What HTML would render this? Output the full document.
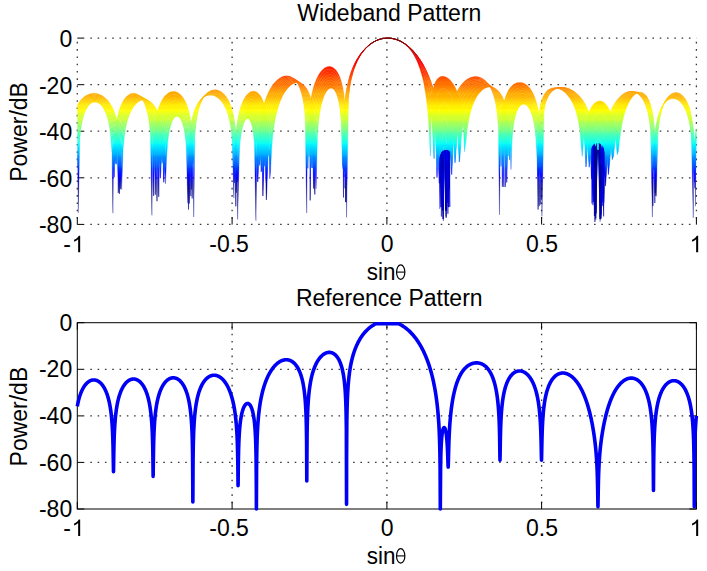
<!DOCTYPE html><html><head><meta charset="utf-8"><style>
html,body{margin:0;padding:0;background:#fff;width:707px;height:571px;overflow:hidden}
svg{display:block}
text{font-family:"Liberation Sans",sans-serif;font-size:23px;fill:#000}
</style></head><body>
<svg width="707" height="571" viewBox="0 0 707 571">

<line x1="232.1" y1="41.8" x2="232.1" y2="224.4" stroke="#3a3a3a" stroke-width="1.3" stroke-dasharray="1.6 5.7"/>
<line x1="386.9" y1="41.8" x2="386.9" y2="224.4" stroke="#3a3a3a" stroke-width="1.3" stroke-dasharray="1.6 5.7"/>
<line x1="541.6" y1="41.8" x2="541.6" y2="224.4" stroke="#3a3a3a" stroke-width="1.3" stroke-dasharray="1.6 5.7"/>
<line x1="90.3" y1="84.7" x2="696.4" y2="84.7" stroke="#3a3a3a" stroke-width="1.3" stroke-dasharray="1.6 5.7"/>
<line x1="90.3" y1="131.2" x2="696.4" y2="131.2" stroke="#3a3a3a" stroke-width="1.3" stroke-dasharray="1.6 5.7"/>
<line x1="90.3" y1="177.8" x2="696.4" y2="177.8" stroke="#3a3a3a" stroke-width="1.3" stroke-dasharray="1.6 5.7"/>
<line x1="90.3" y1="38.1" x2="696.4" y2="38.1" stroke="#3a3a3a" stroke-width="1.3" stroke-dasharray="1.6 5.7"/>
<line x1="90.3" y1="224.4" x2="696.4" y2="224.4" stroke="#3a3a3a" stroke-width="1.3" stroke-dasharray="1.6 5.7"/>
<line x1="77.3" y1="41.8" x2="77.3" y2="224.4" stroke="#3a3a3a" stroke-width="1.3" stroke-dasharray="1.6 5.7"/>
<line x1="696.4" y1="41.8" x2="696.4" y2="224.4" stroke="#3a3a3a" stroke-width="1.3" stroke-dasharray="1.6 5.7"/>
<path d="M77.3 224.4v-7M232.1 224.4v-7M386.9 224.4v-7M541.6 224.4v-7M696.4 224.4v-7M77.3 38.1h7M77.3 84.7h7M77.3 131.2h7M77.3 177.8h7M77.3 224.4h7" stroke="#000" stroke-width="1" fill="none"/>
<defs><linearGradient id="jetg" gradientUnits="userSpaceOnUse" x1="0" y1="38.10" x2="0" y2="224.40"><stop offset="0.0000" stop-color="#800000"/><stop offset="0.0125" stop-color="#800000"/><stop offset="0.0250" stop-color="#8f0000"/><stop offset="0.0375" stop-color="#9f0000"/><stop offset="0.0500" stop-color="#af0000"/><stop offset="0.0625" stop-color="#af0000"/><stop offset="0.0750" stop-color="#bf0000"/><stop offset="0.0875" stop-color="#cf0000"/><stop offset="0.1000" stop-color="#df0000"/><stop offset="0.1125" stop-color="#ef0000"/><stop offset="0.1250" stop-color="#ef0000"/><stop offset="0.1375" stop-color="#ff0000"/><stop offset="0.1500" stop-color="#ff1000"/><stop offset="0.1625" stop-color="#ff2000"/><stop offset="0.1750" stop-color="#ff3000"/><stop offset="0.1875" stop-color="#ff3000"/><stop offset="0.2000" stop-color="#ff4000"/><stop offset="0.2125" stop-color="#ff5000"/><stop offset="0.2250" stop-color="#ff6000"/><stop offset="0.2375" stop-color="#ff7000"/><stop offset="0.2500" stop-color="#ff7000"/><stop offset="0.2625" stop-color="#ff8000"/><stop offset="0.2750" stop-color="#ff8f00"/><stop offset="0.2875" stop-color="#ff9f00"/><stop offset="0.3000" stop-color="#ffaf00"/><stop offset="0.3125" stop-color="#ffaf00"/><stop offset="0.3250" stop-color="#ffbf00"/><stop offset="0.3375" stop-color="#ffcf00"/><stop offset="0.3500" stop-color="#ffdf00"/><stop offset="0.3625" stop-color="#ffef00"/><stop offset="0.3750" stop-color="#ffef00"/><stop offset="0.3875" stop-color="#ffff00"/><stop offset="0.4000" stop-color="#efff10"/><stop offset="0.4125" stop-color="#dfff20"/><stop offset="0.4250" stop-color="#cfff30"/><stop offset="0.4375" stop-color="#cfff30"/><stop offset="0.4500" stop-color="#afff50"/><stop offset="0.4625" stop-color="#9fff60"/><stop offset="0.4750" stop-color="#8fff70"/><stop offset="0.4875" stop-color="#80ff80"/><stop offset="0.5000" stop-color="#70ff8f"/><stop offset="0.5125" stop-color="#50ffaf"/><stop offset="0.5250" stop-color="#40ffbf"/><stop offset="0.5375" stop-color="#30ffcf"/><stop offset="0.5500" stop-color="#20ffdf"/><stop offset="0.5625" stop-color="#10ffef"/><stop offset="0.5750" stop-color="#00efff"/><stop offset="0.5875" stop-color="#00dfff"/><stop offset="0.6000" stop-color="#00cfff"/><stop offset="0.6125" stop-color="#00bfff"/><stop offset="0.6250" stop-color="#00afff"/><stop offset="0.6375" stop-color="#008fff"/><stop offset="0.6500" stop-color="#0080ff"/><stop offset="0.6625" stop-color="#0070ff"/><stop offset="0.6750" stop-color="#0060ff"/><stop offset="0.6875" stop-color="#0050ff"/><stop offset="0.7000" stop-color="#0030ff"/><stop offset="0.7125" stop-color="#0020ff"/><stop offset="0.7250" stop-color="#0010ff"/><stop offset="0.7375" stop-color="#0000ff"/><stop offset="0.7500" stop-color="#0000ef"/><stop offset="0.7625" stop-color="#0000cf"/><stop offset="0.7750" stop-color="#0000bf"/><stop offset="0.7875" stop-color="#0000af"/><stop offset="0.8000" stop-color="#00009f"/><stop offset="0.8125" stop-color="#00008f"/><stop offset="0.8250" stop-color="#00008f"/><stop offset="0.8375" stop-color="#00008f"/><stop offset="0.8500" stop-color="#00008f"/><stop offset="0.8625" stop-color="#00008f"/><stop offset="0.8750" stop-color="#00008f"/><stop offset="0.8875" stop-color="#00008f"/><stop offset="0.9000" stop-color="#00008f"/><stop offset="0.9125" stop-color="#00008f"/><stop offset="0.9250" stop-color="#00008f"/><stop offset="0.9375" stop-color="#00008f"/><stop offset="0.9500" stop-color="#00008f"/><stop offset="0.9625" stop-color="#00008f"/><stop offset="0.9750" stop-color="#00008f"/><stop offset="0.9875" stop-color="#00008f"/><stop offset="1.0000" stop-color="#00008f"/></linearGradient><clipPath id="c1"><rect x="77.3" y="37.1" width="619.1" height="187.3"/></clipPath><clipPath id="c3"><path d="M439.0 226.4V162.0A7.0 12.0 0 0 1 453.0 162.0V226.4ZM590.5 226.4V153.0A7.0 10.0 0 0 1 604.5 153.0V226.4Z"/></clipPath></defs><g clip-path="url(#c1)"><path d="M77.3 108 77.5 107.5 78.2 106.1 79.8 103.5 81 101.7 82.3 100.2 83.5 99 84.7 97.9 86 97 87.2 96.2 88.4 95.6 89.7 95.1 90.9 94.8 92.2 94.5 93.4 94.4 94.6 94.4 95.9 94.5 97.1 94.7 98.3 95.1 99.6 95.5 100.8 96.1 102.1 96.8 103.3 97.7 104.5 98.7 105.8 99.9 107 101.2 108.3 102.8 109.5 104.6 110.7 106.8 112 109.2 112.9 111.4 113.5 112.9 114 114.4 114.1 114.6 114.6 116.4 115.1 117.9 115.2 118.4 115.8 120.7 116.1 122.3 116.4 123.3 116.9 126.3 117.2 128 117.5 129.9 118.1 134.2 118.3 136.1 119.4 150 120.5 189.1 121.6 155.3 123.1 136.5 124.4 128.3 125.6 122.5 126.8 118 128.1 114.4 129.3 111.4 130.5 108.9 131.8 106.8 133 105.1 134.3 103.6 135.5 102.4 136.7 101.3 138 100.5 139.2 99.9 140.4 99.4 141.7 99.1 142.9 99 144.2 99.1 145.4 99.3 146.6 99.7 147.9 100.3 149.1 101.1 150.4 102.1 151.9 103.7 152.8 104.9 153.6 106 153.7 106.2 154.6 107.7 155.3 109 155.5 109.5 156.4 111.5 157 112.9 157.3 113.9 158.3 116.7 158.7 118.3 159.2 120.1 160.1 124.3 160.4 126.2 162.1 139.9 162.7 148.8 163.8 182.3 165.5 146.6 166.5 137.7 167.7 130 168.9 124.7 170.2 120.8 171.4 118 172.6 115.9 173.9 114.5 175.1 113.6 176.4 113.2 177.6 113.4 178.8 114.1 180.1 115.4 181.3 117.3 182.5 120.1 183.8 123.9 185 129.4 186.3 137.7 187.8 160.2 188.5 209.5 189.3 151.7 190 138.3 190.2 136.4 190.6 132.2 190.8 130.4 190.9 128.8 191.3 125.9 191.5 124.9 191.7 123.4 192.1 121.2 192.2 120.7 192.5 119.2 192.9 117.4 193 117.2 193.3 115.8 193.7 114.4 194.9 110.4 196.2 107.3 197.4 104.7 198.6 102.6 199.9 100.8 201.1 99.3 202.4 98.1 203.6 97.1 204.8 96.2 206.1 95.6 207.3 95.1 208.5 94.7 209.8 94.5 211 94.5 212.3 94.6 213.5 94.8 214.7 95.2 216 95.7 217.2 96.4 218.5 97.3 219.7 98.3 220.9 99.5 222.2 101 223.4 102.7 224.6 104.8 225.9 107.2 227.1 110.1 228.4 113.6 229.6 118.1 230.8 124 232.1 132.5 233.9 163.5 234.4 182.8 234.9 166.5 235.3 152.4 235.4 150.3 235.7 145.5 235.8 143.4 235.9 141.5 236.2 138.1 236.3 136.9 236.4 135.1 236.7 132.5 236.7 131.9 236.9 130.2 237.2 128.1 237.2 127.8 237.4 126.1 237.6 124.3 239.5 114.3 240.7 109.6 242 105.9 243.2 102.9 244.5 100.5 245.7 98.5 246.9 96.9 248.2 95.7 249.4 94.8 250.6 94.1 251.9 93.8 253.1 93.8 254.4 94 255.9 94.8 256.8 95.5 257.7 96.3 257.8 96.4 258.7 97.6 259.4 98.6 259.6 99 260.6 100.8 261.1 102 261.5 102.9 262.4 105.5 262.9 107 263.3 108.7 264.3 112.7 264.6 114.5 266.4 127.7 268.1 156.1 269.8 146 270.5 139.7 271.7 129.3 272.9 121.4 274.2 115.2 275.4 110.2 276.7 106 277.9 102.4 279.1 99.3 280.4 96.6 281.6 94.2 282.8 92 284.1 90.1 285.3 88.5 286.6 87 287.8 85.8 289 84.7 290.3 83.8 291.5 83 292.7 82.5 294 82 295.2 81.8 296.5 81.7 297.7 81.9 298.9 82.2 300.2 82.7 301.4 83.4 302.7 84.4 303.9 85.7 305.1 87.4 306.7 90 307.3 91.3 307.8 92.6 307.9 92.8 308.5 94.4 309 95.8 309.2 96.2 309.8 98.4 310.2 99.8 310.4 100.8 311 103.7 311.3 105.3 311.6 107.1 312.2 111.3 312.5 113.2 313.6 127 314.8 194.5 316 141.1 317.5 120.3 318.7 111.2 320 104.7 321.2 99.8 322.5 95.9 323.7 92.8 324.9 90.4 326.2 88.5 327.4 87.1 328.7 86.1 329.9 85.6 331.1 85.5 332.4 85.8 333.6 86.7 334.8 88.1 336.1 90.1 337.3 93.1 338.6 97.1 339.8 103 341 112.3 342.5 139.2 343 168.6 343.5 131.9 344 117.9 344.1 115.9 344.4 111.4 344.5 109.4 344.7 107.7 344.9 104.5 345 103.4 345.2 101.7 345.5 99.2 345.5 98.6 345.7 97 346 94.9 346 94.7 346.3 93.1 346.5 91.4 348.5 81.7 349.7 77 350.9 73.1 352.2 69.7 353.4 66.6 354.7 63.9 355.9 61.5 357.1 59.3 358.4 57.3 359.6 55.4 360.8 53.7 362.1 52.1 363.3 50.6 364.6 49.2 365.8 48 367 46.8 368.3 45.7 369.5 44.7 370.8 43.8 372 43 373.2 42.2 374.5 41.5 375.7 40.9 376.9 40.3 378.2 39.8 379.4 39.4 380.7 39 381.9 38.7 383.1 38.5 384.4 38.3 385.6 38.2 386.9 38.1 388.1 38.1 389.3 38.2 390.6 38.3 391.8 38.4 393 38.7 394.3 38.9 395.5 39.3 396.8 39.7 398 40.2 399.2 40.7 400.5 41.3 401.7 42 402.9 42.7 404.2 43.6 405.4 44.5 406.7 45.5 407.9 46.6 409.1 47.8 410.4 49.1 411.6 50.5 412.9 52.1 414.1 53.8 415.3 55.7 416.6 57.7 417.8 59.9 419 62.4 420.3 65.1 421.5 68.1 422.8 71.5 424 75.3 425.2 79.5 426.5 84.4 427.7 90.1 428.9 96.9 430.4 106.7 431.4 116.3 432.7 132.6 434.1 158.7 435.1 109 436.4 99.5 437 96.6 439.3 91 439.7 90.5 440.7 89.5 441.1 89.2 441.4 89 442 88.8 442.2 88.7 442.5 88.6 442.9 88.6 443 88.6 443.1 88.6 443.3 88.6 443.3 88.6 443.3 88.6 443.4 88.6 445 89.1 446 89.6 446 89.6 446.1 89.7 446.1 89.7 446.3 89.9 446.6 90.1 446.7 90.2 447.2 90.7 447.6 91.1 447.9 91.4 448.7 92.5 449.3 93.3 449.8 94.2 451.2 96.8 451.7 98.1 452.5 100 453.7 103.9 455 109.1 456.2 115.5 457.4 125.7 459.3 162 459.9 156.7 461.1 139 462.4 127.8 463.6 120.2 464.5 115.7 466.1 109.9 467.3 106.1 468.6 102.9 469.8 100.2 471 97.9 472.3 95.8 473.5 94 474.8 92.5 476 91.1 477.2 89.9 478.5 88.9 479.7 88 481 87.3 482.2 86.7 483.4 86.2 484.7 85.9 485.9 85.7 487.1 85.7 488.4 85.8 489.6 86 490.9 86.4 492.1 86.9 493.3 87.6 494.6 88.4 495.8 89.5 497 90.8 498.3 92.3 499.5 94.2 500.3 95.5 501 96.8 501.1 97 501.8 98.6 502.4 100 502.6 100.5 503.3 102.6 503.8 104.1 504.1 105.1 504.9 108 505.3 109.6 505.6 111.4 506.4 115.6 506.7 117.5 508.1 130.9 509.5 159.8 511 134.1 511.9 125.3 513.1 117.9 514.4 113 515.6 109.4 516.9 106.7 518.1 104.7 519.3 103.3 520.6 102.3 521.8 101.7 523.1 101.5 524.3 101.7 525.5 102.2 526.8 103.1 528 104.4 529.2 106.1 530.5 108.4 531.7 111.3 533 115.2 534.2 120.3 535.4 127.7 536.7 139.9 537.6 160 538.1 209.5 538.7 128.7 539.2 118.9 539.3 117.6 539.6 114.6 539.8 113.3 539.9 112.1 540.2 110 540.3 109.3 540.5 108.2 540.8 106.7 540.9 106.3 541.1 105.3 541.4 104 541.4 103.9 541.6 102.9 541.9 101.8 544.1 96.2 545.3 94.1 546.6 92.5 547.8 91.2 549.1 90.1 550.3 89.3 551.5 88.8 552.8 88.3 554 88 555.2 87.9 556.5 87.9 557.7 88 559 88.2 560.2 88.5 561.4 88.9 562.7 89.4 563.9 90.1 565.2 90.8 566.4 91.7 567.6 92.6 568.9 93.8 570.1 95 571.3 96.4 572.6 98 573.8 99.7 575.1 101.8 576.3 104.1 577.5 106.7 578.8 109.8 580 113.5 581.2 118.1 582.2 122.5 583.7 132.7 585 147.1 586 167 587.4 147.2 589.2 132.6 589.9 128.6 591.6 122.2 592 121 593 118.6 593.4 117.7 593.8 117 594.4 115.9 594.6 115.6 594.9 115.2 595.3 114.7 595.4 114.6 595.6 114.4 595.7 114.3 595.7 114.3 595.8 114.2 595.8 114.2 597.3 113 598.6 112.5 600.1 112.6 600.1 112.6 600.2 112.6 600.2 112.6 600.4 112.7 600.7 112.8 600.8 112.8 601.2 113.1 601.6 113.3 601.9 113.5 602.7 114.3 603.1 114.8 603.7 115.5 604.9 117.5 605.4 118.6 606 120 607.2 123.7 608.4 128.3 609.7 135.6 611 146.3 612.3 159.6 613.4 156 614.7 144.4 615.9 134.6 617.2 127.2 618.4 121.4 619.6 116.6 620.9 112.7 622.1 109.3 623.3 106.4 624.6 103.9 625.8 101.7 627.1 99.7 628.3 98.1 629.5 96.7 630.8 95.4 632 94.4 633.3 93.6 634.5 93 635.7 92.5 637 92.3 638.2 92.2 639.4 92.4 640.7 92.8 641.9 93.4 643.2 94.2 644.4 95.4 645.6 96.9 646.9 98.7 648.1 101.1 649.3 104.1 650.6 108 652.4 116.5 652.7 118.1 652.9 119.5 652.9 119.8 653.2 121.6 653.4 123.1 653.4 123.7 653.7 125.9 653.8 127.5 653.9 128.6 654.2 131.6 654.3 133.3 654.4 135.1 654.7 139.5 654.8 141.4 655.2 155.2 655.7 195.8 656.2 160.7 658 128.3 659.3 119.7 660.5 113.8 661.7 109.4 663 105.9 664.2 103.1 665.4 100.8 666.7 98.9 667.9 97.4 669.2 96.1 670.4 95.1 671.6 94.4 672.9 93.8 674.1 93.5 675.4 93.4 676.6 93.4 677.8 93.7 679.1 94.1 680.3 94.8 681.5 95.7 682.8 96.9 684 98.3 685.3 100.1 686.5 102.3 687.7 104.9 689 108.2 690.2 112.3 691.4 117.8 693.3 131.1 693.4 132.6 693.6 134.1 693.6 134.3 693.7 136 693.8 137.5 693.9 138 694 140.1 694.1 141.6 694.2 142.5 694.3 145.1 694.4 146.5 694.5 148 694.6 151.2 694.7 152.5 694.9 159.3 695.2 163 695.5 158.8 696.4 139.9 696.4 145.1 695.5 206.2 695.2 169.6 694.9 155.8 694.7 147.7 694.6 146.4 694.5 143.3 694.4 141.9 694.3 140.6 694.2 138.2 694.1 137.4 694 136.1 693.9 134.2 693.8 133.7 693.7 132.4 693.6 130.8 693.6 130.6 693.4 129.3 693.3 127.9 691.4 115.7 690.2 110.5 689 106.6 687.7 103.4 686.5 100.9 685.3 98.8 684 97.2 682.8 95.8 681.5 94.7 680.3 93.8 679.1 93.2 677.8 92.8 676.6 92.6 675.4 92.6 674.1 92.8 672.9 93.2 671.6 93.8 670.4 94.7 669.2 95.8 667.9 97.1 666.7 98.8 665.4 100.8 664.2 103.2 663 106.3 661.7 110 660.5 114.9 659.3 121.6 658 131.9 656.2 196.4 655.7 153.2 655.2 139.4 654.8 131.3 654.7 130 654.4 126.9 654.3 125.5 654.2 124.3 653.9 121.9 653.8 121.1 653.7 119.9 653.4 118 653.4 117.6 653.2 116.3 652.9 114.8 652.9 114.6 652.7 113.4 652.4 112.1 650.6 104.7 649.3 101.3 648.1 98.6 646.9 96.6 645.6 95.1 644.4 93.9 643.2 93.1 641.9 92.6 640.7 92.4 639.4 92.4 638.2 92.7 637 93.2 635.7 93.9 634.5 94.9 633.3 96.1 632 97.5 630.8 99.3 629.5 101.3 628.3 103.7 627.1 106.5 625.8 109.8 624.6 113.6 623.3 118.2 622.1 123.9 620.9 131.1 619.6 140.4 618.4 151.2 617.2 154.8 615.9 142.1 614.7 130.6 613.4 123.1 612.3 118.2 611 113.7 609.7 110.6 608.4 107.9 607.2 106 606 104.4 605.4 103.7 604.9 103.2 603.7 102.3 603.1 101.9 602.7 101.7 601.9 101.3 601.6 101.2 601.2 101.1 600.8 101 600.7 101 600.4 101 600.2 101 600.2 101 600.1 100.9 600.1 100.9 598.6 101 597.3 101.4 595.8 102.2 595.8 102.2 595.7 102.2 595.7 102.2 595.6 102.3 595.4 102.5 595.3 102.5 594.9 102.8 594.6 103.1 594.4 103.3 593.8 103.9 593.4 104.3 593 104.8 592 106.1 591.6 106.8 589.9 109.9 589.2 111.6 587.4 116.7 586 122.4 585 128.5 583.7 138.9 582.2 156.3 581.2 145.9 580 132 578.8 123.4 577.5 117.3 576.3 112.6 575.1 108.8 573.8 105.7 572.6 103 571.3 100.7 570.1 98.7 568.9 96.9 567.6 95.4 566.4 94 565.2 92.8 563.9 91.7 562.7 90.8 561.4 90 560.2 89.4 559 88.8 557.7 88.4 556.5 88.1 555.2 88 554 87.9 552.8 88 551.5 88.3 550.3 88.7 549.1 89.3 547.8 90.1 546.6 91.2 545.3 92.7 544.1 94.5 541.9 99.3 541.6 100.2 541.4 101 541.4 101.1 541.1 102.1 540.9 103 540.8 103.3 540.5 104.5 540.3 105.4 540.2 105.9 539.9 107.5 539.8 108.4 539.6 109.3 539.3 111.4 539.2 112.3 538.7 118 538.1 127.7 537.6 176.8 536.7 149.7 535.4 133.3 534.2 124.5 533 118.6 531.7 114.4 530.5 111.2 529.2 108.7 528 106.9 526.8 105.6 525.5 104.7 524.3 104.3 523.1 104.3 521.8 104.7 520.6 105.5 519.3 106.9 518.1 108.8 516.9 111.5 515.6 115.2 514.4 120.4 513.1 128.4 511.9 143.5 511 169.5 509.5 131 508.1 117.3 506.7 109.4 506.4 108.2 505.6 105.3 505.3 104 504.9 102.8 504.1 100.6 503.8 99.9 503.3 98.8 502.6 97.1 502.4 96.7 501.8 95.7 501.1 94.4 501 94.2 500.3 93.2 499.5 92.2 498.3 90.8 497 89.7 495.8 88.8 494.6 88.1 493.3 87.5 492.1 87.2 490.9 87 489.6 87 488.4 87.2 487.1 87.5 485.9 87.9 484.7 88.5 483.4 89.3 482.2 90.3 481 91.4 479.7 92.7 478.5 94.3 477.2 96 476 98.1 474.8 100.5 473.5 103.2 472.3 106.5 471 110.4 469.8 115.1 468.6 121.2 467.3 129.2 466.1 140.3 464.5 151.8 463.6 132.3 462.4 116.3 461.1 107.3 459.9 101.1 459.3 98.6 457.4 92.7 456.2 89.6 455 87.1 453.7 84.8 452.5 82.9 451.7 81.9 451.2 81.2 449.8 79.8 449.3 79.3 448.7 78.8 447.9 78.2 447.6 78 447.2 77.7 446.7 77.4 446.6 77.3 446.3 77.2 446.1 77.1 446.1 77.1 446 77.1 446 77.1 445 76.7 443.4 76.3 443.3 76.3 443.3 76.3 443.3 76.3 443.1 76.3 443 76.3 442.9 76.3 442.5 76.3 442.2 76.3 442 76.3 441.4 76.4 441.1 76.5 440.7 76.6 439.7 77 439.3 77.2 437 79.3 436.4 80.2 435.1 82.5 434.1 85.3 432.7 91 431.4 101 430.4 156.1 428.9 127.7 427.7 111 426.5 99.8 425.2 91.3 424 84.5 422.8 78.8 421.5 74 420.3 69.9 419 66.3 417.8 63.1 416.6 60.2 415.3 57.7 414.1 55.4 412.9 53.4 411.6 51.6 410.4 49.9 409.1 48.4 407.9 47.1 406.7 45.9 405.4 44.8 404.2 43.8 402.9 42.9 401.7 42.1 400.5 41.4 399.2 40.7 398 40.2 396.8 39.7 395.5 39.3 394.3 38.9 393 38.7 391.8 38.4 390.6 38.3 389.3 38.2 388.1 38.1 386.9 38.1 385.6 38.2 384.4 38.3 383.1 38.5 381.9 38.7 380.7 39 379.4 39.4 378.2 39.8 376.9 40.3 375.7 40.9 374.5 41.5 373.2 42.2 372 43 370.8 43.8 369.5 44.7 368.3 45.7 367 46.8 365.8 47.9 364.6 49.2 363.3 50.5 362.1 52 360.8 53.6 359.6 55.2 358.4 57.1 357.1 59.1 355.9 61.2 354.7 63.6 353.4 66.2 352.2 69.1 350.9 72.4 349.7 76.1 348.5 80.4 346.5 89.2 346.3 90.7 346 92.1 346 92.4 345.7 94.1 345.5 95.5 345.5 96 345.2 98.1 345 99.4 344.9 100.3 344.7 102.8 344.5 104.2 344.4 105.7 344.1 108.9 344 110.3 343.5 118.7 343 132.7 342.5 166.2 341 119.5 339.8 107.8 338.6 100.9 337.3 96.3 336.1 93.1 334.8 90.8 333.6 89.3 332.4 88.5 331.1 88.2 329.9 88.4 328.7 89.1 327.4 90.2 326.2 91.9 324.9 94.2 323.7 97.1 322.5 100.8 321.2 105.6 320 111.9 318.7 120.8 317.5 135.2 316 188.8 314.8 127.6 313.6 113.8 312.5 105.9 312.2 104.7 311.6 101.7 311.3 100.5 311 99.3 310.4 97.1 310.2 96.4 309.8 95.2 309.2 93.6 309 93.2 308.5 92.1 307.9 90.8 307.8 90.7 307.3 89.7 306.7 88.6 305.1 86.5 303.9 85.2 302.7 84.2 301.4 83.5 300.2 83 298.9 82.7 297.7 82.6 296.5 82.7 295.2 82.9 294 83.4 292.7 84 291.5 84.8 290.3 85.7 289 86.9 287.8 88.2 286.6 89.7 285.3 91.4 284.1 93.4 282.8 95.6 281.6 98.2 280.4 101 279.1 104.3 277.9 108.2 276.7 112.7 275.4 118.2 274.2 125.1 272.9 134.4 271.7 148.2 270.5 172.1 269.8 179 268.1 126.8 266.4 113.2 264.6 105.6 264.3 104.4 263.3 101.7 262.9 100.6 262.4 99.5 261.5 97.6 261.1 97 260.6 96.1 259.6 94.8 259.4 94.5 258.7 93.7 257.8 92.9 257.7 92.8 256.8 92.2 255.9 91.7 254.4 91.3 253.1 91.2 251.9 91.4 250.6 91.8 249.4 92.5 248.2 93.5 246.9 94.8 245.7 96.3 244.5 98.3 243.2 100.6 242 103.4 240.7 106.9 239.5 111.2 237.6 120.2 237.4 121.8 237.2 123.2 237.2 123.4 236.9 125.3 236.7 126.7 236.7 127.2 236.4 129.4 236.3 130.9 236.2 131.8 235.9 134.5 235.8 135.9 235.7 137.5 235.4 141 235.3 142.5 234.9 151.7 234.4 167.2 233.9 198 232.1 137.8 230.8 127.5 229.6 120.9 228.4 115.9 227.1 112.1 225.9 109 224.6 106.4 223.4 104.2 222.2 102.4 220.9 100.8 219.7 99.5 218.5 98.4 217.2 97.4 216 96.7 214.7 96.1 213.5 95.6 212.3 95.3 211 95.2 209.8 95.2 208.5 95.3 207.3 95.6 206.1 96 204.8 96.5 203.6 97.3 202.4 98.2 201.1 99.3 199.9 100.7 198.6 102.3 197.4 104.2 196.2 106.5 194.9 109.3 193.7 112.7 193.3 114 193 115.1 192.9 115.3 192.5 116.8 192.2 118 192.1 118.4 191.7 120.2 191.5 121.4 191.3 122.2 190.9 124.5 190.8 125.7 190.6 127 190.2 130 190 131.2 189.3 139 188.5 152.4 187.8 203.3 186.3 146.4 185 134.9 183.8 128.2 182.5 123.6 181.3 120.5 180.1 118.4 178.8 117 177.6 116.4 176.4 116.4 175.1 117.1 173.9 118.4 172.6 120.5 171.4 123.5 170.2 127.6 168.9 133.6 167.7 142.6 166.5 159.6 165.5 183.8 163.8 141 162.7 131.2 162.1 127.3 160.4 119.4 160.1 118.2 159.2 115.3 158.7 114 158.3 112.9 157.3 110.8 157 110.1 156.4 109 155.5 107.4 155.3 107 154.6 106 153.7 104.9 153.6 104.7 152.8 103.8 151.9 102.9 150.4 101.7 149.1 101 147.9 100.4 146.6 100 145.4 99.8 144.2 99.8 142.9 100 141.7 100.3 140.4 100.7 139.2 101.4 138 102.2 136.7 103.2 135.5 104.5 134.3 105.9 133 107.7 131.8 109.7 130.5 112.2 129.3 115.1 128.1 118.6 126.8 122.9 125.6 128.6 124.4 136.4 123.1 148.9 121.6 189.6 120.5 149.8 119.4 135.9 118.3 127.8 118.1 126.5 117.5 123.5 117.2 122.1 116.9 120.8 116.4 118.5 116.1 117.7 115.8 116.4 115.2 114.6 115.1 114.1 114.6 112.9 114.1 111.3 114 111.2 113.5 109.9 112.9 108.6 112 106.8 110.7 104.6 109.5 102.7 108.3 101 107 99.6 105.8 98.4 104.5 97.3 103.3 96.4 102.1 95.6 100.8 94.9 99.6 94.4 98.3 94 97.1 93.6 95.9 93.4 94.6 93.3 93.4 93.3 92.2 93.4 90.9 93.6 89.7 93.9 88.4 94.3 87.2 94.9 86 95.5 84.7 96.4 83.5 97.3 82.3 98.4 81 99.7 79.8 101.3 78.2 103.5 77.5 104.7 77.3 105.1z" fill="url(#jetg)" stroke="url(#jetg)" stroke-width="0.3"/>
<path d="M77.3 111.3 77.5 110.7 78.2 109.1 79.8 105.9 81 103.9 82.3 102.2 83.5 100.7 84.7 99.5 86 98.4 87.2 97.6 88.4 96.9 89.7 96.3 90.9 95.9 92.2 95.7 93.4 95.5 94.6 95.5 95.9 95.6 97.1 95.9 98.3 96.2 99.6 96.7 100.8 97.3 102.1 98.1 103.3 99 104.5 100.1 105.8 101.4 107 102.9 108.3 104.7 109.5 106.7 110.7 109.1 112 112 112.9 114.6 113.5 116.4 114 118.1 114.1 118.4 114.6 120.6 115.1 122.5 115.2 123.1 115.8 126.1 116.1 128.2 116.4 129.6 116.9 133.8 117.2 136.3 117.5 139.2 118.1 146.6 118.3 150.2 119.4 193.9 120.5 154.4 121.6 139.6 123.1 128.1 124.4 122 125.6 117.4 126.8 113.7 128.1 110.7 129.3 108.1 130.5 106 131.8 104.2 133 102.7 134.3 101.5 135.5 100.5 136.7 99.6 138 99 139.2 98.5 140.4 98.3 141.7 98.2 142.9 98.3 144.2 98.5 145.4 99 146.6 99.6 147.9 100.4 149.1 101.5 150.4 102.9 151.9 105 152.8 106.4 153.6 107.9 153.7 108.2 154.6 110.1 155.3 111.8 155.5 112.5 156.4 115.2 157 117.2 157.3 118.5 158.3 122.5 158.7 124.9 159.2 127.7 160.1 134.7 160.4 138.1 162.1 163.1 162.7 158.4 163.8 144.4 165.5 131.1 166.5 126.4 167.7 121.6 168.9 118.1 170.2 115.4 171.4 113.3 172.6 111.8 173.9 110.8 175.1 110.2 176.4 110.1 177.6 110.4 178.8 111.2 180.1 112.4 181.3 114.2 182.5 116.6 183.8 120 185 124.5 186.3 131 187.8 145.1 188.5 159 189.3 203.5 190 150.9 190.2 147.4 190.6 140.2 190.8 137.5 190.9 135.1 191.3 131 191.5 129.6 191.7 127.6 192.1 124.8 192.2 124.1 192.5 122.3 192.9 120.1 193 119.9 193.3 118.2 193.7 116.5 194.9 111.9 196.2 108.3 197.4 105.4 198.6 103.1 199.9 101.1 201.1 99.4 202.4 98.1 203.6 96.9 204.8 96 206.1 95.2 207.3 94.6 208.5 94.2 209.8 93.9 211 93.8 212.3 93.8 213.5 94 214.7 94.3 216 94.8 217.2 95.4 218.5 96.2 219.7 97.1 220.9 98.3 222.2 99.7 223.4 101.3 224.6 103.2 225.9 105.4 227.1 108.1 228.4 111.4 229.6 115.5 230.8 120.7 232.1 127.9 233.9 148.9 234.4 159.6 234.9 169.4 235.3 162.9 235.4 160.7 235.7 154.9 235.8 152.3 235.9 149.8 236.2 145.5 236.3 144.1 236.4 141.8 236.7 138.6 236.7 137.9 236.9 135.8 237.2 133.3 237.2 133 237.4 131 237.6 128.9 239.5 117.6 240.7 112.5 242 108.6 243.2 105.4 244.5 102.9 245.7 100.9 246.9 99.3 248.2 98 249.4 97.2 250.6 96.7 251.9 96.5 253.1 96.7 254.4 97.2 255.9 98.3 256.8 99.4 257.7 100.5 257.8 100.7 258.7 102.3 259.4 103.7 259.6 104.3 260.6 106.7 261.1 108.6 261.5 109.8 262.4 113.7 262.9 116 263.3 118.8 264.3 126 264.6 129.6 266.4 199.9 268.1 149.4 269.8 130.2 270.5 125.7 271.7 118.4 272.9 112.7 274.2 108 275.4 104 276.7 100.6 277.9 97.6 279.1 95 280.4 92.7 281.6 90.7 282.8 88.9 284.1 87.3 285.3 85.9 286.6 84.7 287.8 83.7 289 82.8 290.3 82.1 291.5 81.5 292.7 81.2 294 80.9 295.2 80.9 296.5 81 297.7 81.4 298.9 81.9 300.2 82.7 301.4 83.7 302.7 85 303.9 86.6 305.1 88.7 306.7 91.9 307.3 93.6 307.8 95.1 307.9 95.4 308.5 97.5 309 99.2 309.2 99.9 309.8 102.7 310.2 104.7 310.4 106 311 110.2 311.3 112.6 311.6 115.4 312.2 122.8 312.5 126.4 313.6 188.5 314.8 139.7 316 122.7 317.5 110.3 318.7 103.7 320 98.6 321.2 94.6 322.5 91.4 323.7 88.9 324.9 86.8 326.2 85.2 327.4 84 328.7 83.2 329.9 82.8 331.1 82.8 332.4 83.2 333.6 84 334.8 85.3 336.1 87.3 337.3 89.9 338.6 93.6 339.8 98.7 341 106.3 342.5 124.3 343 138.2 343.5 197.5 344 131.4 344.1 127.6 344.4 120.1 344.5 117.1 344.7 114.5 344.9 110.1 345 108.7 345.2 106.4 345.5 103.3 345.5 102.6 345.7 100.6 346 98.1 346 97.8 346.3 95.9 346.5 93.9 348.5 83.1 349.7 78.1 350.9 73.9 352.2 70.3 353.4 67.1 354.7 64.3 355.9 61.8 357.1 59.5 358.4 57.5 359.6 55.6 360.8 53.8 362.1 52.2 363.3 50.7 364.6 49.3 365.8 48 367 46.8 368.3 45.8 369.5 44.7 370.8 43.8 372 43 373.2 42.2 374.5 41.5 375.7 40.9 376.9 40.3 378.2 39.8 379.4 39.4 380.7 39 381.9 38.7 383.1 38.5 384.4 38.3 385.6 38.2 386.9 38.1 388.1 38.1 389.3 38.2 390.6 38.3 391.8 38.4 393 38.7 394.3 38.9 395.5 39.3 396.8 39.7 398 40.1 399.2 40.7 400.5 41.3 401.7 41.9 402.9 42.7 404.2 43.5 405.4 44.3 406.7 45.3 407.9 46.3 409.1 47.4 410.4 48.7 411.6 50 412.9 51.4 414.1 53 415.3 54.6 416.6 56.4 417.8 58.4 419 60.5 420.3 62.8 421.5 65.3 422.8 68 424 71 425.2 74.3 426.5 78 427.7 82.1 428.9 86.8 430.4 93 431.4 98.4 432.7 106 434.1 117.1 435.1 129.3 436.4 154 437 177.6 439.3 109.3 439.7 107.7 440.7 105 441.1 104.2 441.4 103.6 442 102.9 442.2 102.7 442.5 102.5 442.9 102.4 443 102.3 443.1 102.3 443.3 102.3 443.3 102.3 443.3 102.3 443.4 102.3 445 102.9 446 103.8 446 103.8 446.1 103.9 446.1 103.9 446.3 104.2 446.6 104.6 446.7 104.7 447.2 105.6 447.6 106.3 447.9 106.9 448.7 109.1 449.3 110.5 449.8 112.4 451.2 118 451.7 121 452.5 126.1 453.7 138.9 455 162.9 456.2 148.4 457.4 133.6 459.3 120.6 459.9 117.5 461.1 112.3 462.4 108.1 463.6 104.6 464.5 102.3 466.1 99 467.3 96.8 468.6 94.8 469.8 93.1 471 91.5 472.3 90.2 473.5 89 474.8 88 476 87.1 477.2 86.3 478.5 85.7 479.7 85.2 481 84.8 482.2 84.6 483.4 84.4 484.7 84.4 485.9 84.5 487.1 84.7 488.4 85.1 489.6 85.5 490.9 86.2 492.1 87 493.3 88 494.6 89.1 495.8 90.5 497 92.1 498.3 94.1 499.5 96.4 500.3 98.1 501 99.7 501.1 99.9 501.8 102 502.4 103.8 502.6 104.5 503.3 107.3 503.8 109.3 504.1 110.7 504.9 114.8 505.3 117.2 505.6 120 506.4 127.1 506.7 130.5 508.1 156 509.5 132.3 511 120.3 511.9 115.4 513.1 110.6 514.4 107.1 515.6 104.5 516.9 102.5 518.1 101 519.3 99.9 520.6 99.2 521.8 98.8 523.1 98.8 524.3 99 525.5 99.6 526.8 100.5 528 101.8 529.2 103.5 530.5 105.6 531.7 108.3 533 111.8 534.2 116.4 535.4 122.6 536.7 132 537.6 144.1 538.1 156.8 538.7 175.5 539.2 129.3 539.3 126.7 539.6 121.6 539.8 119.6 539.9 117.8 540.2 114.9 540.3 113.9 540.5 112.5 540.8 110.4 540.9 110 541.1 108.7 541.4 107.1 541.4 106.9 541.6 105.7 541.9 104.5 544.1 98 545.3 95.5 546.6 93.6 547.8 92.1 549.1 90.9 550.3 90 551.5 89.3 552.8 88.7 554 88.3 555.2 88 556.5 87.9 557.7 87.8 559 87.9 560.2 88 561.4 88.3 562.7 88.7 563.9 89.1 565.2 89.7 566.4 90.3 567.6 91.1 568.9 91.9 570.1 92.9 571.3 93.9 572.6 95.2 573.8 96.5 575.1 98 576.3 99.7 577.5 101.6 578.8 103.8 580 106.2 581.2 109.1 582.2 111.6 583.7 116.6 585 121.8 586 127.7 587.4 139.3 589.2 167.2 589.9 160.5 591.6 143.5 592 140.7 593 135.7 593.4 133.9 593.8 132.5 594.4 130.5 594.6 130 594.9 129.2 595.3 128.4 595.4 128.3 595.6 127.9 595.7 127.6 595.7 127.6 595.8 127.5 595.8 127.5 597.3 125.6 598.6 125 600.1 125.5 600.1 125.5 600.2 125.6 600.2 125.6 600.4 125.7 600.7 126 600.8 126.1 601.2 126.6 601.6 127.2 601.9 127.6 602.7 129.3 603.1 130.5 603.7 132.1 604.9 137 605.4 139.8 606 144 607.2 156.7 608.4 174.6 609.7 161.2 611 145.8 612.3 134.9 613.4 128.3 614.7 122.6 615.9 117.9 617.2 114 618.4 110.6 619.6 107.7 620.9 105.2 622.1 103 623.3 101 624.6 99.3 625.8 97.8 627.1 96.5 628.3 95.4 629.5 94.4 630.8 93.6 632 93 633.3 92.6 634.5 92.3 635.7 92.1 637 92.2 638.2 92.4 639.4 92.8 640.7 93.4 641.9 94.3 643.2 95.4 644.4 96.8 645.6 98.5 646.9 100.7 648.1 103.3 649.3 106.7 650.6 111.1 652.4 120.9 652.7 122.7 652.9 124.5 652.9 124.8 653.2 127 653.4 128.9 653.4 129.6 653.7 132.6 653.8 134.7 653.9 136 654.2 140.3 654.3 142.8 654.4 145.6 654.7 152.9 654.8 156.5 655.2 193.2 655.7 161.5 656.2 147.7 658 125.4 659.3 118.1 660.5 112.8 661.7 108.8 663 105.6 664.2 103 665.4 100.9 666.7 99.1 667.9 97.7 669.2 96.5 670.4 95.6 671.6 94.9 672.9 94.5 674.1 94.2 675.4 94.1 676.6 94.2 677.8 94.5 679.1 95.1 680.3 95.8 681.5 96.8 682.8 98 684 99.5 685.3 101.4 686.5 103.6 687.7 106.4 689 109.9 690.2 114.3 691.4 120.2 693.3 135.4 693.4 137.2 693.6 139 693.6 139.3 693.7 141.6 693.8 143.5 693.9 144.2 694 147.1 694.1 149.2 694.2 150.6 694.3 154.7 694.4 157.1 694.5 159.9 694.6 166.7 694.7 169.8 694.9 188.3 695.2 168.8 695.5 156.6 696.4 137.7 696.4 139.9 695.5 158.8 695.2 163 694.9 159.3 694.7 152.5 694.6 151.2 694.5 148 694.4 146.5 694.3 145.1 694.2 142.5 694.1 141.6 694 140.1 693.9 138 693.8 137.5 693.7 136 693.6 134.3 693.6 134.1 693.4 132.6 693.3 131.1 691.4 117.8 690.2 112.3 689 108.2 687.7 104.9 686.5 102.3 685.3 100.1 684 98.3 682.8 96.9 681.5 95.7 680.3 94.8 679.1 94.1 677.8 93.7 676.6 93.4 675.4 93.4 674.1 93.5 672.9 93.8 671.6 94.4 670.4 95.1 669.2 96.1 667.9 97.4 666.7 98.9 665.4 100.8 664.2 103.1 663 105.9 661.7 109.4 660.5 113.8 659.3 119.7 658 128.3 656.2 160.7 655.7 195.8 655.2 155.2 654.8 141.4 654.7 139.5 654.4 135.1 654.3 133.3 654.2 131.6 653.9 128.6 653.8 127.5 653.7 125.9 653.4 123.7 653.4 123.1 653.2 121.6 652.9 119.8 652.9 119.5 652.7 118.1 652.4 116.5 650.6 108 649.3 104.1 648.1 101.1 646.9 98.7 645.6 96.9 644.4 95.4 643.2 94.2 641.9 93.4 640.7 92.8 639.4 92.4 638.2 92.2 637 92.3 635.7 92.5 634.5 93 633.3 93.6 632 94.4 630.8 95.4 629.5 96.7 628.3 98.1 627.1 99.7 625.8 101.7 624.6 103.9 623.3 106.4 622.1 109.3 620.9 112.7 619.6 116.6 618.4 121.4 617.2 127.2 615.9 134.6 614.7 144.4 613.4 156 612.3 159.6 611 146.3 609.7 135.6 608.4 128.3 607.2 123.7 606 120 605.4 118.6 604.9 117.5 603.7 115.5 603.1 114.8 602.7 114.3 601.9 113.5 601.6 113.3 601.2 113.1 600.8 112.8 600.7 112.8 600.4 112.7 600.2 112.6 600.2 112.6 600.1 112.6 600.1 112.6 598.6 112.5 597.3 113 595.8 114.2 595.8 114.2 595.7 114.3 595.7 114.3 595.6 114.4 595.4 114.6 595.3 114.7 594.9 115.2 594.6 115.6 594.4 115.9 593.8 117 593.4 117.7 593 118.6 592 121 591.6 122.2 589.9 128.6 589.2 132.6 587.4 147.2 586 167 585 147.1 583.7 132.7 582.2 122.5 581.2 118.1 580 113.5 578.8 109.8 577.5 106.7 576.3 104.1 575.1 101.8 573.8 99.7 572.6 98 571.3 96.4 570.1 95 568.9 93.8 567.6 92.6 566.4 91.7 565.2 90.8 563.9 90.1 562.7 89.4 561.4 88.9 560.2 88.5 559 88.2 557.7 88 556.5 87.9 555.2 87.9 554 88 552.8 88.3 551.5 88.8 550.3 89.3 549.1 90.1 547.8 91.2 546.6 92.5 545.3 94.1 544.1 96.2 541.9 101.8 541.6 102.9 541.4 103.9 541.4 104 541.1 105.3 540.9 106.3 540.8 106.7 540.5 108.2 540.3 109.3 540.2 110 539.9 112.1 539.8 113.3 539.6 114.6 539.3 117.6 539.2 118.9 538.7 128.7 538.1 209.5 537.6 160 536.7 139.9 535.4 127.7 534.2 120.3 533 115.2 531.7 111.3 530.5 108.4 529.2 106.1 528 104.4 526.8 103.1 525.5 102.2 524.3 101.7 523.1 101.5 521.8 101.7 520.6 102.3 519.3 103.3 518.1 104.7 516.9 106.7 515.6 109.4 514.4 113 513.1 117.9 511.9 125.3 511 134.1 509.5 159.8 508.1 130.9 506.7 117.5 506.4 115.6 505.6 111.4 505.3 109.6 504.9 108 504.1 105.1 503.8 104.1 503.3 102.6 502.6 100.5 502.4 100 501.8 98.6 501.1 97 501 96.8 500.3 95.5 499.5 94.2 498.3 92.3 497 90.8 495.8 89.5 494.6 88.4 493.3 87.6 492.1 86.9 490.9 86.4 489.6 86 488.4 85.8 487.1 85.7 485.9 85.7 484.7 85.9 483.4 86.2 482.2 86.7 481 87.3 479.7 88 478.5 88.9 477.2 89.9 476 91.1 474.8 92.5 473.5 94 472.3 95.8 471 97.9 469.8 100.2 468.6 102.9 467.3 106.1 466.1 109.9 464.5 115.7 463.6 120.2 462.4 127.8 461.1 139 459.9 156.7 459.3 162 457.4 125.7 456.2 115.5 455 109.1 453.7 103.9 452.5 100 451.7 98.1 451.2 96.8 449.8 94.2 449.3 93.3 448.7 92.5 447.9 91.4 447.6 91.1 447.2 90.7 446.7 90.2 446.6 90.1 446.3 89.9 446.1 89.7 446.1 89.7 446 89.6 446 89.6 445 89.1 443.4 88.6 443.3 88.6 443.3 88.6 443.3 88.6 443.1 88.6 443 88.6 442.9 88.6 442.5 88.6 442.2 88.7 442 88.8 441.4 89 441.1 89.2 440.7 89.5 439.7 90.5 439.3 91 437 96.6 436.4 99.5 435.1 109 434.1 158.7 432.7 132.6 431.4 116.3 430.4 106.7 428.9 96.9 427.7 90.1 426.5 84.4 425.2 79.5 424 75.3 422.8 71.5 421.5 68.1 420.3 65.1 419 62.4 417.8 59.9 416.6 57.7 415.3 55.7 414.1 53.8 412.9 52.1 411.6 50.5 410.4 49.1 409.1 47.8 407.9 46.6 406.7 45.5 405.4 44.5 404.2 43.6 402.9 42.7 401.7 42 400.5 41.3 399.2 40.7 398 40.2 396.8 39.7 395.5 39.3 394.3 38.9 393 38.7 391.8 38.4 390.6 38.3 389.3 38.2 388.1 38.1 386.9 38.1 385.6 38.2 384.4 38.3 383.1 38.5 381.9 38.7 380.7 39 379.4 39.4 378.2 39.8 376.9 40.3 375.7 40.9 374.5 41.5 373.2 42.2 372 43 370.8 43.8 369.5 44.7 368.3 45.7 367 46.8 365.8 48 364.6 49.2 363.3 50.6 362.1 52.1 360.8 53.7 359.6 55.4 358.4 57.3 357.1 59.3 355.9 61.5 354.7 63.9 353.4 66.6 352.2 69.7 350.9 73.1 349.7 77 348.5 81.7 346.5 91.4 346.3 93.1 346 94.7 346 94.9 345.7 97 345.5 98.6 345.5 99.2 345.2 101.7 345 103.4 344.9 104.5 344.7 107.7 344.5 109.4 344.4 111.4 344.1 115.9 344 117.9 343.5 131.9 343 168.6 342.5 139.2 341 112.3 339.8 103 338.6 97.1 337.3 93.1 336.1 90.1 334.8 88.1 333.6 86.7 332.4 85.8 331.1 85.5 329.9 85.6 328.7 86.1 327.4 87.1 326.2 88.5 324.9 90.4 323.7 92.8 322.5 95.9 321.2 99.8 320 104.7 318.7 111.2 317.5 120.3 316 141.1 314.8 194.5 313.6 127 312.5 113.2 312.2 111.3 311.6 107.1 311.3 105.3 311 103.7 310.4 100.8 310.2 99.8 309.8 98.4 309.2 96.2 309 95.8 308.5 94.4 307.9 92.8 307.8 92.6 307.3 91.3 306.7 90 305.1 87.4 303.9 85.7 302.7 84.4 301.4 83.4 300.2 82.7 298.9 82.2 297.7 81.9 296.5 81.7 295.2 81.8 294 82 292.7 82.5 291.5 83 290.3 83.8 289 84.7 287.8 85.8 286.6 87 285.3 88.5 284.1 90.1 282.8 92 281.6 94.2 280.4 96.6 279.1 99.3 277.9 102.4 276.7 106 275.4 110.2 274.2 115.2 272.9 121.4 271.7 129.3 270.5 139.7 269.8 146 268.1 156.1 266.4 127.7 264.6 114.5 264.3 112.7 263.3 108.7 262.9 107 262.4 105.5 261.5 102.9 261.1 102 260.6 100.8 259.6 99 259.4 98.6 258.7 97.6 257.8 96.4 257.7 96.3 256.8 95.5 255.9 94.8 254.4 94 253.1 93.8 251.9 93.8 250.6 94.1 249.4 94.8 248.2 95.7 246.9 96.9 245.7 98.5 244.5 100.5 243.2 102.9 242 105.9 240.7 109.6 239.5 114.3 237.6 124.3 237.4 126.1 237.2 127.8 237.2 128.1 236.9 130.2 236.7 131.9 236.7 132.5 236.4 135.1 236.3 136.9 236.2 138.1 235.9 141.5 235.8 143.4 235.7 145.5 235.4 150.3 235.3 152.4 234.9 166.5 234.4 182.8 233.9 163.5 232.1 132.5 230.8 124 229.6 118.1 228.4 113.6 227.1 110.1 225.9 107.2 224.6 104.8 223.4 102.7 222.2 101 220.9 99.5 219.7 98.3 218.5 97.3 217.2 96.4 216 95.7 214.7 95.2 213.5 94.8 212.3 94.6 211 94.5 209.8 94.5 208.5 94.7 207.3 95.1 206.1 95.6 204.8 96.2 203.6 97.1 202.4 98.1 201.1 99.3 199.9 100.8 198.6 102.6 197.4 104.7 196.2 107.3 194.9 110.4 193.7 114.4 193.3 115.8 193 117.2 192.9 117.4 192.5 119.2 192.2 120.7 192.1 121.2 191.7 123.4 191.5 124.9 191.3 125.9 190.9 128.8 190.8 130.4 190.6 132.2 190.2 136.4 190 138.3 189.3 151.7 188.5 209.5 187.8 160.2 186.3 137.7 185 129.4 183.8 123.9 182.5 120.1 181.3 117.3 180.1 115.4 178.8 114.1 177.6 113.4 176.4 113.2 175.1 113.6 173.9 114.5 172.6 115.9 171.4 118 170.2 120.8 168.9 124.7 167.7 130 166.5 137.7 165.5 146.6 163.8 182.3 162.7 148.8 162.1 139.9 160.4 126.2 160.1 124.3 159.2 120.1 158.7 118.3 158.3 116.7 157.3 113.9 157 112.9 156.4 111.5 155.5 109.5 155.3 109 154.6 107.7 153.7 106.2 153.6 106 152.8 104.9 151.9 103.7 150.4 102.1 149.1 101.1 147.9 100.3 146.6 99.7 145.4 99.3 144.2 99.1 142.9 99 141.7 99.1 140.4 99.4 139.2 99.9 138 100.5 136.7 101.3 135.5 102.4 134.3 103.6 133 105.1 131.8 106.8 130.5 108.9 129.3 111.4 128.1 114.4 126.8 118 125.6 122.5 124.4 128.3 123.1 136.5 121.6 155.3 120.5 189.1 119.4 150 118.3 136.1 118.1 134.2 117.5 129.9 117.2 128 116.9 126.3 116.4 123.3 116.1 122.3 115.8 120.7 115.2 118.4 115.1 117.9 114.6 116.4 114.1 114.6 114 114.4 113.5 112.9 112.9 111.4 112 109.2 110.7 106.8 109.5 104.6 108.3 102.8 107 101.2 105.8 99.9 104.5 98.7 103.3 97.7 102.1 96.8 100.8 96.1 99.6 95.5 98.3 95.1 97.1 94.7 95.9 94.5 94.6 94.4 93.4 94.4 92.2 94.5 90.9 94.8 89.7 95.1 88.4 95.6 87.2 96.2 86 97 84.7 97.9 83.5 99 82.3 100.2 81 101.7 79.8 103.5 78.2 106.1 77.5 107.5 77.3 108z" fill="url(#jetg)" stroke="url(#jetg)" stroke-width="0.3"/>
<path d="M77.3 115.4 77.5 114.5 78.2 112.5 79.8 108.7 81 106.3 82.3 104.3 83.5 102.6 84.7 101.2 86 100 87.2 99 88.4 98.2 89.7 97.6 90.9 97.1 92.2 96.8 93.4 96.6 94.6 96.6 95.9 96.7 97.1 97 98.3 97.3 99.6 97.9 100.8 98.6 102.1 99.4 103.3 100.4 104.5 101.6 105.8 103.1 107 104.7 108.3 106.7 109.5 109 110.7 111.8 112 115.2 112.9 118.2 113.5 120.4 114 122.6 114.1 122.9 114.6 125.8 115.1 128.3 115.2 129.2 115.8 133.3 116.1 136.4 116.4 138.5 116.9 145.6 117.2 150.3 117.5 156.4 118.1 179.8 118.3 192.9 119.4 153.2 120.5 138.4 121.6 129.8 123.1 121.5 124.4 116.8 125.6 113 126.8 109.9 128.1 107.3 129.3 105.2 130.5 103.4 131.8 101.9 133 100.6 134.3 99.6 135.5 98.8 136.7 98.1 138 97.7 139.2 97.4 140.4 97.4 141.7 97.5 142.9 97.8 144.2 98.2 145.4 98.9 146.6 99.8 147.9 101 149.1 102.4 150.4 104.2 151.9 106.9 152.8 108.8 153.6 110.8 153.7 111.1 154.6 113.8 155.3 116.1 155.5 117 156.4 121 157 124 157.3 126 158.3 133 158.7 137.6 159.2 143.7 160.1 166.5 160.4 178.2 162.1 144 162.7 137.7 163.8 129.9 165.5 121.8 166.5 118.7 167.7 115.3 168.9 112.7 170.2 110.7 171.4 109.2 172.6 108.1 173.9 107.4 175.1 107 176.4 107 177.6 107.4 178.8 108.2 180.1 109.3 181.3 111 182.5 113.2 183.8 116.1 185 119.9 186.3 125 187.8 134.6 188.5 141.4 189.3 150.2 190 156.1 190.2 155.4 190.6 149.2 190.8 145.8 190.9 142.6 191.3 137.1 191.5 135.4 191.7 132.7 192.1 129.1 192.2 128.2 192.5 126 192.9 123.3 193 123 193.3 121 193.7 118.9 194.9 113.5 196.2 109.5 197.4 106.2 198.6 103.6 199.9 101.4 201.1 99.6 202.4 98.1 203.6 96.8 204.8 95.7 206.1 94.9 207.3 94.2 208.5 93.7 209.8 93.4 211 93.2 212.3 93.1 213.5 93.2 214.7 93.5 216 93.9 217.2 94.4 218.5 95.1 219.7 96 220.9 97.1 222.2 98.4 223.4 99.9 224.6 101.7 225.9 103.8 227.1 106.3 228.4 109.3 229.6 113 230.8 117.7 232.1 124.1 233.9 140.5 234.4 147.8 234.9 158.1 235.3 167.1 235.4 167 235.7 164.2 235.8 162 235.9 159.4 236.2 154.4 236.3 152.6 236.4 149.8 236.7 145.8 236.7 144.9 236.9 142.3 237.2 139.3 237.2 138.9 237.4 136.5 237.6 134.1 239.5 121.2 240.7 115.6 242 111.4 243.2 108 244.5 105.4 245.7 103.3 246.9 101.7 248.2 100.6 249.4 99.8 250.6 99.5 251.9 99.5 253.1 99.9 254.4 100.7 255.9 102.5 256.8 103.9 257.7 105.5 257.8 105.8 258.7 108.1 259.4 110.2 259.6 111 260.6 114.7 261.1 117.5 261.5 119.5 262.4 126.2 262.9 130.8 263.3 136.7 264.3 157.7 264.6 166.2 266.4 147.3 268.1 129.4 269.8 118.4 270.5 115.4 271.7 110.1 272.9 105.7 274.2 102 275.4 98.8 276.7 96 277.9 93.5 279.1 91.3 280.4 89.4 281.6 87.6 282.8 86.1 284.1 84.8 285.3 83.6 286.6 82.6 287.8 81.8 289 81.1 290.3 80.6 291.5 80.3 292.7 80.1 294 80.1 295.2 80.2 296.5 80.6 297.7 81.1 298.9 81.9 300.2 82.9 301.4 84.2 302.7 85.8 303.9 87.9 305.1 90.4 306.7 94.5 307.3 96.6 307.8 98.6 307.9 98.9 308.5 101.7 309 104.1 309.2 104.9 309.8 109 310.2 112 310.4 114.1 311 121 311.3 125.7 311.6 131.8 312.2 155 312.5 168 313.6 137.9 314.8 121.3 316 111.4 317.5 102.6 318.7 97.4 320 93.3 321.2 90 322.5 87.3 323.7 85.2 324.9 83.4 326.2 82 327.4 81 328.7 80.4 329.9 80.1 331.1 80.1 332.4 80.5 333.6 81.3 334.8 82.6 336.1 84.4 337.3 86.9 338.6 90.2 339.8 94.7 341 101.1 342.5 114.5 343 122.6 343.5 136.4 344 177.1 344.1 161 344.4 136.7 344.5 130.5 344.7 125.7 344.9 118.5 345 116.3 345.2 113.1 345.5 108.8 345.5 107.9 345.7 105.2 346 102.2 346 101.8 346.3 99.5 346.5 97.1 348.5 84.7 349.7 79.2 350.9 74.7 352.2 70.9 353.4 67.7 354.7 64.8 355.9 62.2 357.1 59.8 358.4 57.7 359.6 55.7 360.8 53.9 362.1 52.3 363.3 50.8 364.6 49.4 365.8 48.1 367 46.9 368.3 45.8 369.5 44.8 370.8 43.8 372 43 373.2 42.2 374.5 41.5 375.7 40.9 376.9 40.3 378.2 39.8 379.4 39.4 380.7 39 381.9 38.7 383.1 38.5 384.4 38.3 385.6 38.2 386.9 38.1 388.1 38.1 389.3 38.2 390.6 38.3 391.8 38.4 393 38.7 394.3 38.9 395.5 39.3 396.8 39.7 398 40.1 399.2 40.7 400.5 41.2 401.7 41.9 402.9 42.6 404.2 43.4 405.4 44.2 406.7 45.2 407.9 46.2 409.1 47.3 410.4 48.4 411.6 49.7 412.9 51 414.1 52.5 415.3 54 416.6 55.7 417.8 57.5 419 59.4 420.3 61.5 421.5 63.8 422.8 66.2 424 68.8 425.2 71.7 426.5 74.8 427.7 78.2 428.9 82 430.4 86.8 431.4 91 432.7 96.4 434.1 103.7 435.1 110.5 436.4 120.4 437 127.1 439.3 183.4 439.7 141.9 440.7 126.6 441.1 123.7 441.4 121.8 442 119.6 442.2 119.1 442.5 118.5 442.9 117.9 443 117.9 443.1 117.7 443.3 117.6 443.3 117.6 443.3 117.5 443.4 117.5 445 118.3 446 119.9 446 120 446.1 120.1 446.1 120.2 446.3 120.7 446.6 121.4 446.7 121.7 447.2 123.4 447.6 125 447.9 126.2 448.7 131 449.3 134.6 449.8 139.8 451.2 161.6 451.7 174.6 452.5 158.4 453.7 137.7 455 126.1 456.2 119.1 457.4 113.4 459.3 107 459.9 105.2 461.1 102 462.4 99.3 463.6 96.9 464.5 95.3 466.1 93 467.3 91.4 468.6 89.9 469.8 88.7 471 87.5 472.3 86.6 473.5 85.7 474.8 85 476 84.4 477.2 83.9 478.5 83.5 479.7 83.3 481 83.1 482.2 83.1 483.4 83.1 484.7 83.3 485.9 83.6 487.1 84.1 488.4 84.6 489.6 85.4 490.9 86.2 492.1 87.3 493.3 88.5 494.6 90 495.8 91.7 497 93.7 498.3 96.1 499.5 99 500.3 101.2 501 103.2 501.1 103.6 501.8 106.4 502.4 108.8 502.6 109.7 503.3 113.7 503.8 116.8 504.1 118.9 504.9 125.9 505.3 130.6 505.6 136.8 506.4 161.8 506.7 182.5 508.1 131.7 509.5 118.9 511 111.7 511.9 108.4 513.1 104.9 514.4 102.3 515.6 100.3 516.9 98.7 518.1 97.6 519.3 96.7 520.6 96.2 521.8 96 523.1 96.1 524.3 96.5 525.5 97.1 526.8 98 528 99.2 529.2 100.9 530.5 102.9 531.7 105.4 533 108.6 534.2 112.7 535.4 118.1 536.7 125.9 537.6 135 538.1 143.2 538.7 157.1 539.2 206.1 539.3 152.7 539.6 134.3 539.8 129.9 539.9 126.5 540.2 121.6 540.3 120.1 540.5 117.9 540.8 115 540.9 114.4 541.1 112.7 541.4 110.7 541.4 110.4 541.6 108.9 541.9 107.4 544.1 99.7 545.3 96.9 546.6 94.7 547.8 93.1 549.1 91.7 550.3 90.6 551.5 89.8 552.8 89.1 554 88.6 555.2 88.2 556.5 87.9 557.7 87.8 559 87.8 560.2 87.8 561.4 88 562.7 88.2 563.9 88.6 565.2 89 566.4 89.5 567.6 90.1 568.9 90.8 570.1 91.6 571.3 92.4 572.6 93.4 573.8 94.5 575.1 95.8 576.3 97.2 577.5 98.7 578.8 100.4 580 102.3 581.2 104.5 582.2 106.4 583.7 109.9 585 113.3 586 116.9 587.4 122.8 589.2 133.6 589.9 141 591.6 179.1 592 175.3 593 160.7 593.4 156.2 593.8 152.9 594.4 148.5 594.6 147.3 594.9 145.8 595.3 144.2 595.4 143.9 595.6 143.3 595.7 142.7 595.7 142.7 595.8 142.5 595.8 142.5 597.3 139.2 598.6 138.5 600.1 139.9 600.1 140 600.2 140.1 600.2 140.1 600.4 140.5 600.7 141 600.8 141.3 601.2 142.6 601.6 144 601.9 145 602.7 149.3 603.1 152.6 603.7 157.4 604.9 176.9 605.4 186.1 606 178.6 607.2 155.5 608.4 142.8 609.7 133.5 611 126.9 612.3 121.2 613.4 117.3 614.7 113.6 615.9 110.5 617.2 107.7 618.4 105.3 619.6 103.2 620.9 101.3 622.1 99.6 623.3 98.1 624.6 96.8 625.8 95.7 627.1 94.7 628.3 93.9 629.5 93.2 630.8 92.7 632 92.3 633.3 92.1 634.5 92 635.7 92.1 637 92.3 638.2 92.7 639.4 93.3 640.7 94.1 641.9 95.2 643.2 96.5 644.4 98 645.6 100 646.9 102.4 648.1 105.3 649.3 109.1 650.6 114 652.4 125.5 652.7 127.7 652.9 129.9 652.9 130.2 653.2 133.1 653.4 135.6 653.4 136.5 653.7 140.7 653.8 143.8 653.9 145.9 654.2 152.9 654.3 157.7 654.4 163.8 654.7 187.8 654.8 203 655.2 162.6 655.7 148.6 656.2 140.3 658 123.2 659.3 116.8 660.5 112.1 661.7 108.4 663 105.4 664.2 103 665.4 101 666.7 99.4 667.9 98.1 669.2 97 670.4 96.1 671.6 95.5 672.9 95.1 674.1 94.9 675.4 94.9 676.6 95.1 677.8 95.4 679.1 96 680.3 96.8 681.5 97.8 682.8 99.1 684 100.7 685.3 102.7 686.5 105 687.7 108 689 111.6 690.2 116.3 691.4 122.7 693.3 139.8 693.4 142 693.6 144.2 693.6 144.6 693.7 147.4 693.8 149.9 693.9 150.7 694 154.7 694.1 157.6 694.2 159.5 694.3 165.6 694.4 169.2 694.5 173.3 694.6 181.2 694.7 182.1 694.9 168.2 695.2 156.9 695.5 149.5 696.4 135.2 696.4 137.7 695.5 156.6 695.2 168.8 694.9 188.3 694.7 169.8 694.6 166.7 694.5 159.9 694.4 157.1 694.3 154.7 694.2 150.6 694.1 149.2 694 147.1 693.9 144.2 693.8 143.5 693.7 141.6 693.6 139.3 693.6 139 693.4 137.2 693.3 135.4 691.4 120.2 690.2 114.3 689 109.9 687.7 106.4 686.5 103.6 685.3 101.4 684 99.5 682.8 98 681.5 96.8 680.3 95.8 679.1 95.1 677.8 94.5 676.6 94.2 675.4 94.1 674.1 94.2 672.9 94.5 671.6 94.9 670.4 95.6 669.2 96.5 667.9 97.7 666.7 99.1 665.4 100.9 664.2 103 663 105.6 661.7 108.8 660.5 112.8 659.3 118.1 658 125.4 656.2 147.7 655.7 161.5 655.2 193.2 654.8 156.5 654.7 152.9 654.4 145.6 654.3 142.8 654.2 140.3 653.9 136 653.8 134.7 653.7 132.6 653.4 129.6 653.4 128.9 653.2 127 652.9 124.8 652.9 124.5 652.7 122.7 652.4 120.9 650.6 111.1 649.3 106.7 648.1 103.3 646.9 100.7 645.6 98.5 644.4 96.8 643.2 95.4 641.9 94.3 640.7 93.4 639.4 92.8 638.2 92.4 637 92.2 635.7 92.1 634.5 92.3 633.3 92.6 632 93 630.8 93.6 629.5 94.4 628.3 95.4 627.1 96.5 625.8 97.8 624.6 99.3 623.3 101 622.1 103 620.9 105.2 619.6 107.7 618.4 110.6 617.2 114 615.9 117.9 614.7 122.6 613.4 128.3 612.3 134.9 611 145.8 609.7 161.2 608.4 174.6 607.2 156.7 606 144 605.4 139.8 604.9 137 603.7 132.1 603.1 130.5 602.7 129.3 601.9 127.6 601.6 127.2 601.2 126.6 600.8 126.1 600.7 126 600.4 125.7 600.2 125.6 600.2 125.6 600.1 125.5 600.1 125.5 598.6 125 597.3 125.6 595.8 127.5 595.8 127.5 595.7 127.6 595.7 127.6 595.6 127.9 595.4 128.3 595.3 128.4 594.9 129.2 594.6 130 594.4 130.5 593.8 132.5 593.4 133.9 593 135.7 592 140.7 591.6 143.5 589.9 160.5 589.2 167.2 587.4 139.3 586 127.7 585 121.8 583.7 116.6 582.2 111.6 581.2 109.1 580 106.2 578.8 103.8 577.5 101.6 576.3 99.7 575.1 98 573.8 96.5 572.6 95.2 571.3 93.9 570.1 92.9 568.9 91.9 567.6 91.1 566.4 90.3 565.2 89.7 563.9 89.1 562.7 88.7 561.4 88.3 560.2 88 559 87.9 557.7 87.8 556.5 87.9 555.2 88 554 88.3 552.8 88.7 551.5 89.3 550.3 90 549.1 90.9 547.8 92.1 546.6 93.6 545.3 95.5 544.1 98 541.9 104.5 541.6 105.7 541.4 106.9 541.4 107.1 541.1 108.7 540.9 110 540.8 110.4 540.5 112.5 540.3 113.9 540.2 114.9 539.9 117.8 539.8 119.6 539.6 121.6 539.3 126.7 539.2 129.3 538.7 175.5 538.1 156.8 537.6 144.1 536.7 132 535.4 122.6 534.2 116.4 533 111.8 531.7 108.3 530.5 105.6 529.2 103.5 528 101.8 526.8 100.5 525.5 99.6 524.3 99 523.1 98.8 521.8 98.8 520.6 99.2 519.3 99.9 518.1 101 516.9 102.5 515.6 104.5 514.4 107.1 513.1 110.6 511.9 115.4 511 120.3 509.5 132.3 508.1 156 506.7 130.5 506.4 127.1 505.6 120 505.3 117.2 504.9 114.8 504.1 110.7 503.8 109.3 503.3 107.3 502.6 104.5 502.4 103.8 501.8 102 501.1 99.9 501 99.7 500.3 98.1 499.5 96.4 498.3 94.1 497 92.1 495.8 90.5 494.6 89.1 493.3 88 492.1 87 490.9 86.2 489.6 85.5 488.4 85.1 487.1 84.7 485.9 84.5 484.7 84.4 483.4 84.4 482.2 84.6 481 84.8 479.7 85.2 478.5 85.7 477.2 86.3 476 87.1 474.8 88 473.5 89 472.3 90.2 471 91.5 469.8 93.1 468.6 94.8 467.3 96.8 466.1 99 464.5 102.3 463.6 104.6 462.4 108.1 461.1 112.3 459.9 117.5 459.3 120.6 457.4 133.6 456.2 148.4 455 162.9 453.7 138.9 452.5 126.1 451.7 121 451.2 118 449.8 112.4 449.3 110.5 448.7 109.1 447.9 106.9 447.6 106.3 447.2 105.6 446.7 104.7 446.6 104.6 446.3 104.2 446.1 103.9 446.1 103.9 446 103.8 446 103.8 445 102.9 443.4 102.3 443.3 102.3 443.3 102.3 443.3 102.3 443.1 102.3 443 102.3 442.9 102.4 442.5 102.5 442.2 102.7 442 102.9 441.4 103.6 441.1 104.2 440.7 105 439.7 107.7 439.3 109.3 437 177.6 436.4 154 435.1 129.3 434.1 117.1 432.7 106 431.4 98.4 430.4 93 428.9 86.8 427.7 82.1 426.5 78 425.2 74.3 424 71 422.8 68 421.5 65.3 420.3 62.8 419 60.5 417.8 58.4 416.6 56.4 415.3 54.6 414.1 53 412.9 51.4 411.6 50 410.4 48.7 409.1 47.4 407.9 46.3 406.7 45.3 405.4 44.3 404.2 43.5 402.9 42.7 401.7 41.9 400.5 41.3 399.2 40.7 398 40.1 396.8 39.7 395.5 39.3 394.3 38.9 393 38.7 391.8 38.4 390.6 38.3 389.3 38.2 388.1 38.1 386.9 38.1 385.6 38.2 384.4 38.3 383.1 38.5 381.9 38.7 380.7 39 379.4 39.4 378.2 39.8 376.9 40.3 375.7 40.9 374.5 41.5 373.2 42.2 372 43 370.8 43.8 369.5 44.7 368.3 45.8 367 46.8 365.8 48 364.6 49.3 363.3 50.7 362.1 52.2 360.8 53.8 359.6 55.6 358.4 57.5 357.1 59.5 355.9 61.8 354.7 64.3 353.4 67.1 352.2 70.3 350.9 73.9 349.7 78.1 348.5 83.1 346.5 93.9 346.3 95.9 346 97.8 346 98.1 345.7 100.6 345.5 102.6 345.5 103.3 345.2 106.4 345 108.7 344.9 110.1 344.7 114.5 344.5 117.1 344.4 120.1 344.1 127.6 344 131.4 343.5 197.5 343 138.2 342.5 124.3 341 106.3 339.8 98.7 338.6 93.6 337.3 89.9 336.1 87.3 334.8 85.3 333.6 84 332.4 83.2 331.1 82.8 329.9 82.8 328.7 83.2 327.4 84 326.2 85.2 324.9 86.8 323.7 88.9 322.5 91.4 321.2 94.6 320 98.6 318.7 103.7 317.5 110.3 316 122.7 314.8 139.7 313.6 188.5 312.5 126.4 312.2 122.8 311.6 115.4 311.3 112.6 311 110.2 310.4 106 310.2 104.7 309.8 102.7 309.2 99.9 309 99.2 308.5 97.5 307.9 95.4 307.8 95.1 307.3 93.6 306.7 91.9 305.1 88.7 303.9 86.6 302.7 85 301.4 83.7 300.2 82.7 298.9 81.9 297.7 81.4 296.5 81 295.2 80.9 294 80.9 292.7 81.2 291.5 81.5 290.3 82.1 289 82.8 287.8 83.7 286.6 84.7 285.3 85.9 284.1 87.3 282.8 88.9 281.6 90.7 280.4 92.7 279.1 95 277.9 97.6 276.7 100.6 275.4 104 274.2 108 272.9 112.7 271.7 118.4 270.5 125.7 269.8 130.2 268.1 149.4 266.4 199.9 264.6 129.6 264.3 126 263.3 118.8 262.9 116 262.4 113.7 261.5 109.8 261.1 108.6 260.6 106.7 259.6 104.3 259.4 103.7 258.7 102.3 257.8 100.7 257.7 100.5 256.8 99.4 255.9 98.3 254.4 97.2 253.1 96.7 251.9 96.5 250.6 96.7 249.4 97.2 248.2 98 246.9 99.3 245.7 100.9 244.5 102.9 243.2 105.4 242 108.6 240.7 112.5 239.5 117.6 237.6 128.9 237.4 131 237.2 133 237.2 133.3 236.9 135.8 236.7 137.9 236.7 138.6 236.4 141.8 236.3 144.1 236.2 145.5 235.9 149.8 235.8 152.3 235.7 154.9 235.4 160.7 235.3 162.9 234.9 169.4 234.4 159.6 233.9 148.9 232.1 127.9 230.8 120.7 229.6 115.5 228.4 111.4 227.1 108.1 225.9 105.4 224.6 103.2 223.4 101.3 222.2 99.7 220.9 98.3 219.7 97.1 218.5 96.2 217.2 95.4 216 94.8 214.7 94.3 213.5 94 212.3 93.8 211 93.8 209.8 93.9 208.5 94.2 207.3 94.6 206.1 95.2 204.8 96 203.6 96.9 202.4 98.1 201.1 99.4 199.9 101.1 198.6 103.1 197.4 105.4 196.2 108.3 194.9 111.9 193.7 116.5 193.3 118.2 193 119.9 192.9 120.1 192.5 122.3 192.2 124.1 192.1 124.8 191.7 127.6 191.5 129.6 191.3 131 190.9 135.1 190.8 137.5 190.6 140.2 190.2 147.4 190 150.9 189.3 203.5 188.5 159 187.8 145.1 186.3 131 185 124.5 183.8 120 182.5 116.6 181.3 114.2 180.1 112.4 178.8 111.2 177.6 110.4 176.4 110.1 175.1 110.2 173.9 110.8 172.6 111.8 171.4 113.3 170.2 115.4 168.9 118.1 167.7 121.6 166.5 126.4 165.5 131.1 163.8 144.4 162.7 158.4 162.1 163.1 160.4 138.1 160.1 134.7 159.2 127.7 158.7 124.9 158.3 122.5 157.3 118.5 157 117.2 156.4 115.2 155.5 112.5 155.3 111.8 154.6 110.1 153.7 108.2 153.6 107.9 152.8 106.4 151.9 105 150.4 102.9 149.1 101.5 147.9 100.4 146.6 99.6 145.4 99 144.2 98.5 142.9 98.3 141.7 98.2 140.4 98.3 139.2 98.5 138 99 136.7 99.6 135.5 100.5 134.3 101.5 133 102.7 131.8 104.2 130.5 106 129.3 108.1 128.1 110.7 126.8 113.7 125.6 117.4 124.4 122 123.1 128.1 121.6 139.6 120.5 154.4 119.4 193.9 118.3 150.2 118.1 146.6 117.5 139.2 117.2 136.3 116.9 133.8 116.4 129.6 116.1 128.2 115.8 126.1 115.2 123.1 115.1 122.5 114.6 120.6 114.1 118.4 114 118.1 113.5 116.4 112.9 114.6 112 112 110.7 109.1 109.5 106.7 108.3 104.7 107 102.9 105.8 101.4 104.5 100.1 103.3 99 102.1 98.1 100.8 97.3 99.6 96.7 98.3 96.2 97.1 95.9 95.9 95.6 94.6 95.5 93.4 95.5 92.2 95.7 90.9 95.9 89.7 96.3 88.4 96.9 87.2 97.6 86 98.4 84.7 99.5 83.5 100.7 82.3 102.2 81 103.9 79.8 105.9 78.2 109.1 77.5 110.7 77.3 111.3z" fill="url(#jetg)" stroke="url(#jetg)" stroke-width="0.3"/>
<path d="M77.3 120.4 77.5 119.3 78.2 116.7 79.8 112 81 109 82.3 106.6 83.5 104.6 84.7 103 86 101.6 87.2 100.5 88.4 99.6 89.7 98.9 90.9 98.3 92.2 98 93.4 97.8 94.6 97.7 95.9 97.8 97.1 98.1 98.3 98.5 99.6 99 100.8 99.8 102.1 100.7 103.3 101.8 104.5 103.2 105.8 104.7 107 106.6 108.3 108.9 109.5 111.5 110.7 114.7 112 118.7 112.9 122.4 113.5 125.1 114 127.9 114.1 128.3 114.6 132 115.1 135.3 115.2 136.5 115.8 141.9 116.1 145.8 116.4 148.3 116.9 154 117.2 154.8 117.5 154.3 118.1 149.3 118.3 146.9 119.4 136 120.5 128.1 121.6 122.3 123.1 116.1 124.4 112.2 125.6 109.1 126.8 106.5 128.1 104.4 129.3 102.5 130.5 101 131.8 99.7 133 98.7 134.3 97.9 135.5 97.3 136.7 96.8 138 96.6 139.2 96.6 140.4 96.7 141.7 97 142.9 97.5 144.2 98.3 145.4 99.3 146.6 100.5 147.9 102 149.1 103.9 150.4 106.1 151.9 109.7 152.8 112.3 153.6 115.1 153.7 115.5 154.6 119.3 155.3 122.9 155.5 124.3 156.4 130.9 157 136.7 157.3 141.1 158.3 163 158.7 196.8 159.2 170.1 160.1 147.5 160.4 142.9 162.1 128.5 162.7 125.1 163.8 120.3 165.5 114.8 166.5 112.5 167.7 110 168.9 108.1 170.2 106.5 171.4 105.4 172.6 104.6 173.9 104.1 175.1 103.9 176.4 104 177.6 104.5 178.8 105.2 180.1 106.4 181.3 107.9 182.5 109.9 183.8 112.5 185 115.9 186.3 120.3 187.8 128.5 188.5 134.1 189.3 142.2 190 156 190.2 160.4 190.6 180.5 190.8 196.1 190.9 173.9 191.3 153.6 191.5 149.3 191.7 143.7 192.1 137.2 192.2 135.9 192.5 132.4 192.9 128.5 193 128.1 193.3 125.3 193.7 122.6 194.9 115.9 196.2 111.1 197.4 107.4 198.6 104.4 199.9 101.9 201.1 99.9 202.4 98.2 203.6 96.8 204.8 95.6 206.1 94.7 207.3 93.9 208.5 93.3 209.8 92.9 211 92.6 212.3 92.5 213.5 92.5 214.7 92.7 216 93 217.2 93.5 218.5 94.1 219.7 94.9 220.9 95.9 222.2 97.1 223.4 98.5 224.6 100.2 225.9 102.2 227.1 104.5 228.4 107.3 229.6 110.8 230.8 115.1 232.1 120.8 233.9 134.6 234.4 140.4 234.9 148.6 235.3 162.5 235.4 167 235.7 187.6 235.8 206.3 235.9 197.5 236.2 177.2 236.3 172.3 236.4 165.9 236.7 158.2 236.7 156.7 236.9 152.5 237.2 148 237.2 147.5 237.4 144.2 237.6 140.9 239.5 125.3 240.7 119.1 242 114.5 243.2 110.9 244.5 108.1 245.7 106 246.9 104.5 248.2 103.4 249.4 102.8 250.6 102.6 251.9 102.9 253.1 103.7 254.4 105 255.9 107.6 256.8 109.7 257.7 112.1 257.8 112.4 258.7 115.9 259.4 119.3 259.6 120.6 260.6 127 261.1 132.7 261.5 137.1 262.4 158.9 262.9 196 263.3 182.1 264.3 154.4 264.6 148.3 266.4 129.2 268.1 118 269.8 110.1 270.5 107.8 271.7 103.7 272.9 100.2 274.2 97.1 275.4 94.4 276.7 92 277.9 89.9 279.1 88.1 280.4 86.4 281.6 85 282.8 83.7 284.1 82.6 285.3 81.6 286.6 80.8 287.8 80.2 289 79.7 290.3 79.4 291.5 79.2 292.7 79.2 294 79.4 295.2 79.8 296.5 80.3 297.7 81.1 298.9 82.1 300.2 83.4 301.4 85 302.7 87.1 303.9 89.6 305.1 92.7 306.7 98 307.3 100.7 307.8 103.5 307.9 103.9 308.5 107.8 309 111.4 309.2 112.7 309.8 119.4 310.2 125.1 310.4 129.5 311 150 311.3 167.8 311.6 161.7 312.2 141.7 312.5 136.5 313.6 119.8 314.8 110 316 103 317.5 96.2 318.7 92 320 88.6 321.2 85.8 322.5 83.5 323.7 81.6 324.9 80.1 326.2 79 327.4 78.1 328.7 77.6 329.9 77.3 331.1 77.4 332.4 77.9 333.6 78.7 334.8 79.9 336.1 81.6 337.3 83.8 338.6 86.8 339.8 90.9 341 96.5 342.5 107.2 343 112.9 343.5 120.9 344 134.7 344.1 139 344.4 158.4 344.5 171.4 344.7 154.6 344.9 134.1 345 129.6 345.2 123.8 345.5 116.9 345.5 115.5 345.7 111.7 346 107.5 346 107.1 346.3 104 346.5 101 348.5 86.6 349.7 80.6 350.9 75.7 352.2 71.7 353.4 68.2 354.7 65.2 355.9 62.5 357.1 60.1 358.4 57.9 359.6 55.9 360.8 54.1 362.1 52.4 363.3 50.9 364.6 49.4 365.8 48.1 367 46.9 368.3 45.8 369.5 44.8 370.8 43.9 372 43 373.2 42.2 374.5 41.5 375.7 40.9 376.9 40.3 378.2 39.8 379.4 39.4 380.7 39 381.9 38.7 383.1 38.5 384.4 38.3 385.6 38.2 386.9 38.1 388.1 38.1 389.3 38.2 390.6 38.3 391.8 38.4 393 38.7 394.3 38.9 395.5 39.3 396.8 39.7 398 40.1 399.2 40.6 400.5 41.2 401.7 41.9 402.9 42.6 404.2 43.3 405.4 44.2 406.7 45.1 407.9 46.1 409.1 47.1 410.4 48.3 411.6 49.5 412.9 50.8 414.1 52.2 415.3 53.7 416.6 55.3 417.8 57 419 58.8 420.3 60.8 421.5 62.9 422.8 65.1 424 67.6 425.2 70.2 426.5 73 427.7 76.1 428.9 79.4 430.4 83.6 431.4 87.1 432.7 91.7 434.1 97.5 435.1 102.8 436.4 109.9 437 114.3 439.3 137.1 439.7 143.3 440.7 168.8 441.1 188.1 441.4 153.8 442 141.8 442.2 139.9 442.5 137.8 442.9 136 443 135.8 443.1 135.2 443.3 134.8 443.3 134.8 443.3 134.7 443.4 134.6 445 135.3 446 138.6 446 138.7 446.1 139.1 446.1 139.2 446.3 140.3 446.6 141.8 446.7 142.5 447.2 146.4 447.6 150.5 447.9 154 448.7 172.3 449.3 189.6 449.8 165.5 451.2 138.3 451.7 132.3 452.5 125.9 453.7 118.3 455 112.3 456.2 108.1 457.4 104.3 459.3 99.8 459.9 98.4 461.1 96 462.4 93.9 463.6 92.1 464.5 90.8 466.1 89 467.3 87.7 468.6 86.6 469.8 85.6 471 84.7 472.3 83.9 473.5 83.3 474.8 82.8 476 82.4 477.2 82.1 478.5 81.9 479.7 81.8 481 81.8 482.2 81.9 483.4 82.2 484.7 82.5 485.9 83 487.1 83.6 488.4 84.4 489.6 85.3 490.9 86.4 492.1 87.7 493.3 89.2 494.6 91 495.8 93.1 497 95.6 498.3 98.6 499.5 102.3 500.3 105 501 107.9 501.1 108.3 501.8 112.2 502.4 115.9 502.6 117.2 503.3 124 503.8 129.7 504.1 134.2 504.9 156 505.3 186.9 505.6 154.4 506.4 134.2 506.7 130 508.1 117.3 509.5 110 511 105.1 511.9 102.7 513.1 100.1 514.4 98 515.6 96.4 516.9 95.2 518.1 94.3 519.3 93.7 520.6 93.4 521.8 93.3 523.1 93.5 524.3 93.9 525.5 94.5 526.8 95.4 528 96.7 529.2 98.2 530.5 100.1 531.7 102.5 533 105.4 534.2 109.1 535.4 113.9 536.7 120.5 537.6 127.6 538.1 133.3 538.7 141.2 539.2 154 539.3 157.7 539.6 169.9 539.8 173.3 539.9 148.1 540.2 133.1 540.3 130 540.5 126 540.8 121.3 540.9 120.3 541.1 117.8 541.4 115 541.4 114.6 541.6 112.6 541.9 110.7 544.1 101.4 545.3 98.2 546.6 95.8 547.8 93.9 549.1 92.4 550.3 91.2 551.5 90.3 552.8 89.5 554 88.9 555.2 88.4 556.5 88.1 557.7 87.8 559 87.7 560.2 87.7 561.4 87.8 562.7 87.9 563.9 88.2 565.2 88.5 566.4 88.9 567.6 89.4 568.9 90 570.1 90.7 571.3 91.5 572.6 92.3 573.8 93.3 575.1 94.4 576.3 95.6 577.5 96.9 578.8 98.4 580 100 581.2 101.8 582.2 103.4 583.7 106.3 585 109 586 111.7 587.4 115.9 589.2 122.8 589.9 126.8 591.6 140.1 592 145.3 593 168.8 593.4 194.4 593.8 184.9 594.4 169.3 594.6 166.1 594.9 162.2 595.3 158.4 595.4 157.7 595.6 156.3 595.7 155.1 595.7 155.1 595.8 154.7 595.8 154.6 597.3 148.3 598.6 147.5 600.1 151.3 600.1 151.4 600.2 151.7 600.2 151.8 600.4 152.8 600.7 154.1 600.8 154.7 601.2 158.3 601.6 162 601.9 165.3 602.7 181.5 603.1 192.7 603.7 184.3 604.9 158.2 605.4 151.6 606 145.2 607.2 135.7 608.4 129.1 609.7 123.3 611 118.8 612.3 114.7 613.4 111.8 614.7 109 615.9 106.5 617.2 104.3 618.4 102.3 619.6 100.5 620.9 99 622.1 97.6 623.3 96.4 624.6 95.3 625.8 94.4 627.1 93.7 628.3 93 629.5 92.5 630.8 92.2 632 92 633.3 91.9 634.5 92 635.7 92.2 637 92.5 638.2 93.1 639.4 93.8 640.7 94.8 641.9 95.9 643.2 97.4 644.4 99.1 645.6 101.3 646.9 103.9 648.1 107.1 649.3 111.3 650.6 116.7 652.4 130.1 652.7 132.9 652.9 135.6 652.9 136.1 653.2 139.8 653.4 143 653.4 144.2 653.7 149.7 653.8 153.7 653.9 156.3 654.2 162.4 654.3 163.5 654.4 162.8 654.7 158.6 654.8 156.6 655.2 147.3 655.7 140.2 656.2 134.8 658 121.2 659.3 115.6 660.5 111.4 661.7 108 663 105.3 664.2 103 665.4 101.2 666.7 99.7 667.9 98.4 669.2 97.4 670.4 96.7 671.6 96.1 672.9 95.8 674.1 95.6 675.4 95.7 676.6 95.9 677.8 96.3 679.1 96.9 680.3 97.8 681.5 98.9 682.8 100.3 684 101.9 685.3 104 686.5 106.4 687.7 109.5 689 113.3 690.2 118.3 691.4 125.1 693.3 144.4 693.4 147.1 693.6 149.6 693.6 150 693.7 153.4 693.8 156.2 693.9 157.2 694 161.6 694.1 164.4 694.2 166 694.3 169.3 694.4 169.8 694.5 169.2 694.6 165.6 694.7 163.9 694.9 155.7 695.2 149.3 695.5 144.3 696.4 133 696.4 135.2 695.5 149.5 695.2 156.9 694.9 168.2 694.7 182.1 694.6 181.2 694.5 173.3 694.4 169.2 694.3 165.6 694.2 159.5 694.1 157.6 694 154.7 693.9 150.7 693.8 149.9 693.7 147.4 693.6 144.6 693.6 144.2 693.4 142 693.3 139.8 691.4 122.7 690.2 116.3 689 111.6 687.7 108 686.5 105 685.3 102.7 684 100.7 682.8 99.1 681.5 97.8 680.3 96.8 679.1 96 677.8 95.4 676.6 95.1 675.4 94.9 674.1 94.9 672.9 95.1 671.6 95.5 670.4 96.1 669.2 97 667.9 98.1 666.7 99.4 665.4 101 664.2 103 663 105.4 661.7 108.4 660.5 112.1 659.3 116.8 658 123.2 656.2 140.3 655.7 148.6 655.2 162.6 654.8 203 654.7 187.8 654.4 163.8 654.3 157.7 654.2 152.9 653.9 145.9 653.8 143.8 653.7 140.7 653.4 136.5 653.4 135.6 653.2 133.1 652.9 130.2 652.9 129.9 652.7 127.7 652.4 125.5 650.6 114 649.3 109.1 648.1 105.3 646.9 102.4 645.6 100 644.4 98 643.2 96.5 641.9 95.2 640.7 94.1 639.4 93.3 638.2 92.7 637 92.3 635.7 92.1 634.5 92 633.3 92.1 632 92.3 630.8 92.7 629.5 93.2 628.3 93.9 627.1 94.7 625.8 95.7 624.6 96.8 623.3 98.1 622.1 99.6 620.9 101.3 619.6 103.2 618.4 105.3 617.2 107.7 615.9 110.5 614.7 113.6 613.4 117.3 612.3 121.2 611 126.9 609.7 133.5 608.4 142.8 607.2 155.5 606 178.6 605.4 186.1 604.9 176.9 603.7 157.4 603.1 152.6 602.7 149.3 601.9 145 601.6 144 601.2 142.6 600.8 141.3 600.7 141 600.4 140.5 600.2 140.1 600.2 140.1 600.1 140 600.1 139.9 598.6 138.5 597.3 139.2 595.8 142.5 595.8 142.5 595.7 142.7 595.7 142.7 595.6 143.3 595.4 143.9 595.3 144.2 594.9 145.8 594.6 147.3 594.4 148.5 593.8 152.9 593.4 156.2 593 160.7 592 175.3 591.6 179.1 589.9 141 589.2 133.6 587.4 122.8 586 116.9 585 113.3 583.7 109.9 582.2 106.4 581.2 104.5 580 102.3 578.8 100.4 577.5 98.7 576.3 97.2 575.1 95.8 573.8 94.5 572.6 93.4 571.3 92.4 570.1 91.6 568.9 90.8 567.6 90.1 566.4 89.5 565.2 89 563.9 88.6 562.7 88.2 561.4 88 560.2 87.8 559 87.8 557.7 87.8 556.5 87.9 555.2 88.2 554 88.6 552.8 89.1 551.5 89.8 550.3 90.6 549.1 91.7 547.8 93.1 546.6 94.7 545.3 96.9 544.1 99.7 541.9 107.4 541.6 108.9 541.4 110.4 541.4 110.7 541.1 112.7 540.9 114.4 540.8 115 540.5 117.9 540.3 120.1 540.2 121.6 539.9 126.5 539.8 129.9 539.6 134.3 539.3 152.7 539.2 206.1 538.7 157.1 538.1 143.2 537.6 135 536.7 125.9 535.4 118.1 534.2 112.7 533 108.6 531.7 105.4 530.5 102.9 529.2 100.9 528 99.2 526.8 98 525.5 97.1 524.3 96.5 523.1 96.1 521.8 96 520.6 96.2 519.3 96.7 518.1 97.6 516.9 98.7 515.6 100.3 514.4 102.3 513.1 104.9 511.9 108.4 511 111.7 509.5 118.9 508.1 131.7 506.7 182.5 506.4 161.8 505.6 136.8 505.3 130.6 504.9 125.9 504.1 118.9 503.8 116.8 503.3 113.7 502.6 109.7 502.4 108.8 501.8 106.4 501.1 103.6 501 103.2 500.3 101.2 499.5 99 498.3 96.1 497 93.7 495.8 91.7 494.6 90 493.3 88.5 492.1 87.3 490.9 86.2 489.6 85.4 488.4 84.6 487.1 84.1 485.9 83.6 484.7 83.3 483.4 83.1 482.2 83.1 481 83.1 479.7 83.3 478.5 83.5 477.2 83.9 476 84.4 474.8 85 473.5 85.7 472.3 86.6 471 87.5 469.8 88.7 468.6 89.9 467.3 91.4 466.1 93 464.5 95.3 463.6 96.9 462.4 99.3 461.1 102 459.9 105.2 459.3 107 457.4 113.4 456.2 119.1 455 126.1 453.7 137.7 452.5 158.4 451.7 174.6 451.2 161.6 449.8 139.8 449.3 134.6 448.7 131 447.9 126.2 447.6 125 447.2 123.4 446.7 121.7 446.6 121.4 446.3 120.7 446.1 120.2 446.1 120.1 446 120 446 119.9 445 118.3 443.4 117.5 443.3 117.5 443.3 117.6 443.3 117.6 443.1 117.7 443 117.9 442.9 117.9 442.5 118.5 442.2 119.1 442 119.6 441.4 121.8 441.1 123.7 440.7 126.6 439.7 141.9 439.3 183.4 437 127.1 436.4 120.4 435.1 110.5 434.1 103.7 432.7 96.4 431.4 91 430.4 86.8 428.9 82 427.7 78.2 426.5 74.8 425.2 71.7 424 68.8 422.8 66.2 421.5 63.8 420.3 61.5 419 59.4 417.8 57.5 416.6 55.7 415.3 54 414.1 52.5 412.9 51 411.6 49.7 410.4 48.4 409.1 47.3 407.9 46.2 406.7 45.2 405.4 44.2 404.2 43.4 402.9 42.6 401.7 41.9 400.5 41.2 399.2 40.7 398 40.1 396.8 39.7 395.5 39.3 394.3 38.9 393 38.7 391.8 38.4 390.6 38.3 389.3 38.2 388.1 38.1 386.9 38.1 385.6 38.2 384.4 38.3 383.1 38.5 381.9 38.7 380.7 39 379.4 39.4 378.2 39.8 376.9 40.3 375.7 40.9 374.5 41.5 373.2 42.2 372 43 370.8 43.8 369.5 44.8 368.3 45.8 367 46.9 365.8 48.1 364.6 49.4 363.3 50.8 362.1 52.3 360.8 53.9 359.6 55.7 358.4 57.7 357.1 59.8 355.9 62.2 354.7 64.8 353.4 67.7 352.2 70.9 350.9 74.7 349.7 79.2 348.5 84.7 346.5 97.1 346.3 99.5 346 101.8 346 102.2 345.7 105.2 345.5 107.9 345.5 108.8 345.2 113.1 345 116.3 344.9 118.5 344.7 125.7 344.5 130.5 344.4 136.7 344.1 161 344 177.1 343.5 136.4 343 122.6 342.5 114.5 341 101.1 339.8 94.7 338.6 90.2 337.3 86.9 336.1 84.4 334.8 82.6 333.6 81.3 332.4 80.5 331.1 80.1 329.9 80.1 328.7 80.4 327.4 81 326.2 82 324.9 83.4 323.7 85.2 322.5 87.3 321.2 90 320 93.3 318.7 97.4 317.5 102.6 316 111.4 314.8 121.3 313.6 137.9 312.5 168 312.2 155 311.6 131.8 311.3 125.7 311 121 310.4 114.1 310.2 112 309.8 109 309.2 104.9 309 104.1 308.5 101.7 307.9 98.9 307.8 98.6 307.3 96.6 306.7 94.5 305.1 90.4 303.9 87.9 302.7 85.8 301.4 84.2 300.2 82.9 298.9 81.9 297.7 81.1 296.5 80.6 295.2 80.2 294 80.1 292.7 80.1 291.5 80.3 290.3 80.6 289 81.1 287.8 81.8 286.6 82.6 285.3 83.6 284.1 84.8 282.8 86.1 281.6 87.6 280.4 89.4 279.1 91.3 277.9 93.5 276.7 96 275.4 98.8 274.2 102 272.9 105.7 271.7 110.1 270.5 115.4 269.8 118.4 268.1 129.4 266.4 147.3 264.6 166.2 264.3 157.7 263.3 136.7 262.9 130.8 262.4 126.2 261.5 119.5 261.1 117.5 260.6 114.7 259.6 111 259.4 110.2 258.7 108.1 257.8 105.8 257.7 105.5 256.8 103.9 255.9 102.5 254.4 100.7 253.1 99.9 251.9 99.5 250.6 99.5 249.4 99.8 248.2 100.6 246.9 101.7 245.7 103.3 244.5 105.4 243.2 108 242 111.4 240.7 115.6 239.5 121.2 237.6 134.1 237.4 136.5 237.2 138.9 237.2 139.3 236.9 142.3 236.7 144.9 236.7 145.8 236.4 149.8 236.3 152.6 236.2 154.4 235.9 159.4 235.8 162 235.7 164.2 235.4 167 235.3 167.1 234.9 158.1 234.4 147.8 233.9 140.5 232.1 124.1 230.8 117.7 229.6 113 228.4 109.3 227.1 106.3 225.9 103.8 224.6 101.7 223.4 99.9 222.2 98.4 220.9 97.1 219.7 96 218.5 95.1 217.2 94.4 216 93.9 214.7 93.5 213.5 93.2 212.3 93.1 211 93.2 209.8 93.4 208.5 93.7 207.3 94.2 206.1 94.9 204.8 95.7 203.6 96.8 202.4 98.1 201.1 99.6 199.9 101.4 198.6 103.6 197.4 106.2 196.2 109.5 194.9 113.5 193.7 118.9 193.3 121 193 123 192.9 123.3 192.5 126 192.2 128.2 192.1 129.1 191.7 132.7 191.5 135.4 191.3 137.1 190.9 142.6 190.8 145.8 190.6 149.2 190.2 155.4 190 156.1 189.3 150.2 188.5 141.4 187.8 134.6 186.3 125 185 119.9 183.8 116.1 182.5 113.2 181.3 111 180.1 109.3 178.8 108.2 177.6 107.4 176.4 107 175.1 107 173.9 107.4 172.6 108.1 171.4 109.2 170.2 110.7 168.9 112.7 167.7 115.3 166.5 118.7 165.5 121.8 163.8 129.9 162.7 137.7 162.1 144 160.4 178.2 160.1 166.5 159.2 143.7 158.7 137.6 158.3 133 157.3 126 157 124 156.4 121 155.5 117 155.3 116.1 154.6 113.8 153.7 111.1 153.6 110.8 152.8 108.8 151.9 106.9 150.4 104.2 149.1 102.4 147.9 101 146.6 99.8 145.4 98.9 144.2 98.2 142.9 97.8 141.7 97.5 140.4 97.4 139.2 97.4 138 97.7 136.7 98.1 135.5 98.8 134.3 99.6 133 100.6 131.8 101.9 130.5 103.4 129.3 105.2 128.1 107.3 126.8 109.9 125.6 113 124.4 116.8 123.1 121.5 121.6 129.8 120.5 138.4 119.4 153.2 118.3 192.9 118.1 179.8 117.5 156.4 117.2 150.3 116.9 145.6 116.4 138.5 116.1 136.4 115.8 133.3 115.2 129.2 115.1 128.3 114.6 125.8 114.1 122.9 114 122.6 113.5 120.4 112.9 118.2 112 115.2 110.7 111.8 109.5 109 108.3 106.7 107 104.7 105.8 103.1 104.5 101.6 103.3 100.4 102.1 99.4 100.8 98.6 99.6 97.9 98.3 97.3 97.1 97 95.9 96.7 94.6 96.6 93.4 96.6 92.2 96.8 90.9 97.1 89.7 97.6 88.4 98.2 87.2 99 86 100 84.7 101.2 83.5 102.6 82.3 104.3 81 106.3 79.8 108.7 78.2 112.5 77.5 114.5 77.3 115.4z" fill="url(#jetg)" stroke="url(#jetg)" stroke-width="0.3"/>
<path d="M77.3 127.3 77.5 125.8 78.2 122.1 79.8 115.9 81 112.2 82.3 109.3 83.5 106.9 84.7 105 86 103.4 87.2 102.1 88.4 101 89.7 100.2 90.9 99.6 92.2 99.2 93.4 98.9 94.6 98.8 95.9 98.9 97.1 99.2 98.3 99.6 99.6 100.2 100.8 101 102.1 102.1 103.3 103.3 104.5 104.8 105.8 106.6 107 108.7 108.3 111.3 109.5 114.4 110.7 118.3 112 123.3 112.9 128.2 113.5 132 114 136 114.1 136.7 114.6 142.6 115.1 148.4 115.2 150.7 115.8 160.9 116.1 164.3 116.4 163.3 116.9 153.8 117.2 148.9 117.5 144.7 118.1 137.8 118.3 135.7 119.4 127.3 120.5 121.3 121.6 116.7 123.1 111.6 124.4 108.4 125.6 105.8 126.8 103.5 128.1 101.7 129.3 100.1 130.5 98.9 131.8 97.8 133 97 134.3 96.4 135.5 96 136.7 95.8 138 95.7 139.2 95.9 140.4 96.3 141.7 96.9 142.9 97.6 144.2 98.7 145.4 100 146.6 101.6 147.9 103.6 149.1 106 150.4 109 151.9 114 152.8 117.7 153.6 121.8 153.7 122.5 154.6 128.8 155.3 135.6 155.5 138.4 156.4 157.6 157 201.2 157.3 174.6 158.3 147.8 158.7 141.3 159.2 136.4 160.1 129.1 160.4 126.9 162.1 118.6 162.7 116.4 163.8 113.1 165.5 109 166.5 107.3 167.7 105.4 168.9 103.8 170.2 102.7 171.4 101.8 172.6 101.2 173.9 100.8 175.1 100.8 176.4 101 177.6 101.5 178.8 102.2 180.1 103.3 181.3 104.8 182.5 106.6 183.8 109 185 111.9 186.3 115.8 187.8 122.4 188.5 126.8 189.3 132.5 190 140.5 190.2 142.6 190.6 149.6 190.8 154.3 190.9 160.3 191.3 181.2 191.5 189.5 191.7 168.6 192.1 151.1 192.2 148.4 192.5 142 192.9 135.7 193 135.1 193.3 131 193.7 127.3 194.9 118.8 196.2 113 197.4 108.7 198.6 105.3 199.9 102.5 201.1 100.3 202.4 98.4 203.6 96.8 204.8 95.5 206.1 94.5 207.3 93.6 208.5 92.9 209.8 92.4 211 92.1 212.3 91.9 213.5 91.8 214.7 91.9 216 92.2 217.2 92.6 218.5 93.1 219.7 93.9 220.9 94.8 222.2 95.9 223.4 97.2 224.6 98.8 225.9 100.6 227.1 102.8 228.4 105.4 229.6 108.6 230.8 112.6 232.1 117.6 233.9 129.3 234.4 133.8 234.9 139.6 235.3 147.7 235.4 149.8 235.7 156.8 235.8 161.4 235.9 167.3 236.2 186.5 236.3 192.7 236.4 188.4 236.7 175.3 236.7 172.6 236.9 165.7 237.2 158.6 237.2 157.9 237.4 153.2 237.6 148.8 239.5 129.8 240.7 122.8 242 117.7 243.2 113.9 244.5 111.1 245.7 108.9 246.9 107.4 248.2 106.5 249.4 106.1 250.6 106.2 251.9 106.9 253.1 108.2 254.4 110.2 255.9 114.1 256.8 117.4 257.7 121.1 257.8 121.7 258.7 127.8 259.4 134.2 259.6 137 260.6 154.5 261.1 171.8 261.5 170.8 262.4 154.6 262.9 147.1 263.3 140.9 264.3 131.4 264.6 128.6 266.4 117.4 268.1 109.6 269.8 103.5 270.5 101.6 271.7 98.3 272.9 95.4 274.2 92.9 275.4 90.6 276.7 88.6 277.9 86.8 279.1 85.2 280.4 83.8 281.6 82.6 282.8 81.5 284.1 80.6 285.3 79.9 286.6 79.3 287.8 78.8 289 78.5 290.3 78.4 291.5 78.4 292.7 78.6 294 79 295.2 79.5 296.5 80.3 297.7 81.3 298.9 82.6 300.2 84.3 301.4 86.3 302.7 88.8 303.9 91.9 305.1 95.9 306.7 102.9 307.3 106.7 307.8 110.8 307.9 111.5 308.5 117.9 309 124.6 309.2 127.5 309.8 146.7 310.2 200.4 310.4 174.4 311 143.1 311.3 135.5 311.6 129.7 312.2 121 312.5 118.4 313.6 108.5 314.8 101.5 316 96.2 317.5 90.7 318.7 87.2 320 84.3 321.2 81.9 322.5 79.9 323.7 78.3 324.9 76.9 326.2 75.9 327.4 75.2 328.7 74.8 329.9 74.6 331.1 74.8 332.4 75.2 333.6 76 334.8 77.2 336.1 78.7 337.3 80.8 338.6 83.6 339.8 87.2 341 92.1 342.5 101 343 105.4 343.5 111.2 344 119.3 344.1 121.4 344.4 128.4 344.5 133.2 344.7 139.4 344.9 164.7 345 188.3 345.2 151.1 345.5 131.9 345.5 129 345.7 122.1 346 115.4 346 114.7 346.3 110.4 346.5 106.3 348.5 88.9 349.7 82.1 350.9 76.9 352.2 72.5 353.4 68.9 354.7 65.7 355.9 62.9 357.1 60.4 358.4 58.2 359.6 56.1 360.8 54.2 362.1 52.5 363.3 51 364.6 49.5 365.8 48.2 367 47 368.3 45.9 369.5 44.8 370.8 43.9 372 43 373.2 42.2 374.5 41.5 375.7 40.9 376.9 40.3 378.2 39.8 379.4 39.4 380.7 39 381.9 38.7 383.1 38.5 384.4 38.3 385.6 38.2 386.9 38.1 388.1 38.1 389.3 38.2 390.6 38.3 391.8 38.4 393 38.7 394.3 38.9 395.5 39.3 396.8 39.7 398 40.1 399.2 40.6 400.5 41.2 401.7 41.9 402.9 42.6 404.2 43.3 405.4 44.2 406.7 45.1 407.9 46 409.1 47.1 410.4 48.2 411.6 49.4 412.9 50.7 414.1 52 415.3 53.5 416.6 55.1 417.8 56.7 419 58.5 420.3 60.4 421.5 62.4 422.8 64.5 424 66.9 425.2 69.3 426.5 72 427.7 74.9 428.9 78 430.4 81.9 431.4 85.1 432.7 89.2 434.1 94.4 435.1 98.9 436.4 104.9 437 108.5 439.3 125.2 439.7 129.1 440.7 140.7 441.1 147.6 441.4 155.9 442 180.4 442.2 187.9 442.5 162.1 442.9 152.7 443 151.6 443.1 149.5 443.3 148.1 443.3 148 443.3 147.6 443.4 147.5 445 147.3 446 154.4 446 154.7 446.1 155.6 446.1 155.8 446.3 158.7 446.6 162.7 446.7 164.7 447.2 178.6 447.6 192.2 447.9 179 448.7 148.5 449.3 139.9 449.8 133 451.2 122.2 451.7 118.9 452.5 114.9 453.7 109.7 455 105.2 456.2 101.9 457.4 98.9 459.3 95.2 459.9 94 461.1 92 462.4 90.3 463.6 88.7 464.5 87.6 466.1 86 467.3 84.9 468.6 84 469.8 83.2 471 82.4 472.3 81.8 473.5 81.3 474.8 81 476 80.7 477.2 80.5 478.5 80.5 479.7 80.5 481 80.7 482.2 80.9 483.4 81.3 484.7 81.8 485.9 82.5 487.1 83.3 488.4 84.2 489.6 85.3 490.9 86.7 492.1 88.2 493.3 90.1 494.6 92.2 495.8 94.8 497 97.9 498.3 101.7 499.5 106.6 500.3 110.5 501 114.6 501.1 115.3 501.8 121.8 502.4 128.5 502.6 131.4 503.3 150.4 503.8 186.9 504.1 158 504.9 134.1 505.3 128.3 505.6 124 506.4 117.5 506.7 115.5 508.1 108.3 509.5 103.3 511 99.7 511.9 97.8 513.1 95.8 514.4 94.1 515.6 92.9 516.9 91.9 518.1 91.2 519.3 90.8 520.6 90.6 521.8 90.6 523.1 90.8 524.3 91.3 525.5 92 526.8 92.9 528 94.1 529.2 95.6 530.5 97.4 531.7 99.6 533 102.3 534.2 105.7 535.4 110 536.7 115.7 537.6 121.6 538.1 126 538.7 131.8 539.2 140 539.3 142.1 539.6 149.2 539.8 154 539.9 160.2 540.2 185 540.3 204.5 540.5 145.9 540.8 132.3 540.9 130.3 541.1 125.5 541.4 120.9 541.4 120.5 541.6 117.5 541.9 114.8 544.1 103.3 545.3 99.6 546.6 96.9 547.8 94.8 549.1 93.1 550.3 91.8 551.5 90.7 552.8 89.9 554 89.2 555.2 88.6 556.5 88.2 557.7 87.9 559 87.7 560.2 87.6 561.4 87.7 562.7 87.8 563.9 88 565.2 88.2 566.4 88.6 567.6 89 568.9 89.5 570.1 90.1 571.3 90.8 572.6 91.6 573.8 92.5 575.1 93.4 576.3 94.5 577.5 95.7 578.8 97.1 580 98.5 581.2 100.2 582.2 101.5 583.7 104.1 585 106.5 586 108.8 587.4 112.3 589.2 117.9 589.9 120.9 591.6 129.8 592 132.7 593 142 593.4 147.9 593.8 155.2 594.4 179.4 594.6 188.9 594.9 181.7 595.3 170.4 595.4 168.6 595.6 164.9 595.7 162.2 595.7 162 595.8 161.1 595.8 160.8 597.3 148.6 598.6 147.9 600.1 157.2 600.1 157.4 600.2 158.3 600.2 158.5 600.4 161.3 600.7 165.2 600.8 167.1 601.2 181.3 601.6 197.7 601.9 194.9 602.7 171.2 603.1 161.9 603.7 154.2 604.9 142.1 605.4 138.3 606 134.3 607.2 127.8 608.4 122.8 609.7 118.3 611 114.6 612.3 111.2 613.4 108.7 614.7 106.3 615.9 104.1 617.2 102.2 618.4 100.5 619.6 99 620.9 97.6 622.1 96.4 623.3 95.3 624.6 94.4 625.8 93.7 627.1 93 628.3 92.5 629.5 92.1 630.8 91.9 632 91.8 633.3 91.8 634.5 92 635.7 92.3 637 92.8 638.2 93.4 639.4 94.3 640.7 95.3 641.9 96.6 643.2 98.2 644.4 100.1 645.6 102.4 646.9 105.3 648.1 108.8 649.3 113.4 650.6 119.6 652.4 136.2 652.7 140 652.9 143.9 652.9 144.6 653.2 150.4 653.4 155.9 653.4 158 653.7 167 653.8 169.9 653.9 169.3 654.2 163.4 654.3 159.8 654.4 156.5 654.7 150.8 654.8 149 655.2 141.4 655.7 135.9 656.2 131.5 658 119.8 659.3 114.8 660.5 110.9 661.7 107.8 663 105.2 664.2 103.1 665.4 101.4 666.7 100 667.9 98.8 669.2 97.9 670.4 97.2 671.6 96.8 672.9 96.5 674.1 96.4 675.4 96.5 676.6 96.7 677.8 97.2 679.1 97.9 680.3 98.8 681.5 100 682.8 101.4 684 103.2 685.3 105.3 686.5 107.9 687.7 111.1 689 115.2 690.2 120.5 691.4 127.9 693.3 150.9 693.4 154.3 693.6 157.8 693.6 158.4 693.7 163.1 693.8 167 693.9 168.3 694 172.8 694.1 173.9 694.2 173.4 694.3 169 694.4 166.3 694.5 163.6 694.6 158.7 694.7 157.1 694.9 150.4 695.2 145.3 695.5 141.2 696.4 131.5 696.4 133 695.5 144.3 695.2 149.3 694.9 155.7 694.7 163.9 694.6 165.6 694.5 169.2 694.4 169.8 694.3 169.3 694.2 166 694.1 164.4 694 161.6 693.9 157.2 693.8 156.2 693.7 153.4 693.6 150 693.6 149.6 693.4 147.1 693.3 144.4 691.4 125.1 690.2 118.3 689 113.3 687.7 109.5 686.5 106.4 685.3 104 684 101.9 682.8 100.3 681.5 98.9 680.3 97.8 679.1 96.9 677.8 96.3 676.6 95.9 675.4 95.7 674.1 95.6 672.9 95.8 671.6 96.1 670.4 96.7 669.2 97.4 667.9 98.4 666.7 99.7 665.4 101.2 664.2 103 663 105.3 661.7 108 660.5 111.4 659.3 115.6 658 121.2 656.2 134.8 655.7 140.2 655.2 147.3 654.8 156.6 654.7 158.6 654.4 162.8 654.3 163.5 654.2 162.4 653.9 156.3 653.8 153.7 653.7 149.7 653.4 144.2 653.4 143 653.2 139.8 652.9 136.1 652.9 135.6 652.7 132.9 652.4 130.1 650.6 116.7 649.3 111.3 648.1 107.1 646.9 103.9 645.6 101.3 644.4 99.1 643.2 97.4 641.9 95.9 640.7 94.8 639.4 93.8 638.2 93.1 637 92.5 635.7 92.2 634.5 92 633.3 91.9 632 92 630.8 92.2 629.5 92.5 628.3 93 627.1 93.7 625.8 94.4 624.6 95.3 623.3 96.4 622.1 97.6 620.9 99 619.6 100.5 618.4 102.3 617.2 104.3 615.9 106.5 614.7 109 613.4 111.8 612.3 114.7 611 118.8 609.7 123.3 608.4 129.1 607.2 135.7 606 145.2 605.4 151.6 604.9 158.2 603.7 184.3 603.1 192.7 602.7 181.5 601.9 165.3 601.6 162 601.2 158.3 600.8 154.7 600.7 154.1 600.4 152.8 600.2 151.8 600.2 151.7 600.1 151.4 600.1 151.3 598.6 147.5 597.3 148.3 595.8 154.6 595.8 154.7 595.7 155.1 595.7 155.1 595.6 156.3 595.4 157.7 595.3 158.4 594.9 162.2 594.6 166.1 594.4 169.3 593.8 184.9 593.4 194.4 593 168.8 592 145.3 591.6 140.1 589.9 126.8 589.2 122.8 587.4 115.9 586 111.7 585 109 583.7 106.3 582.2 103.4 581.2 101.8 580 100 578.8 98.4 577.5 96.9 576.3 95.6 575.1 94.4 573.8 93.3 572.6 92.3 571.3 91.5 570.1 90.7 568.9 90 567.6 89.4 566.4 88.9 565.2 88.5 563.9 88.2 562.7 87.9 561.4 87.8 560.2 87.7 559 87.7 557.7 87.8 556.5 88.1 555.2 88.4 554 88.9 552.8 89.5 551.5 90.3 550.3 91.2 549.1 92.4 547.8 93.9 546.6 95.8 545.3 98.2 544.1 101.4 541.9 110.7 541.6 112.6 541.4 114.6 541.4 115 541.1 117.8 540.9 120.3 540.8 121.3 540.5 126 540.3 130 540.2 133.1 539.9 148.1 539.8 173.3 539.6 169.9 539.3 157.7 539.2 154 538.7 141.2 538.1 133.3 537.6 127.6 536.7 120.5 535.4 113.9 534.2 109.1 533 105.4 531.7 102.5 530.5 100.1 529.2 98.2 528 96.7 526.8 95.4 525.5 94.5 524.3 93.9 523.1 93.5 521.8 93.3 520.6 93.4 519.3 93.7 518.1 94.3 516.9 95.2 515.6 96.4 514.4 98 513.1 100.1 511.9 102.7 511 105.1 509.5 110 508.1 117.3 506.7 130 506.4 134.2 505.6 154.4 505.3 186.9 504.9 156 504.1 134.2 503.8 129.7 503.3 124 502.6 117.2 502.4 115.9 501.8 112.2 501.1 108.3 501 107.9 500.3 105 499.5 102.3 498.3 98.6 497 95.6 495.8 93.1 494.6 91 493.3 89.2 492.1 87.7 490.9 86.4 489.6 85.3 488.4 84.4 487.1 83.6 485.9 83 484.7 82.5 483.4 82.2 482.2 81.9 481 81.8 479.7 81.8 478.5 81.9 477.2 82.1 476 82.4 474.8 82.8 473.5 83.3 472.3 83.9 471 84.7 469.8 85.6 468.6 86.6 467.3 87.7 466.1 89 464.5 90.8 463.6 92.1 462.4 93.9 461.1 96 459.9 98.4 459.3 99.8 457.4 104.3 456.2 108.1 455 112.3 453.7 118.3 452.5 125.9 451.7 132.3 451.2 138.3 449.8 165.5 449.3 189.6 448.7 172.3 447.9 154 447.6 150.5 447.2 146.4 446.7 142.5 446.6 141.8 446.3 140.3 446.1 139.2 446.1 139.1 446 138.7 446 138.6 445 135.3 443.4 134.6 443.3 134.7 443.3 134.8 443.3 134.8 443.1 135.2 443 135.8 442.9 136 442.5 137.8 442.2 139.9 442 141.8 441.4 153.8 441.1 188.1 440.7 168.8 439.7 143.3 439.3 137.1 437 114.3 436.4 109.9 435.1 102.8 434.1 97.5 432.7 91.7 431.4 87.1 430.4 83.6 428.9 79.4 427.7 76.1 426.5 73 425.2 70.2 424 67.6 422.8 65.1 421.5 62.9 420.3 60.8 419 58.8 417.8 57 416.6 55.3 415.3 53.7 414.1 52.2 412.9 50.8 411.6 49.5 410.4 48.3 409.1 47.1 407.9 46.1 406.7 45.1 405.4 44.2 404.2 43.3 402.9 42.6 401.7 41.9 400.5 41.2 399.2 40.6 398 40.1 396.8 39.7 395.5 39.3 394.3 38.9 393 38.7 391.8 38.4 390.6 38.3 389.3 38.2 388.1 38.1 386.9 38.1 385.6 38.2 384.4 38.3 383.1 38.5 381.9 38.7 380.7 39 379.4 39.4 378.2 39.8 376.9 40.3 375.7 40.9 374.5 41.5 373.2 42.2 372 43 370.8 43.9 369.5 44.8 368.3 45.8 367 46.9 365.8 48.1 364.6 49.4 363.3 50.9 362.1 52.4 360.8 54.1 359.6 55.9 358.4 57.9 357.1 60.1 355.9 62.5 354.7 65.2 353.4 68.2 352.2 71.7 350.9 75.7 349.7 80.6 348.5 86.6 346.5 101 346.3 104 346 107.1 346 107.5 345.7 111.7 345.5 115.5 345.5 116.9 345.2 123.8 345 129.6 344.9 134.1 344.7 154.6 344.5 171.4 344.4 158.4 344.1 139 344 134.7 343.5 120.9 343 112.9 342.5 107.2 341 96.5 339.8 90.9 338.6 86.8 337.3 83.8 336.1 81.6 334.8 79.9 333.6 78.7 332.4 77.9 331.1 77.4 329.9 77.3 328.7 77.6 327.4 78.1 326.2 79 324.9 80.1 323.7 81.6 322.5 83.5 321.2 85.8 320 88.6 318.7 92 317.5 96.2 316 103 314.8 110 313.6 119.8 312.5 136.5 312.2 141.7 311.6 161.7 311.3 167.8 311 150 310.4 129.5 310.2 125.1 309.8 119.4 309.2 112.7 309 111.4 308.5 107.8 307.9 103.9 307.8 103.5 307.3 100.7 306.7 98 305.1 92.7 303.9 89.6 302.7 87.1 301.4 85 300.2 83.4 298.9 82.1 297.7 81.1 296.5 80.3 295.2 79.8 294 79.4 292.7 79.2 291.5 79.2 290.3 79.4 289 79.7 287.8 80.2 286.6 80.8 285.3 81.6 284.1 82.6 282.8 83.7 281.6 85 280.4 86.4 279.1 88.1 277.9 89.9 276.7 92 275.4 94.4 274.2 97.1 272.9 100.2 271.7 103.7 270.5 107.8 269.8 110.1 268.1 118 266.4 129.2 264.6 148.3 264.3 154.4 263.3 182.1 262.9 196 262.4 158.9 261.5 137.1 261.1 132.7 260.6 127 259.6 120.6 259.4 119.3 258.7 115.9 257.8 112.4 257.7 112.1 256.8 109.7 255.9 107.6 254.4 105 253.1 103.7 251.9 102.9 250.6 102.6 249.4 102.8 248.2 103.4 246.9 104.5 245.7 106 244.5 108.1 243.2 110.9 242 114.5 240.7 119.1 239.5 125.3 237.6 140.9 237.4 144.2 237.2 147.5 237.2 148 236.9 152.5 236.7 156.7 236.7 158.2 236.4 165.9 236.3 172.3 236.2 177.2 235.9 197.5 235.8 206.3 235.7 187.6 235.4 167 235.3 162.5 234.9 148.6 234.4 140.4 233.9 134.6 232.1 120.8 230.8 115.1 229.6 110.8 228.4 107.3 227.1 104.5 225.9 102.2 224.6 100.2 223.4 98.5 222.2 97.1 220.9 95.9 219.7 94.9 218.5 94.1 217.2 93.5 216 93 214.7 92.7 213.5 92.5 212.3 92.5 211 92.6 209.8 92.9 208.5 93.3 207.3 93.9 206.1 94.7 204.8 95.6 203.6 96.8 202.4 98.2 201.1 99.9 199.9 101.9 198.6 104.4 197.4 107.4 196.2 111.1 194.9 115.9 193.7 122.6 193.3 125.3 193 128.1 192.9 128.5 192.5 132.4 192.2 135.9 192.1 137.2 191.7 143.7 191.5 149.3 191.3 153.6 190.9 173.9 190.8 196.1 190.6 180.5 190.2 160.4 190 156 189.3 142.2 188.5 134.1 187.8 128.5 186.3 120.3 185 115.9 183.8 112.5 182.5 109.9 181.3 107.9 180.1 106.4 178.8 105.2 177.6 104.5 176.4 104 175.1 103.9 173.9 104.1 172.6 104.6 171.4 105.4 170.2 106.5 168.9 108.1 167.7 110 166.5 112.5 165.5 114.8 163.8 120.3 162.7 125.1 162.1 128.5 160.4 142.9 160.1 147.5 159.2 170.1 158.7 196.8 158.3 163 157.3 141.1 157 136.7 156.4 130.9 155.5 124.3 155.3 122.9 154.6 119.3 153.7 115.5 153.6 115.1 152.8 112.3 151.9 109.7 150.4 106.1 149.1 103.9 147.9 102 146.6 100.5 145.4 99.3 144.2 98.3 142.9 97.5 141.7 97 140.4 96.7 139.2 96.6 138 96.6 136.7 96.8 135.5 97.3 134.3 97.9 133 98.7 131.8 99.7 130.5 101 129.3 102.5 128.1 104.4 126.8 106.5 125.6 109.1 124.4 112.2 123.1 116.1 121.6 122.3 120.5 128.1 119.4 136 118.3 146.9 118.1 149.3 117.5 154.3 117.2 154.8 116.9 154 116.4 148.3 116.1 145.8 115.8 141.9 115.2 136.5 115.1 135.3 114.6 132 114.1 128.3 114 127.9 113.5 125.1 112.9 122.4 112 118.7 110.7 114.7 109.5 111.5 108.3 108.9 107 106.6 105.8 104.7 104.5 103.2 103.3 101.8 102.1 100.7 100.8 99.8 99.6 99 98.3 98.5 97.1 98.1 95.9 97.8 94.6 97.7 93.4 97.8 92.2 98 90.9 98.3 89.7 98.9 88.4 99.6 87.2 100.5 86 101.6 84.7 103 83.5 104.6 82.3 106.6 81 109 79.8 112 78.2 116.7 77.5 119.3 77.3 120.4z" fill="url(#jetg)" stroke="url(#jetg)" stroke-width="0.3"/>
<path d="M77.3 137.9 77.5 135.3 78.2 129.6 79.8 120.8 81 116 82.3 112.4 83.5 109.5 84.7 107.2 86 105.3 87.2 103.8 88.4 102.5 89.7 101.6 90.9 100.8 92.2 100.3 93.4 100 94.6 99.9 95.9 100 97.1 100.3 98.3 100.7 99.6 101.4 100.8 102.3 102.1 103.4 103.3 104.8 104.5 106.5 105.8 108.5 107 111 108.3 114 109.5 117.7 110.7 122.5 112 129 112.9 135.8 113.5 141.5 114 148.1 114.1 149.1 114.6 159 115.1 163.7 115.2 163.3 115.8 154.2 116.1 147.9 116.4 144.6 116.9 137.5 117.2 134.6 117.5 132 118.1 127.6 118.3 126.2 119.4 120.2 120.5 115.6 121.6 111.9 123.1 107.7 124.4 105 125.6 102.7 126.8 100.8 128.1 99.3 129.3 98 130.5 97 131.8 96.1 133 95.5 134.3 95.1 135.5 94.9 136.7 94.9 138 95.1 139.2 95.5 140.4 96.2 141.7 97 142.9 98.1 144.2 99.5 145.4 101.3 146.6 103.4 147.9 106 149.1 109.3 150.4 113.4 151.9 120.7 152.8 126.8 153.6 134.4 153.7 135.8 154.6 152.8 155.3 194.7 155.5 179.7 156.4 148.1 157 139.6 157.3 135.8 158.3 128.1 158.7 125.2 159.2 122.6 160.1 118.3 160.4 116.9 162.1 111.3 162.7 109.6 163.8 107.1 165.5 104 166.5 102.6 167.7 101.1 168.9 99.9 170.2 99 171.4 98.3 172.6 97.9 173.9 97.7 175.1 97.7 176.4 98 177.6 98.5 178.8 99.2 180.1 100.3 181.3 101.6 182.5 103.3 183.8 105.5 185 108.1 186.3 111.5 187.8 117.1 188.5 120.6 189.3 125 190 130.7 190.2 132.1 190.6 136.3 190.8 138.8 190.9 141.7 191.3 149.1 191.5 152.7 191.7 160.8 192.1 188.7 192.2 198.4 192.5 165.2 192.9 149.1 193 147.7 193.3 140.3 193.7 134.3 194.9 122.6 196.2 115.4 197.4 110.3 198.6 106.4 199.9 103.3 201.1 100.8 202.4 98.7 203.6 97 204.8 95.5 206.1 94.3 207.3 93.4 208.5 92.6 209.8 92 211 91.5 212.3 91.3 213.5 91.1 214.7 91.2 216 91.4 217.2 91.7 218.5 92.2 219.7 92.8 220.9 93.7 222.2 94.7 223.4 95.9 224.6 97.4 225.9 99.1 227.1 101.2 228.4 103.6 229.6 106.6 230.8 110.2 232.1 114.8 233.9 124.9 234.4 128.5 234.9 132.9 235.3 138.6 235.4 139.9 235.7 144 235.8 146.4 235.9 149.1 236.2 155.7 236.3 158.8 236.4 164.7 236.7 174.1 236.7 174.7 236.9 173.5 237.2 168.8 237.2 168.1 237.4 163 237.6 157.7 239.5 134.8 240.7 126.8 242 121.3 243.2 117.2 244.5 114.2 245.7 112.1 246.9 110.7 248.2 109.9 249.4 109.8 250.6 110.3 251.9 111.6 253.1 113.7 254.4 116.9 255.9 123.1 256.8 128.7 257.7 135.9 257.8 137.1 258.7 151.7 259.4 165.4 259.6 165.2 260.6 154.4 261.1 145.8 261.5 141.3 262.4 131.7 262.9 127.9 263.3 124.5 264.3 118.7 264.6 116.9 266.4 109 268.1 102.9 269.8 98.1 270.5 96.6 271.7 93.8 272.9 91.4 274.2 89.2 275.4 87.3 276.7 85.5 277.9 84 279.1 82.7 280.4 81.5 281.6 80.5 282.8 79.6 284.1 78.9 285.3 78.3 286.6 77.9 287.8 77.6 289 77.5 290.3 77.6 291.5 77.8 292.7 78.2 294 78.7 295.2 79.5 296.5 80.6 297.7 81.9 298.9 83.5 300.2 85.5 301.4 87.9 302.7 91 303.9 95 305.1 100.2 306.7 110.1 307.3 116.2 307.8 123.6 307.9 125 308.5 140.2 309 156.6 309.2 156.1 309.8 141.6 310.2 133.1 310.4 128.9 311 120.2 311.3 116.7 311.6 113.7 312.2 108.6 312.5 106.9 313.6 99.9 314.8 94.6 316 90.3 317.5 85.7 318.7 82.7 320 80.2 321.2 78.2 322.5 76.4 323.7 75 324.9 73.9 326.2 73 327.4 72.4 328.7 72 329.9 71.9 331.1 72.1 332.4 72.6 333.6 73.3 334.8 74.4 336.1 75.9 337.3 77.9 338.6 80.4 339.8 83.7 341 88.1 342.5 95.7 343 99.3 343.5 103.7 344 109.4 344.1 110.8 344.4 115 344.5 117.5 344.7 120.4 344.9 127.8 345 131.5 345.2 139.6 345.5 171.7 345.5 202 345.7 146.9 346 129.7 346 128.2 346.3 120.4 346.5 114 348.5 91.5 349.7 83.9 350.9 78.1 352.2 73.5 353.4 69.6 354.7 66.3 355.9 63.4 357.1 60.8 358.4 58.4 359.6 56.3 360.8 54.4 362.1 52.7 363.3 51.1 364.6 49.6 365.8 48.3 367 47 368.3 45.9 369.5 44.9 370.8 43.9 372 43 373.2 42.2 374.5 41.5 375.7 40.9 376.9 40.3 378.2 39.8 379.4 39.4 380.7 39 381.9 38.7 383.1 38.5 384.4 38.3 385.6 38.2 386.9 38.1 388.1 38.1 389.3 38.2 390.6 38.3 391.8 38.4 393 38.7 394.3 38.9 395.5 39.3 396.8 39.7 398 40.1 399.2 40.6 400.5 41.2 401.7 41.9 402.9 42.6 404.2 43.3 405.4 44.1 406.7 45 407.9 46 409.1 47 410.4 48.2 411.6 49.3 412.9 50.6 414.1 52 415.3 53.4 416.6 54.9 417.8 56.6 419 58.3 420.3 60.2 421.5 62.1 422.8 64.2 424 66.5 425.2 68.9 426.5 71.5 427.7 74.2 428.9 77.2 430.4 80.9 431.4 84 432.7 87.9 434.1 92.7 435.1 97 436.4 102.5 437 105.7 439.3 120.3 439.7 123.4 440.7 132.4 441.1 137.3 441.4 142.5 442 154.6 442.2 160 442.5 170.7 442.9 195.9 443 199.3 443.1 163.9 443.3 156.3 443.3 155.9 443.3 154.1 443.4 153.6 445 149.1 446 166.5 446 167.2 446.1 170.3 446.1 171 446.3 182.8 446.6 207 446.7 198.7 447.2 162.2 447.6 150.3 447.9 144.6 448.7 132.4 449.3 127.4 449.8 122.8 451.2 114.9 451.7 112.2 452.5 109 453.7 104.7 455 100.8 456.2 97.9 457.4 95.3 459.3 91.9 459.9 90.9 461.1 89.1 462.4 87.5 463.6 86.1 464.5 85.1 466.1 83.7 467.3 82.7 468.6 81.9 469.8 81.2 471 80.5 472.3 80 473.5 79.7 474.8 79.4 476 79.2 477.2 79.1 478.5 79.2 479.7 79.3 481 79.6 482.2 80 483.4 80.5 484.7 81.2 485.9 82 487.1 83 488.4 84.1 489.6 85.5 490.9 87.1 492.1 88.9 493.3 91.2 494.6 93.8 495.8 97 497 101 498.3 106.1 499.5 113.2 500.3 119.4 501 127.1 501.1 128.4 501.8 145.4 502.4 186.8 502.6 163.4 503.3 134.1 503.8 126.6 504.1 123.2 504.9 116.4 505.3 113.8 505.6 111.5 506.4 107.7 506.7 106.5 508.1 101.4 509.5 97.8 511 94.9 511.9 93.5 513.1 91.8 514.4 90.5 515.6 89.5 516.9 88.8 518.1 88.2 519.3 87.9 520.6 87.8 521.8 87.9 523.1 88.2 524.3 88.7 525.5 89.4 526.8 90.3 528 91.5 529.2 92.9 530.5 94.6 531.7 96.7 533 99.3 534.2 102.4 535.4 106.3 536.7 111.3 537.6 116.2 538.1 119.9 538.7 124.3 539.2 130.1 539.3 131.4 539.6 135.7 539.8 138.1 539.9 141 540.2 148.1 540.3 151.6 540.5 158.8 540.8 175.5 540.9 177.5 541.1 143 541.4 131.2 541.4 130.2 541.6 124.8 541.9 120.4 544.1 105.3 545.3 101 546.6 98 547.8 95.6 549.1 93.8 550.3 92.3 551.5 91.1 552.8 90.2 554 89.4 555.2 88.8 556.5 88.3 557.7 88 559 87.7 560.2 87.6 561.4 87.6 562.7 87.6 563.9 87.8 565.2 88 566.4 88.3 567.6 88.7 568.9 89.2 570.1 89.7 571.3 90.4 572.6 91.1 573.8 91.9 575.1 92.8 576.3 93.9 577.5 95 578.8 96.2 580 97.6 581.2 99.2 582.2 100.5 583.7 102.8 585 105 586 107.2 587.4 110.4 589.2 115.3 589.9 117.9 591.6 125.3 592 127.6 593 134.5 593.4 138.4 593.8 142.7 594.4 153.2 594.6 158 594.9 168 595.3 193.4 595.4 197.3 595.6 187.8 595.7 178.6 595.7 178 595.8 175.2 595.8 174.6 597.3 149.1 598.6 148.7 600.1 170.9 600.1 171.6 600.2 174.6 600.2 175.3 600.4 186.7 600.7 207.6 600.8 207 601.2 187.6 601.6 175.2 601.9 168.9 602.7 155.3 603.1 149.7 603.7 144.6 604.9 135.6 605.4 132.6 606 129.4 607.2 123.9 608.4 119.6 609.7 115.6 611 112.3 612.3 109.2 613.4 107 614.7 104.7 615.9 102.7 617.2 101 618.4 99.4 619.6 98 620.9 96.7 622.1 95.6 623.3 94.7 624.6 93.9 625.8 93.2 627.1 92.6 628.3 92.2 629.5 91.9 630.8 91.7 632 91.7 633.3 91.8 634.5 92 635.7 92.4 637 93 638.2 93.7 639.4 94.6 640.7 95.8 641.9 97.2 643.2 98.9 644.4 101 645.6 103.5 646.9 106.5 648.1 110.4 649.3 115.5 650.6 122.6 652.4 142.7 652.7 147.4 652.9 152.1 652.9 152.8 653.2 157.7 653.4 159.1 653.4 159 653.7 156.9 653.8 154.8 653.9 153.3 654.2 149.3 654.3 147.4 654.4 145.6 654.7 142.2 654.8 141.1 655.2 136 655.7 131.9 656.2 128.4 658 118.5 659.3 114 660.5 110.4 661.7 107.6 663 105.2 664.2 103.3 665.4 101.7 666.7 100.3 667.9 99.3 669.2 98.4 670.4 97.8 671.6 97.4 672.9 97.2 674.1 97.1 675.4 97.3 676.6 97.6 677.8 98.1 679.1 98.9 680.3 99.9 681.5 101.1 682.8 102.6 684 104.4 685.3 106.6 686.5 109.4 687.7 112.7 689 117 690.2 122.6 691.4 130.7 693.3 155.5 693.4 158.6 693.6 161.2 693.6 161.5 693.7 163.7 693.8 164.2 693.9 164.1 694 162.5 694.1 160.8 694.2 159.6 694.3 156.4 694.4 154.8 694.5 153.3 694.6 150.5 694.7 149.5 694.9 145 695.2 141.2 695.5 138 696.4 129.8 696.4 131.5 695.5 141.2 695.2 145.3 694.9 150.4 694.7 157.1 694.6 158.7 694.5 163.6 694.4 166.3 694.3 169 694.2 173.4 694.1 173.9 694 172.8 693.9 168.3 693.8 167 693.7 163.1 693.6 158.4 693.6 157.8 693.4 154.3 693.3 150.9 691.4 127.9 690.2 120.5 689 115.2 687.7 111.1 686.5 107.9 685.3 105.3 684 103.2 682.8 101.4 681.5 100 680.3 98.8 679.1 97.9 677.8 97.2 676.6 96.7 675.4 96.5 674.1 96.4 672.9 96.5 671.6 96.8 670.4 97.2 669.2 97.9 667.9 98.8 666.7 100 665.4 101.4 664.2 103.1 663 105.2 661.7 107.8 660.5 110.9 659.3 114.8 658 119.8 656.2 131.5 655.7 135.9 655.2 141.4 654.8 149 654.7 150.8 654.4 156.5 654.3 159.8 654.2 163.4 653.9 169.3 653.8 169.9 653.7 167 653.4 158 653.4 155.9 653.2 150.4 652.9 144.6 652.9 143.9 652.7 140 652.4 136.2 650.6 119.6 649.3 113.4 648.1 108.8 646.9 105.3 645.6 102.4 644.4 100.1 643.2 98.2 641.9 96.6 640.7 95.3 639.4 94.3 638.2 93.4 637 92.8 635.7 92.3 634.5 92 633.3 91.8 632 91.8 630.8 91.9 629.5 92.1 628.3 92.5 627.1 93 625.8 93.7 624.6 94.4 623.3 95.3 622.1 96.4 620.9 97.6 619.6 99 618.4 100.5 617.2 102.2 615.9 104.1 614.7 106.3 613.4 108.7 612.3 111.2 611 114.6 609.7 118.3 608.4 122.8 607.2 127.8 606 134.3 605.4 138.3 604.9 142.1 603.7 154.2 603.1 161.9 602.7 171.2 601.9 194.9 601.6 197.7 601.2 181.3 600.8 167.1 600.7 165.2 600.4 161.3 600.2 158.5 600.2 158.3 600.1 157.4 600.1 157.2 598.6 147.9 597.3 148.6 595.8 160.8 595.8 161.1 595.7 162 595.7 162.2 595.6 164.9 595.4 168.6 595.3 170.4 594.9 181.7 594.6 188.9 594.4 179.4 593.8 155.2 593.4 147.9 593 142 592 132.7 591.6 129.8 589.9 120.9 589.2 117.9 587.4 112.3 586 108.8 585 106.5 583.7 104.1 582.2 101.5 581.2 100.2 580 98.5 578.8 97.1 577.5 95.7 576.3 94.5 575.1 93.4 573.8 92.5 572.6 91.6 571.3 90.8 570.1 90.1 568.9 89.5 567.6 89 566.4 88.6 565.2 88.2 563.9 88 562.7 87.8 561.4 87.7 560.2 87.6 559 87.7 557.7 87.9 556.5 88.2 555.2 88.6 554 89.2 552.8 89.9 551.5 90.7 550.3 91.8 549.1 93.1 547.8 94.8 546.6 96.9 545.3 99.6 544.1 103.3 541.9 114.8 541.6 117.5 541.4 120.5 541.4 120.9 541.1 125.5 540.9 130.3 540.8 132.3 540.5 145.9 540.3 204.5 540.2 185 539.9 160.2 539.8 154 539.6 149.2 539.3 142.1 539.2 140 538.7 131.8 538.1 126 537.6 121.6 536.7 115.7 535.4 110 534.2 105.7 533 102.3 531.7 99.6 530.5 97.4 529.2 95.6 528 94.1 526.8 92.9 525.5 92 524.3 91.3 523.1 90.8 521.8 90.6 520.6 90.6 519.3 90.8 518.1 91.2 516.9 91.9 515.6 92.9 514.4 94.1 513.1 95.8 511.9 97.8 511 99.7 509.5 103.3 508.1 108.3 506.7 115.5 506.4 117.5 505.6 124 505.3 128.3 504.9 134.1 504.1 158 503.8 186.9 503.3 150.4 502.6 131.4 502.4 128.5 501.8 121.8 501.1 115.3 501 114.6 500.3 110.5 499.5 106.6 498.3 101.7 497 97.9 495.8 94.8 494.6 92.2 493.3 90.1 492.1 88.2 490.9 86.7 489.6 85.3 488.4 84.2 487.1 83.3 485.9 82.5 484.7 81.8 483.4 81.3 482.2 80.9 481 80.7 479.7 80.5 478.5 80.5 477.2 80.5 476 80.7 474.8 81 473.5 81.3 472.3 81.8 471 82.4 469.8 83.2 468.6 84 467.3 84.9 466.1 86 464.5 87.6 463.6 88.7 462.4 90.3 461.1 92 459.9 94 459.3 95.2 457.4 98.9 456.2 101.9 455 105.2 453.7 109.7 452.5 114.9 451.7 118.9 451.2 122.2 449.8 133 449.3 139.9 448.7 148.5 447.9 179 447.6 192.2 447.2 178.6 446.7 164.7 446.6 162.7 446.3 158.7 446.1 155.8 446.1 155.6 446 154.7 446 154.4 445 147.3 443.4 147.5 443.3 147.6 443.3 148 443.3 148.1 443.1 149.5 443 151.6 442.9 152.7 442.5 162.1 442.2 187.9 442 180.4 441.4 155.9 441.1 147.6 440.7 140.7 439.7 129.1 439.3 125.2 437 108.5 436.4 104.9 435.1 98.9 434.1 94.4 432.7 89.2 431.4 85.1 430.4 81.9 428.9 78 427.7 74.9 426.5 72 425.2 69.3 424 66.9 422.8 64.5 421.5 62.4 420.3 60.4 419 58.5 417.8 56.7 416.6 55.1 415.3 53.5 414.1 52 412.9 50.7 411.6 49.4 410.4 48.2 409.1 47.1 407.9 46 406.7 45.1 405.4 44.2 404.2 43.3 402.9 42.6 401.7 41.9 400.5 41.2 399.2 40.6 398 40.1 396.8 39.7 395.5 39.3 394.3 38.9 393 38.7 391.8 38.4 390.6 38.3 389.3 38.2 388.1 38.1 386.9 38.1 385.6 38.2 384.4 38.3 383.1 38.5 381.9 38.7 380.7 39 379.4 39.4 378.2 39.8 376.9 40.3 375.7 40.9 374.5 41.5 373.2 42.2 372 43 370.8 43.9 369.5 44.8 368.3 45.9 367 47 365.8 48.2 364.6 49.5 363.3 51 362.1 52.5 360.8 54.2 359.6 56.1 358.4 58.2 357.1 60.4 355.9 62.9 354.7 65.7 353.4 68.9 352.2 72.5 350.9 76.9 349.7 82.1 348.5 88.9 346.5 106.3 346.3 110.4 346 114.7 346 115.4 345.7 122.1 345.5 129 345.5 131.9 345.2 151.1 345 188.3 344.9 164.7 344.7 139.4 344.5 133.2 344.4 128.4 344.1 121.4 344 119.3 343.5 111.2 343 105.4 342.5 101 341 92.1 339.8 87.2 338.6 83.6 337.3 80.8 336.1 78.7 334.8 77.2 333.6 76 332.4 75.2 331.1 74.8 329.9 74.6 328.7 74.8 327.4 75.2 326.2 75.9 324.9 76.9 323.7 78.3 322.5 79.9 321.2 81.9 320 84.3 318.7 87.2 317.5 90.7 316 96.2 314.8 101.5 313.6 108.5 312.5 118.4 312.2 121 311.6 129.7 311.3 135.5 311 143.1 310.4 174.4 310.2 200.4 309.8 146.7 309.2 127.5 309 124.6 308.5 117.9 307.9 111.5 307.8 110.8 307.3 106.7 306.7 102.9 305.1 95.9 303.9 91.9 302.7 88.8 301.4 86.3 300.2 84.3 298.9 82.6 297.7 81.3 296.5 80.3 295.2 79.5 294 79 292.7 78.6 291.5 78.4 290.3 78.4 289 78.5 287.8 78.8 286.6 79.3 285.3 79.9 284.1 80.6 282.8 81.5 281.6 82.6 280.4 83.8 279.1 85.2 277.9 86.8 276.7 88.6 275.4 90.6 274.2 92.9 272.9 95.4 271.7 98.3 270.5 101.6 269.8 103.5 268.1 109.6 266.4 117.4 264.6 128.6 264.3 131.4 263.3 140.9 262.9 147.1 262.4 154.6 261.5 170.8 261.1 171.8 260.6 154.5 259.6 137 259.4 134.2 258.7 127.8 257.8 121.7 257.7 121.1 256.8 117.4 255.9 114.1 254.4 110.2 253.1 108.2 251.9 106.9 250.6 106.2 249.4 106.1 248.2 106.5 246.9 107.4 245.7 108.9 244.5 111.1 243.2 113.9 242 117.7 240.7 122.8 239.5 129.8 237.6 148.8 237.4 153.2 237.2 157.9 237.2 158.6 236.9 165.7 236.7 172.6 236.7 175.3 236.4 188.4 236.3 192.7 236.2 186.5 235.9 167.3 235.8 161.4 235.7 156.8 235.4 149.8 235.3 147.7 234.9 139.6 234.4 133.8 233.9 129.3 232.1 117.6 230.8 112.6 229.6 108.6 228.4 105.4 227.1 102.8 225.9 100.6 224.6 98.8 223.4 97.2 222.2 95.9 220.9 94.8 219.7 93.9 218.5 93.1 217.2 92.6 216 92.2 214.7 91.9 213.5 91.8 212.3 91.9 211 92.1 209.8 92.4 208.5 92.9 207.3 93.6 206.1 94.5 204.8 95.5 203.6 96.8 202.4 98.4 201.1 100.3 199.9 102.5 198.6 105.3 197.4 108.7 196.2 113 194.9 118.8 193.7 127.3 193.3 131 193 135.1 192.9 135.7 192.5 142 192.2 148.4 192.1 151.1 191.7 168.6 191.5 189.5 191.3 181.2 190.9 160.3 190.8 154.3 190.6 149.6 190.2 142.6 190 140.5 189.3 132.5 188.5 126.8 187.8 122.4 186.3 115.8 185 111.9 183.8 109 182.5 106.6 181.3 104.8 180.1 103.3 178.8 102.2 177.6 101.5 176.4 101 175.1 100.8 173.9 100.8 172.6 101.2 171.4 101.8 170.2 102.7 168.9 103.8 167.7 105.4 166.5 107.3 165.5 109 163.8 113.1 162.7 116.4 162.1 118.6 160.4 126.9 160.1 129.1 159.2 136.4 158.7 141.3 158.3 147.8 157.3 174.6 157 201.2 156.4 157.6 155.5 138.4 155.3 135.6 154.6 128.8 153.7 122.5 153.6 121.8 152.8 117.7 151.9 114 150.4 109 149.1 106 147.9 103.6 146.6 101.6 145.4 100 144.2 98.7 142.9 97.6 141.7 96.9 140.4 96.3 139.2 95.9 138 95.7 136.7 95.8 135.5 96 134.3 96.4 133 97 131.8 97.8 130.5 98.9 129.3 100.1 128.1 101.7 126.8 103.5 125.6 105.8 124.4 108.4 123.1 111.6 121.6 116.7 120.5 121.3 119.4 127.3 118.3 135.7 118.1 137.8 117.5 144.7 117.2 148.9 116.9 153.8 116.4 163.3 116.1 164.3 115.8 160.9 115.2 150.7 115.1 148.4 114.6 142.6 114.1 136.7 114 136 113.5 132 112.9 128.2 112 123.3 110.7 118.3 109.5 114.4 108.3 111.3 107 108.7 105.8 106.6 104.5 104.8 103.3 103.3 102.1 102.1 100.8 101 99.6 100.2 98.3 99.6 97.1 99.2 95.9 98.9 94.6 98.8 93.4 98.9 92.2 99.2 90.9 99.6 89.7 100.2 88.4 101 87.2 102.1 86 103.4 84.7 105 83.5 106.9 82.3 109.3 81 112.2 79.8 115.9 78.2 122.1 77.5 125.8 77.3 127.3z" fill="url(#jetg)" stroke="url(#jetg)" stroke-width="0.3"/>
<path d="M77.3 167.6 77.5 157.5 78.2 142.9 79.8 127.8 81 121 82.3 116.2 83.5 112.6 84.7 109.7 86 107.4 87.2 105.6 88.4 104.2 89.7 103 90.9 102.2 92.2 101.6 93.4 101.2 94.6 101 95.9 101.1 97.1 101.4 98.3 101.9 99.6 102.6 100.8 103.6 102.1 104.9 103.3 106.5 104.5 108.4 105.8 110.7 107 113.6 108.3 117.2 109.5 121.9 110.7 128.2 112 137.6 112.9 149.6 113.5 163 114 177.3 114.1 176.8 114.6 158.3 115.1 148.3 115.2 145.7 115.8 137.7 116.1 133.8 116.4 131.8 116.9 127.2 117.2 125.2 117.5 123.4 118.1 120.2 118.3 119.1 119.4 114.5 120.5 110.8 121.6 107.7 123.1 104.2 124.4 101.9 125.6 100 126.8 98.4 128.1 97.1 129.3 96.1 130.5 95.3 131.8 94.7 133 94.3 134.3 94.1 135.5 94.1 136.7 94.4 138 94.8 139.2 95.5 140.4 96.4 141.7 97.6 142.9 99.1 144.2 100.9 145.4 103.2 146.6 106.1 147.9 109.6 149.1 114.2 150.4 120.5 151.9 133.3 152.8 148.6 153.6 195.9 153.7 188.5 154.6 148.6 155.3 137.9 155.5 135.2 156.4 127.2 157 123.4 157.3 121.4 158.3 117 158.7 115.1 159.2 113.4 160.1 110.4 160.4 109.4 162.1 105.2 162.7 103.9 163.8 102 165.5 99.5 166.5 98.4 167.7 97.2 168.9 96.2 170.2 95.5 171.4 95 172.6 94.6 173.9 94.5 175.1 94.6 176.4 94.9 177.6 95.5 178.8 96.2 180.1 97.2 181.3 98.5 182.5 100.1 183.8 102 185 104.4 186.3 107.4 187.8 112.3 188.5 115.2 189.3 118.7 190 123 190.2 124 190.6 127 190.8 128.6 190.9 130.4 191.3 134.6 191.5 136.4 191.7 139.8 192.1 146.5 192.2 148.6 192.5 155.5 192.9 163.4 193 163.5 193.3 155.7 193.7 145.2 194.9 127.6 196.2 118.4 197.4 112.3 198.6 107.8 199.9 104.3 201.1 101.5 202.4 99.1 203.6 97.2 204.8 95.6 206.1 94.3 207.3 93.2 208.5 92.3 209.8 91.6 211 91.1 212.3 90.7 213.5 90.5 214.7 90.5 216 90.6 217.2 90.8 218.5 91.3 219.7 91.8 220.9 92.6 222.2 93.5 223.4 94.7 224.6 96 225.9 97.7 227.1 99.6 228.4 101.9 229.6 104.6 230.8 108 232.1 112.1 233.9 121 234.4 124.1 234.9 127.7 235.3 132.2 235.4 133.2 235.7 136.2 235.8 137.9 235.9 139.8 236.2 144.1 236.3 146 236.4 149.5 236.7 156.8 236.7 159.1 236.9 167.7 237.2 181.6 237.2 182 237.4 179.5 237.6 172.5 239.5 140.7 240.7 131.4 242 125.2 243.2 120.9 244.5 117.8 245.7 115.7 246.9 114.4 248.2 113.9 249.4 114.3 250.6 115.4 251.9 117.6 253.1 121.1 254.4 126.5 255.9 138.4 256.8 153 257.7 181.9 257.8 181.7 258.7 159.8 259.4 146.6 259.6 143.2 260.6 132.6 261.1 127.6 261.5 125 262.4 119 262.9 116.4 263.3 114.1 264.3 109.9 264.6 108.5 266.4 102.4 268.1 97.6 269.8 93.5 270.5 92.2 271.7 89.9 272.9 87.8 274.2 86 275.4 84.3 276.7 82.9 277.9 81.6 279.1 80.4 280.4 79.5 281.6 78.6 282.8 77.9 284.1 77.4 285.3 77 286.6 76.8 287.8 76.7 289 76.7 290.3 77 291.5 77.4 292.7 77.9 294 78.7 295.2 79.8 296.5 81.1 297.7 82.7 298.9 84.7 300.2 87.1 301.4 90.2 302.7 94.1 303.9 99.2 305.1 106.5 306.7 123.3 307.3 138.2 307.8 168.3 307.9 167.9 308.5 144 309 132.1 309.2 129.1 309.8 119.7 310.2 115.2 310.4 112.9 311 107.6 311.3 105.3 311.6 103.2 312.2 99.5 312.5 98.3 313.6 92.9 314.8 88.6 316 85.1 317.5 81.2 318.7 78.6 320 76.4 321.2 74.6 322.5 73.1 323.7 71.8 324.9 70.8 326.2 70.1 327.4 69.6 328.7 69.3 329.9 69.2 331.1 69.4 332.4 69.9 333.6 70.6 334.8 71.7 336.1 73.1 337.3 75 338.6 77.3 339.8 80.3 341 84.3 342.5 90.9 343 93.9 343.5 97.4 344 101.8 344.1 102.8 344.4 105.9 344.5 107.6 344.7 109.4 344.9 113.8 345 115.7 345.2 119.4 345.5 127.1 345.5 129.6 345.7 139.9 346 182.8 346 202.2 346.3 143 346.5 127.5 348.5 94.8 349.7 85.9 350.9 79.6 352.2 74.6 353.4 70.4 354.7 66.9 355.9 63.8 357.1 61.2 358.4 58.7 359.6 56.6 360.8 54.6 362.1 52.8 363.3 51.2 364.6 49.7 365.8 48.3 367 47.1 368.3 45.9 369.5 44.9 370.8 43.9 372 43.1 373.2 42.3 374.5 41.5 375.7 40.9 376.9 40.3 378.2 39.8 379.4 39.4 380.7 39 381.9 38.7 383.1 38.5 384.4 38.3 385.6 38.2 386.9 38.1 388.1 38.1 389.3 38.2 390.6 38.3 391.8 38.4 393 38.7 394.3 38.9 395.5 39.3 396.8 39.7 398 40.1 399.2 40.6 400.5 41.2 401.7 41.8 402.9 42.5 404.2 43.3 405.4 44.1 406.7 45 407.9 46 409.1 47 410.4 48.1 411.6 49.3 412.9 50.6 414.1 51.9 415.3 53.4 416.6 54.9 417.8 56.5 419 58.2 420.3 60.1 421.5 62 422.8 64.1 424 66.3 425.2 68.7 426.5 71.2 427.7 73.9 428.9 76.9 430.4 80.5 431.4 83.5 432.7 87.3 434.1 92 435.1 96.2 436.4 101.4 437 104.6 439.3 118.3 439.7 121.2 440.7 129.3 441.1 133.6 441.4 138.1 442 147.9 442.2 151.8 442.5 159 442.9 172.4 443 176.2 443.1 189.3 443.3 202.7 443.3 202.8 443.3 175 443.4 172 445 151 446 194.2 446 197.8 446.1 210.4 446.1 210 446.3 183 446.6 166.3 446.7 161.8 447.2 147 447.6 139.5 447.9 135.5 448.7 126 449.3 121.8 449.8 117.9 451.2 110.9 451.7 108.5 452.5 105.5 453.7 101.5 455 97.9 456.2 95.2 457.4 92.7 459.3 89.5 459.9 88.5 461.1 86.8 462.4 85.3 463.6 83.9 464.5 83 466.1 81.7 467.3 80.8 468.6 80 469.8 79.4 471 78.9 472.3 78.4 473.5 78.1 474.8 77.9 476 77.8 477.2 77.9 478.5 78 479.7 78.3 481 78.6 482.2 79.2 483.4 79.8 484.7 80.6 485.9 81.6 487.1 82.8 488.4 84.1 489.6 85.8 490.9 87.7 492.1 89.9 493.3 92.6 494.6 95.9 495.8 100 497 105.4 498.3 112.9 499.5 125.3 500.3 140.1 501 166.4 501.1 163.1 501.8 134 502.4 124.7 502.6 122.4 503.3 115.3 503.8 111.9 504.1 110.2 504.9 106.3 505.3 104.6 505.6 103.1 506.4 100.4 506.7 99.6 508.1 95.8 509.5 93 511 90.7 511.9 89.5 513.1 88.2 514.4 87.1 515.6 86.3 516.9 85.7 518.1 85.3 519.3 85.1 520.6 85.1 521.8 85.2 523.1 85.6 524.3 86.1 525.5 86.8 526.8 87.7 528 88.8 529.2 90.2 530.5 91.9 531.7 93.9 533 96.2 534.2 99.1 535.4 102.7 536.7 107.2 537.6 111.5 538.1 114.5 538.7 118.2 539.2 122.6 539.3 123.7 539.6 126.7 539.8 128.4 539.9 130.3 540.2 134.7 540.3 136.6 540.5 140.3 540.8 148 540.9 150.6 541.1 160.7 541.4 195.1 541.4 199.7 541.6 141 541.9 130.2 544.1 107.6 545.3 102.6 546.6 99.1 547.8 96.5 549.1 94.5 550.3 92.8 551.5 91.5 552.8 90.5 554 89.6 555.2 89 556.5 88.4 557.7 88 559 87.8 560.2 87.6 561.4 87.5 562.7 87.6 563.9 87.7 565.2 87.9 566.4 88.1 567.6 88.5 568.9 89 570.1 89.5 571.3 90.1 572.6 90.8 573.8 91.6 575.1 92.5 576.3 93.5 577.5 94.5 578.8 95.8 580 97.1 581.2 98.6 582.2 99.8 583.7 102.1 585 104.2 586 106.3 587.4 109.4 589.2 114.1 589.9 116.5 591.6 123.4 592 125.5 593 131.6 593.4 135 593.8 138.6 594.4 146.8 594.6 150.3 594.9 156.7 595.3 169.4 595.4 173.3 595.6 187.5 595.7 213.3 595.7 214.1 595.8 205.9 595.8 203.1 597.3 149.5 598.6 149.4 600.1 200.8 600.1 204.6 600.2 219 600.2 219 600.4 209.8 600.7 194.7 600.8 189.9 601.2 173.6 601.6 165.2 601.9 160.7 602.7 150 603.1 145.3 603.7 140.9 604.9 132.9 605.4 130.2 606 127.2 607.2 122.1 608.4 118.1 609.7 114.3 611 111.1 612.3 108.2 613.4 106 614.7 103.9 615.9 102 617.2 100.3 618.4 98.7 619.6 97.4 620.9 96.2 622.1 95.2 623.3 94.2 624.6 93.5 625.8 92.8 627.1 92.3 628.3 91.9 629.5 91.7 630.8 91.6 632 91.6 633.3 91.7 634.5 92 635.7 92.5 637 93.1 638.2 93.9 639.4 94.9 640.7 96.2 641.9 97.7 643.2 99.5 644.4 101.7 645.6 104.4 646.9 107.8 648.1 112.1 649.3 117.9 650.6 126.3 652.4 158.5 652.7 173.6 652.9 205.9 652.9 203.9 653.2 176.1 653.4 166 653.4 163.5 653.7 155.7 653.8 152 653.9 150.1 654.2 145.6 654.3 143.8 654.4 142 654.7 138.9 654.8 137.9 655.2 133.4 655.7 129.7 656.2 126.6 658 117.7 659.3 113.5 660.5 110.2 661.7 107.5 663 105.3 664.2 103.5 665.4 102 666.7 100.7 667.9 99.8 669.2 99 670.4 98.4 671.6 98.1 672.9 97.9 674.1 97.9 675.4 98.1 676.6 98.5 677.8 99.1 679.1 99.9 680.3 100.9 681.5 102.2 682.8 103.8 684 105.7 685.3 108.1 686.5 110.9 687.7 114.4 689 118.9 690.2 125 691.4 133.8 693.3 160.4 693.4 162.2 693.6 162.6 693.6 162.6 693.7 161.5 693.8 159.8 693.9 159.1 694 156.4 694.1 154.6 694.2 153.5 694.3 150.9 694.4 149.6 694.5 148.4 694.6 146.1 694.7 145.3 694.9 141.7 695.2 138.6 695.5 135.8 696.4 128.7 696.4 129.8 695.5 138 695.2 141.2 694.9 145 694.7 149.5 694.6 150.5 694.5 153.3 694.4 154.8 694.3 156.4 694.2 159.6 694.1 160.8 694 162.5 693.9 164.1 693.8 164.2 693.7 163.7 693.6 161.5 693.6 161.2 693.4 158.6 693.3 155.5 691.4 130.7 690.2 122.6 689 117 687.7 112.7 686.5 109.4 685.3 106.6 684 104.4 682.8 102.6 681.5 101.1 680.3 99.9 679.1 98.9 677.8 98.1 676.6 97.6 675.4 97.3 674.1 97.1 672.9 97.2 671.6 97.4 670.4 97.8 669.2 98.4 667.9 99.3 666.7 100.3 665.4 101.7 664.2 103.3 663 105.2 661.7 107.6 660.5 110.4 659.3 114 658 118.5 656.2 128.4 655.7 131.9 655.2 136 654.8 141.1 654.7 142.2 654.4 145.6 654.3 147.4 654.2 149.3 653.9 153.3 653.8 154.8 653.7 156.9 653.4 159 653.4 159.1 653.2 157.7 652.9 152.8 652.9 152.1 652.7 147.4 652.4 142.7 650.6 122.6 649.3 115.5 648.1 110.4 646.9 106.5 645.6 103.5 644.4 101 643.2 98.9 641.9 97.2 640.7 95.8 639.4 94.6 638.2 93.7 637 93 635.7 92.4 634.5 92 633.3 91.8 632 91.7 630.8 91.7 629.5 91.9 628.3 92.2 627.1 92.6 625.8 93.2 624.6 93.9 623.3 94.7 622.1 95.6 620.9 96.7 619.6 98 618.4 99.4 617.2 101 615.9 102.7 614.7 104.7 613.4 107 612.3 109.2 611 112.3 609.7 115.6 608.4 119.6 607.2 123.9 606 129.4 605.4 132.6 604.9 135.6 603.7 144.6 603.1 149.7 602.7 155.3 601.9 168.9 601.6 175.2 601.2 187.6 600.8 207 600.7 207.6 600.4 186.7 600.2 175.3 600.2 174.6 600.1 171.6 600.1 170.9 598.6 148.7 597.3 149.1 595.8 174.6 595.8 175.2 595.7 178 595.7 178.6 595.6 187.8 595.4 197.3 595.3 193.4 594.9 168 594.6 158 594.4 153.2 593.8 142.7 593.4 138.4 593 134.5 592 127.6 591.6 125.3 589.9 117.9 589.2 115.3 587.4 110.4 586 107.2 585 105 583.7 102.8 582.2 100.5 581.2 99.2 580 97.6 578.8 96.2 577.5 95 576.3 93.9 575.1 92.8 573.8 91.9 572.6 91.1 571.3 90.4 570.1 89.7 568.9 89.2 567.6 88.7 566.4 88.3 565.2 88 563.9 87.8 562.7 87.6 561.4 87.6 560.2 87.6 559 87.7 557.7 88 556.5 88.3 555.2 88.8 554 89.4 552.8 90.2 551.5 91.1 550.3 92.3 549.1 93.8 547.8 95.6 546.6 98 545.3 101 544.1 105.3 541.9 120.4 541.6 124.8 541.4 130.2 541.4 131.2 541.1 143 540.9 177.5 540.8 175.5 540.5 158.8 540.3 151.6 540.2 148.1 539.9 141 539.8 138.1 539.6 135.7 539.3 131.4 539.2 130.1 538.7 124.3 538.1 119.9 537.6 116.2 536.7 111.3 535.4 106.3 534.2 102.4 533 99.3 531.7 96.7 530.5 94.6 529.2 92.9 528 91.5 526.8 90.3 525.5 89.4 524.3 88.7 523.1 88.2 521.8 87.9 520.6 87.8 519.3 87.9 518.1 88.2 516.9 88.8 515.6 89.5 514.4 90.5 513.1 91.8 511.9 93.5 511 94.9 509.5 97.8 508.1 101.4 506.7 106.5 506.4 107.7 505.6 111.5 505.3 113.8 504.9 116.4 504.1 123.2 503.8 126.6 503.3 134.1 502.6 163.4 502.4 186.8 501.8 145.4 501.1 128.4 501 127.1 500.3 119.4 499.5 113.2 498.3 106.1 497 101 495.8 97 494.6 93.8 493.3 91.2 492.1 88.9 490.9 87.1 489.6 85.5 488.4 84.1 487.1 83 485.9 82 484.7 81.2 483.4 80.5 482.2 80 481 79.6 479.7 79.3 478.5 79.2 477.2 79.1 476 79.2 474.8 79.4 473.5 79.7 472.3 80 471 80.5 469.8 81.2 468.6 81.9 467.3 82.7 466.1 83.7 464.5 85.1 463.6 86.1 462.4 87.5 461.1 89.1 459.9 90.9 459.3 91.9 457.4 95.3 456.2 97.9 455 100.8 453.7 104.7 452.5 109 451.7 112.2 451.2 114.9 449.8 122.8 449.3 127.4 448.7 132.4 447.9 144.6 447.6 150.3 447.2 162.2 446.7 198.7 446.6 207 446.3 182.8 446.1 171 446.1 170.3 446 167.2 446 166.5 445 149.1 443.4 153.6 443.3 154.1 443.3 155.9 443.3 156.3 443.1 163.9 443 199.3 442.9 195.9 442.5 170.7 442.2 160 442 154.6 441.4 142.5 441.1 137.3 440.7 132.4 439.7 123.4 439.3 120.3 437 105.7 436.4 102.5 435.1 97 434.1 92.7 432.7 87.9 431.4 84 430.4 80.9 428.9 77.2 427.7 74.2 426.5 71.5 425.2 68.9 424 66.5 422.8 64.2 421.5 62.1 420.3 60.2 419 58.3 417.8 56.6 416.6 54.9 415.3 53.4 414.1 52 412.9 50.6 411.6 49.3 410.4 48.2 409.1 47 407.9 46 406.7 45 405.4 44.1 404.2 43.3 402.9 42.6 401.7 41.9 400.5 41.2 399.2 40.6 398 40.1 396.8 39.7 395.5 39.3 394.3 38.9 393 38.7 391.8 38.4 390.6 38.3 389.3 38.2 388.1 38.1 386.9 38.1 385.6 38.2 384.4 38.3 383.1 38.5 381.9 38.7 380.7 39 379.4 39.4 378.2 39.8 376.9 40.3 375.7 40.9 374.5 41.5 373.2 42.2 372 43 370.8 43.9 369.5 44.9 368.3 45.9 367 47 365.8 48.3 364.6 49.6 363.3 51.1 362.1 52.7 360.8 54.4 359.6 56.3 358.4 58.4 357.1 60.8 355.9 63.4 354.7 66.3 353.4 69.6 352.2 73.5 350.9 78.1 349.7 83.9 348.5 91.5 346.5 114 346.3 120.4 346 128.2 346 129.7 345.7 146.9 345.5 202 345.5 171.7 345.2 139.6 345 131.5 344.9 127.8 344.7 120.4 344.5 117.5 344.4 115 344.1 110.8 344 109.4 343.5 103.7 343 99.3 342.5 95.7 341 88.1 339.8 83.7 338.6 80.4 337.3 77.9 336.1 75.9 334.8 74.4 333.6 73.3 332.4 72.6 331.1 72.1 329.9 71.9 328.7 72 327.4 72.4 326.2 73 324.9 73.9 323.7 75 322.5 76.4 321.2 78.2 320 80.2 318.7 82.7 317.5 85.7 316 90.3 314.8 94.6 313.6 99.9 312.5 106.9 312.2 108.6 311.6 113.7 311.3 116.7 311 120.2 310.4 128.9 310.2 133.1 309.8 141.6 309.2 156.1 309 156.6 308.5 140.2 307.9 125 307.8 123.6 307.3 116.2 306.7 110.1 305.1 100.2 303.9 95 302.7 91 301.4 87.9 300.2 85.5 298.9 83.5 297.7 81.9 296.5 80.6 295.2 79.5 294 78.7 292.7 78.2 291.5 77.8 290.3 77.6 289 77.5 287.8 77.6 286.6 77.9 285.3 78.3 284.1 78.9 282.8 79.6 281.6 80.5 280.4 81.5 279.1 82.7 277.9 84 276.7 85.5 275.4 87.3 274.2 89.2 272.9 91.4 271.7 93.8 270.5 96.6 269.8 98.1 268.1 102.9 266.4 109 264.6 116.9 264.3 118.7 263.3 124.5 262.9 127.9 262.4 131.7 261.5 141.3 261.1 145.8 260.6 154.4 259.6 165.2 259.4 165.4 258.7 151.7 257.8 137.1 257.7 135.9 256.8 128.7 255.9 123.1 254.4 116.9 253.1 113.7 251.9 111.6 250.6 110.3 249.4 109.8 248.2 109.9 246.9 110.7 245.7 112.1 244.5 114.2 243.2 117.2 242 121.3 240.7 126.8 239.5 134.8 237.6 157.7 237.4 163 237.2 168.1 237.2 168.8 236.9 173.5 236.7 174.7 236.7 174.1 236.4 164.7 236.3 158.8 236.2 155.7 235.9 149.1 235.8 146.4 235.7 144 235.4 139.9 235.3 138.6 234.9 132.9 234.4 128.5 233.9 124.9 232.1 114.8 230.8 110.2 229.6 106.6 228.4 103.6 227.1 101.2 225.9 99.1 224.6 97.4 223.4 95.9 222.2 94.7 220.9 93.7 219.7 92.8 218.5 92.2 217.2 91.7 216 91.4 214.7 91.2 213.5 91.1 212.3 91.3 211 91.5 209.8 92 208.5 92.6 207.3 93.4 206.1 94.3 204.8 95.5 203.6 97 202.4 98.7 201.1 100.8 199.9 103.3 198.6 106.4 197.4 110.3 196.2 115.4 194.9 122.6 193.7 134.3 193.3 140.3 193 147.7 192.9 149.1 192.5 165.2 192.2 198.4 192.1 188.7 191.7 160.8 191.5 152.7 191.3 149.1 190.9 141.7 190.8 138.8 190.6 136.3 190.2 132.1 190 130.7 189.3 125 188.5 120.6 187.8 117.1 186.3 111.5 185 108.1 183.8 105.5 182.5 103.3 181.3 101.6 180.1 100.3 178.8 99.2 177.6 98.5 176.4 98 175.1 97.7 173.9 97.7 172.6 97.9 171.4 98.3 170.2 99 168.9 99.9 167.7 101.1 166.5 102.6 165.5 104 163.8 107.1 162.7 109.6 162.1 111.3 160.4 116.9 160.1 118.3 159.2 122.6 158.7 125.2 158.3 128.1 157.3 135.8 157 139.6 156.4 148.1 155.5 179.7 155.3 194.7 154.6 152.8 153.7 135.8 153.6 134.4 152.8 126.8 151.9 120.7 150.4 113.4 149.1 109.3 147.9 106 146.6 103.4 145.4 101.3 144.2 99.5 142.9 98.1 141.7 97 140.4 96.2 139.2 95.5 138 95.1 136.7 94.9 135.5 94.9 134.3 95.1 133 95.5 131.8 96.1 130.5 97 129.3 98 128.1 99.3 126.8 100.8 125.6 102.7 124.4 105 123.1 107.7 121.6 111.9 120.5 115.6 119.4 120.2 118.3 126.2 118.1 127.6 117.5 132 117.2 134.6 116.9 137.5 116.4 144.6 116.1 147.9 115.8 154.2 115.2 163.3 115.1 163.7 114.6 159 114.1 149.1 114 148.1 113.5 141.5 112.9 135.8 112 129 110.7 122.5 109.5 117.7 108.3 114 107 111 105.8 108.5 104.5 106.5 103.3 104.8 102.1 103.4 100.8 102.3 99.6 101.4 98.3 100.7 97.1 100.3 95.9 100 94.6 99.9 93.4 100 92.2 100.3 90.9 100.8 89.7 101.6 88.4 102.5 87.2 103.8 86 105.3 84.7 107.2 83.5 109.5 82.3 112.4 81 116 79.8 120.8 78.2 129.6 77.5 135.3 77.3 137.9z" fill="url(#jetg)" stroke="url(#jetg)" stroke-width="0.3"/>
<path d="M77.3 153.2 77.5 159.5 78.2 212.9 79.8 139.1 81 127.9 82.3 121.1 83.5 116.3 84.7 112.7 86 109.9 87.2 107.7 88.4 105.9 89.7 104.6 90.9 103.5 92.2 102.8 93.4 102.3 94.6 102.2 95.9 102.2 97.1 102.5 98.3 103.1 99.6 103.9 100.8 105 102.1 106.4 103.3 108.2 104.5 110.4 105.8 113.2 107 116.6 108.3 121.1 109.5 127.1 110.7 136.1 112 153.1 112.9 213.1 113.5 161.3 114 147.7 114.1 146.3 114.6 137.6 115.1 132.8 115.2 131.4 115.8 126.6 116.1 124.1 116.4 122.7 116.9 119.5 117.2 118 117.5 116.6 118.1 114.2 118.3 113.4 119.4 109.6 120.5 106.6 121.6 104 123.1 101.1 124.4 99.1 125.6 97.5 126.8 96.2 128.1 95.2 129.3 94.4 130.5 93.8 131.8 93.5 133 93.3 134.3 93.4 135.5 93.6 136.7 94.1 138 94.8 139.2 95.8 140.4 97.1 141.7 98.7 142.9 100.7 144.2 103.1 145.4 106.2 146.6 110.1 147.9 115.2 149.1 122.4 150.4 134.1 151.9 215.3 152.8 149.3 153.6 136.1 153.7 134.7 154.6 126.2 155.3 121.5 155.5 120.2 156.4 115.6 157 113.2 157.3 111.9 158.3 108.8 158.7 107.4 159.2 106.2 160.1 103.9 160.4 103.2 162.1 99.9 162.7 98.9 163.8 97.3 165.5 95.3 166.5 94.4 167.7 93.4 168.9 92.6 170.2 92.1 171.4 91.7 172.6 91.5 173.9 91.4 175.1 91.6 176.4 91.9 177.6 92.5 178.8 93.2 180.1 94.2 181.3 95.4 182.5 96.9 183.8 98.7 185 100.9 186.3 103.5 187.8 107.8 188.5 110.3 189.3 113.3 190 116.8 190.2 117.6 190.6 120 190.8 121.3 190.9 122.6 191.3 125.7 191.5 127 191.7 129.3 192.1 133.8 192.2 135.1 192.5 139.6 192.9 147.8 193 149.1 193.3 161.8 193.7 217 194.9 136.1 196.2 122.7 197.4 115 198.6 109.6 199.9 105.5 201.1 102.3 202.4 99.7 203.6 97.6 204.8 95.8 206.1 94.3 207.3 93.1 208.5 92.1 209.8 91.3 211 90.6 212.3 90.2 213.5 89.9 214.7 89.8 216 89.8 217.2 90 218.5 90.4 219.7 90.9 220.9 91.6 222.2 92.4 223.4 93.5 224.6 94.8 225.9 96.3 227.1 98.1 228.4 100.2 229.6 102.8 230.8 105.8 232.1 109.7 233.9 117.6 234.4 120.3 234.9 123.3 235.3 127 235.4 127.8 235.7 130.2 235.8 131.5 235.9 132.9 236.2 136 236.3 137.3 236.4 139.6 236.7 144.2 236.7 145.5 236.9 150 237.2 158.2 237.2 159.5 237.4 172.1 237.6 219.5 239.5 148 240.7 136.7 242 129.6 243.2 124.9 244.5 121.7 245.7 119.7 246.9 118.7 248.2 118.7 249.4 119.7 250.6 122 251.9 125.8 253.1 132.1 254.4 143.2 255.9 220.6 256.8 163.8 257.7 146.4 257.8 144.6 258.7 133.3 259.4 127.1 259.6 125.3 260.6 119.2 261.1 115.9 261.5 114.1 262.4 109.9 262.9 108 263.3 106.2 264.3 103 264.6 101.9 266.4 97 268.1 93 269.8 89.6 270.5 88.5 271.7 86.5 272.9 84.7 274.2 83.1 275.4 81.7 276.7 80.5 277.9 79.4 279.1 78.4 280.4 77.7 281.6 77 282.8 76.5 284.1 76.1 285.3 75.9 286.6 75.8 287.8 75.9 289 76.1 290.3 76.6 291.5 77.2 292.7 78 294 79 295.2 80.3 296.5 81.9 297.7 83.9 298.9 86.3 300.2 89.3 301.4 93.2 302.7 98.2 303.9 105.4 305.1 117 306.7 213 307.3 146.2 307.8 130.7 307.9 129.1 308.5 119.1 309 113.6 309.2 112 309.8 106.5 310.2 103.6 310.4 102.1 311 98.3 311.3 96.6 311.6 95.1 312.2 92.2 312.5 91.2 313.6 86.9 314.8 83.3 316 80.3 317.5 76.9 318.7 74.7 320 72.8 321.2 71.2 322.5 69.8 323.7 68.7 324.9 67.8 326.2 67.2 327.4 66.8 328.7 66.5 329.9 66.5 331.1 66.8 332.4 67.2 333.6 68 334.8 69 336.1 70.3 337.3 72.1 338.6 74.3 339.8 77 341 80.6 342.5 86.4 343 89 343.5 92 344 95.6 344.1 96.4 344.4 98.7 344.5 100 344.7 101.3 344.9 104.4 345 105.7 345.2 108.1 345.5 112.5 345.5 113.8 345.7 118.3 346 126.5 346 127.8 346.3 140.5 346.5 217.3 348.5 99 349.7 88.4 350.9 81.2 352.2 75.7 353.4 71.3 354.7 67.6 355.9 64.4 357.1 61.6 358.4 59.1 359.6 56.8 360.8 54.8 362.1 53 363.3 51.3 364.6 49.8 365.8 48.4 367 47.1 368.3 46 369.5 44.9 370.8 43.9 372 43.1 373.2 42.3 374.5 41.6 375.7 40.9 376.9 40.3 378.2 39.8 379.4 39.4 380.7 39 381.9 38.7 383.1 38.5 384.4 38.3 385.6 38.2 386.9 38.1 388.1 38.1 389.3 38.2 390.6 38.3 391.8 38.4 393 38.7 394.3 38.9 395.5 39.3 396.8 39.7 398 40.1 399.2 40.6 400.5 41.2 401.7 41.8 402.9 42.5 404.2 43.3 405.4 44.1 406.7 45 407.9 46 409.1 47 410.4 48.1 411.6 49.3 412.9 50.6 414.1 51.9 415.3 53.3 416.6 54.9 417.8 56.5 419 58.2 420.3 60 421.5 62 422.8 64.1 424 66.3 425.2 68.6 426.5 71.2 427.7 73.9 428.9 76.8 430.4 80.4 431.4 83.4 432.7 87.2 434.1 91.9 435.1 96 436.4 101.2 437 104.3 439.3 117.9 439.7 120.7 440.7 128.7 441.1 132.9 441.4 137.3 442 146.7 442.2 150.4 442.5 157.2 442.9 169.4 443 172.9 443.1 184.5 443.3 203.7 443.3 206.3 443.3 219.7 443.4 221 445 151.7 446 216.3 446 215.1 446.1 198.8 446.1 195.6 446.3 173 446.6 159.9 446.7 156.1 447.2 143 447.6 136.1 447.9 132.3 448.7 123.2 449.3 119.2 449.8 115.4 451.2 108.6 451.7 106.2 452.5 103.3 453.7 99.3 455 95.8 456.2 93.1 457.4 90.6 459.3 87.5 459.9 86.6 461.1 84.9 462.4 83.4 463.6 82.1 464.5 81.2 466.1 80 467.3 79.1 468.6 78.4 469.8 77.8 471 77.3 472.3 76.9 473.5 76.7 474.8 76.5 476 76.5 477.2 76.6 478.5 76.9 479.7 77.2 481 77.7 482.2 78.4 483.4 79.2 484.7 80.1 485.9 81.3 487.1 82.7 488.4 84.3 489.6 86.3 490.9 88.6 492.1 91.3 493.3 94.7 494.6 99 495.8 104.6 497 112.6 498.3 126.5 499.5 214.8 500.3 134.7 501 123 501.1 121.8 501.8 114.2 502.4 110.1 502.6 108.9 503.3 104.8 503.8 102.7 504.1 101.6 504.9 98.9 505.3 97.7 505.6 96.5 506.4 94.6 506.7 93.9 508.1 91 509.5 88.6 511 86.8 511.9 85.8 513.1 84.7 514.4 83.9 515.6 83.2 516.9 82.8 518.1 82.5 519.3 82.4 520.6 82.4 521.8 82.6 523.1 83 524.3 83.5 525.5 84.2 526.8 85.1 528 86.2 529.2 87.5 530.5 89.1 531.7 91 533 93.2 534.2 95.9 535.4 99.2 536.7 103.2 537.6 107 538.1 109.7 538.7 112.7 539.2 116.4 539.3 117.2 539.6 119.6 539.8 120.9 539.9 122.2 540.2 125.4 540.3 126.7 540.5 129 540.8 133.5 540.9 134.8 541.1 139.4 541.4 147.5 541.4 148.8 541.6 161.5 541.9 216.4 544.1 110.5 545.3 104.4 546.6 100.3 547.8 97.4 549.1 95.1 550.3 93.4 551.5 91.9 552.8 90.8 554 89.9 555.2 89.1 556.5 88.5 557.7 88.1 559 87.8 560.2 87.6 561.4 87.5 562.7 87.5 563.9 87.6 565.2 87.7 566.4 88 567.6 88.4 568.9 88.8 570.1 89.3 571.3 89.9 572.6 90.6 573.8 91.3 575.1 92.2 576.3 93.2 577.5 94.3 578.8 95.5 580 96.8 581.2 98.3 582.2 99.5 583.7 101.8 585 103.9 586 105.9 587.4 109 589.2 113.6 589.9 116 591.6 122.8 592 124.9 593 130.9 593.4 134.1 593.8 137.6 594.4 145.4 594.6 148.7 594.9 154.7 595.3 165.9 595.4 169.1 595.6 180.2 595.7 198.5 595.7 200.9 595.8 212.5 595.8 213.5 597.3 149.6 598.6 149.6 600.1 221.7 600.1 221.7 600.2 219.5 600.2 218.5 600.4 203.2 600.7 189.7 600.8 185.6 601.2 171 601.6 163.2 601.9 158.9 602.7 148.7 603.1 144.1 603.7 139.9 604.9 132.1 605.4 129.4 606 126.4 607.2 121.4 608.4 117.5 609.7 113.7 611 110.6 612.3 107.7 613.4 105.6 614.7 103.4 615.9 101.5 617.2 99.9 618.4 98.4 619.6 97 620.9 95.9 622.1 94.8 623.3 94 624.6 93.2 625.8 92.6 627.1 92.1 628.3 91.7 629.5 91.5 630.8 91.4 632 91.5 633.3 91.7 634.5 92 635.7 92.5 637 93.2 638.2 94.1 639.4 95.1 640.7 96.5 641.9 98.1 643.2 100.1 644.4 102.4 645.6 105.4 646.9 109 648.1 113.8 649.3 120.3 650.6 130.5 652.4 217.1 652.7 179.7 652.9 167 652.9 165.7 653.2 157.4 653.4 152.9 653.4 151.6 653.7 147 653.8 144.6 653.9 143.3 654.2 140.2 654.3 138.8 654.4 137.5 654.7 135.1 654.8 134.2 655.2 130.6 655.7 127.5 656.2 124.8 658 116.8 659.3 113 660.5 110 661.7 107.5 663 105.4 664.2 103.7 665.4 102.3 666.7 101.2 667.9 100.3 669.2 99.6 670.4 99.1 671.6 98.8 672.9 98.6 674.1 98.7 675.4 99 676.6 99.4 677.8 100.1 679.1 100.9 680.3 102 681.5 103.4 682.8 105 684 107 685.3 109.5 686.5 112.5 687.7 116.2 689 121 690.2 127.7 691.4 137.9 693.3 217.8 693.4 186.4 693.6 174.6 693.6 173.4 693.7 165.6 693.8 161.3 693.9 160.1 694 155.8 694.1 153.5 694.2 152.3 694.3 149.3 694.4 148 694.5 146.8 694.6 144.5 694.7 143.7 694.9 140.2 695.2 137.3 695.5 134.7 696.4 128 696.4 128.7 695.5 135.8 695.2 138.6 694.9 141.7 694.7 145.3 694.6 146.1 694.5 148.4 694.4 149.6 694.3 150.9 694.2 153.5 694.1 154.6 694 156.4 693.9 159.1 693.8 159.8 693.7 161.5 693.6 162.6 693.6 162.6 693.4 162.2 693.3 160.4 691.4 133.8 690.2 125 689 118.9 687.7 114.4 686.5 110.9 685.3 108.1 684 105.7 682.8 103.8 681.5 102.2 680.3 100.9 679.1 99.9 677.8 99.1 676.6 98.5 675.4 98.1 674.1 97.9 672.9 97.9 671.6 98.1 670.4 98.4 669.2 99 667.9 99.8 666.7 100.7 665.4 102 664.2 103.5 663 105.3 661.7 107.5 660.5 110.2 659.3 113.5 658 117.7 656.2 126.6 655.7 129.7 655.2 133.4 654.8 137.9 654.7 138.9 654.4 142 654.3 143.8 654.2 145.6 653.9 150.1 653.8 152 653.7 155.7 653.4 163.5 653.4 166 653.2 176.1 652.9 203.9 652.9 205.9 652.7 173.6 652.4 158.5 650.6 126.3 649.3 117.9 648.1 112.1 646.9 107.8 645.6 104.4 644.4 101.7 643.2 99.5 641.9 97.7 640.7 96.2 639.4 94.9 638.2 93.9 637 93.1 635.7 92.5 634.5 92 633.3 91.7 632 91.6 630.8 91.6 629.5 91.7 628.3 91.9 627.1 92.3 625.8 92.8 624.6 93.5 623.3 94.2 622.1 95.2 620.9 96.2 619.6 97.4 618.4 98.7 617.2 100.3 615.9 102 614.7 103.9 613.4 106 612.3 108.2 611 111.1 609.7 114.3 608.4 118.1 607.2 122.1 606 127.2 605.4 130.2 604.9 132.9 603.7 140.9 603.1 145.3 602.7 150 601.9 160.7 601.6 165.2 601.2 173.6 600.8 189.9 600.7 194.7 600.4 209.8 600.2 219 600.2 219 600.1 204.6 600.1 200.8 598.6 149.4 597.3 149.5 595.8 203.1 595.8 205.9 595.7 214.1 595.7 213.3 595.6 187.5 595.4 173.3 595.3 169.4 594.9 156.7 594.6 150.3 594.4 146.8 593.8 138.6 593.4 135 593 131.6 592 125.5 591.6 123.4 589.9 116.5 589.2 114.1 587.4 109.4 586 106.3 585 104.2 583.7 102.1 582.2 99.8 581.2 98.6 580 97.1 578.8 95.8 577.5 94.5 576.3 93.5 575.1 92.5 573.8 91.6 572.6 90.8 571.3 90.1 570.1 89.5 568.9 89 567.6 88.5 566.4 88.1 565.2 87.9 563.9 87.7 562.7 87.6 561.4 87.5 560.2 87.6 559 87.8 557.7 88 556.5 88.4 555.2 89 554 89.6 552.8 90.5 551.5 91.5 550.3 92.8 549.1 94.5 547.8 96.5 546.6 99.1 545.3 102.6 544.1 107.6 541.9 130.2 541.6 141 541.4 199.7 541.4 195.1 541.1 160.7 540.9 150.6 540.8 148 540.5 140.3 540.3 136.6 540.2 134.7 539.9 130.3 539.8 128.4 539.6 126.7 539.3 123.7 539.2 122.6 538.7 118.2 538.1 114.5 537.6 111.5 536.7 107.2 535.4 102.7 534.2 99.1 533 96.2 531.7 93.9 530.5 91.9 529.2 90.2 528 88.8 526.8 87.7 525.5 86.8 524.3 86.1 523.1 85.6 521.8 85.2 520.6 85.1 519.3 85.1 518.1 85.3 516.9 85.7 515.6 86.3 514.4 87.1 513.1 88.2 511.9 89.5 511 90.7 509.5 93 508.1 95.8 506.7 99.6 506.4 100.4 505.6 103.1 505.3 104.6 504.9 106.3 504.1 110.2 503.8 111.9 503.3 115.3 502.6 122.4 502.4 124.7 501.8 134 501.1 163.1 501 166.4 500.3 140.1 499.5 125.3 498.3 112.9 497 105.4 495.8 100 494.6 95.9 493.3 92.6 492.1 89.9 490.9 87.7 489.6 85.8 488.4 84.1 487.1 82.8 485.9 81.6 484.7 80.6 483.4 79.8 482.2 79.2 481 78.6 479.7 78.3 478.5 78 477.2 77.9 476 77.8 474.8 77.9 473.5 78.1 472.3 78.4 471 78.9 469.8 79.4 468.6 80 467.3 80.8 466.1 81.7 464.5 83 463.6 83.9 462.4 85.3 461.1 86.8 459.9 88.5 459.3 89.5 457.4 92.7 456.2 95.2 455 97.9 453.7 101.5 452.5 105.5 451.7 108.5 451.2 110.9 449.8 117.9 449.3 121.8 448.7 126 447.9 135.5 447.6 139.5 447.2 147 446.7 161.8 446.6 166.3 446.3 183 446.1 210 446.1 210.4 446 197.8 446 194.2 445 151 443.4 172 443.3 175 443.3 202.8 443.3 202.7 443.1 189.3 443 176.2 442.9 172.4 442.5 159 442.2 151.8 442 147.9 441.4 138.1 441.1 133.6 440.7 129.3 439.7 121.2 439.3 118.3 437 104.6 436.4 101.4 435.1 96.2 434.1 92 432.7 87.3 431.4 83.5 430.4 80.5 428.9 76.9 427.7 73.9 426.5 71.2 425.2 68.7 424 66.3 422.8 64.1 421.5 62 420.3 60.1 419 58.2 417.8 56.5 416.6 54.9 415.3 53.4 414.1 51.9 412.9 50.6 411.6 49.3 410.4 48.1 409.1 47 407.9 46 406.7 45 405.4 44.1 404.2 43.3 402.9 42.5 401.7 41.8 400.5 41.2 399.2 40.6 398 40.1 396.8 39.7 395.5 39.3 394.3 38.9 393 38.7 391.8 38.4 390.6 38.3 389.3 38.2 388.1 38.1 386.9 38.1 385.6 38.2 384.4 38.3 383.1 38.5 381.9 38.7 380.7 39 379.4 39.4 378.2 39.8 376.9 40.3 375.7 40.9 374.5 41.5 373.2 42.3 372 43.1 370.8 43.9 369.5 44.9 368.3 45.9 367 47.1 365.8 48.3 364.6 49.7 363.3 51.2 362.1 52.8 360.8 54.6 359.6 56.6 358.4 58.7 357.1 61.2 355.9 63.8 354.7 66.9 353.4 70.4 352.2 74.6 350.9 79.6 349.7 85.9 348.5 94.8 346.5 127.5 346.3 143 346 202.2 346 182.8 345.7 139.9 345.5 129.6 345.5 127.1 345.2 119.4 345 115.7 344.9 113.8 344.7 109.4 344.5 107.6 344.4 105.9 344.1 102.8 344 101.8 343.5 97.4 343 93.9 342.5 90.9 341 84.3 339.8 80.3 338.6 77.3 337.3 75 336.1 73.1 334.8 71.7 333.6 70.6 332.4 69.9 331.1 69.4 329.9 69.2 328.7 69.3 327.4 69.6 326.2 70.1 324.9 70.8 323.7 71.8 322.5 73.1 321.2 74.6 320 76.4 318.7 78.6 317.5 81.2 316 85.1 314.8 88.6 313.6 92.9 312.5 98.3 312.2 99.5 311.6 103.2 311.3 105.3 311 107.6 310.4 112.9 310.2 115.2 309.8 119.7 309.2 129.1 309 132.1 308.5 144 307.9 167.9 307.8 168.3 307.3 138.2 306.7 123.3 305.1 106.5 303.9 99.2 302.7 94.1 301.4 90.2 300.2 87.1 298.9 84.7 297.7 82.7 296.5 81.1 295.2 79.8 294 78.7 292.7 77.9 291.5 77.4 290.3 77 289 76.7 287.8 76.7 286.6 76.8 285.3 77 284.1 77.4 282.8 77.9 281.6 78.6 280.4 79.5 279.1 80.4 277.9 81.6 276.7 82.9 275.4 84.3 274.2 86 272.9 87.8 271.7 89.9 270.5 92.2 269.8 93.5 268.1 97.6 266.4 102.4 264.6 108.5 264.3 109.9 263.3 114.1 262.9 116.4 262.4 119 261.5 125 261.1 127.6 260.6 132.6 259.6 143.2 259.4 146.6 258.7 159.8 257.8 181.7 257.7 181.9 256.8 153 255.9 138.4 254.4 126.5 253.1 121.1 251.9 117.6 250.6 115.4 249.4 114.3 248.2 113.9 246.9 114.4 245.7 115.7 244.5 117.8 243.2 120.9 242 125.2 240.7 131.4 239.5 140.7 237.6 172.5 237.4 179.5 237.2 182 237.2 181.6 236.9 167.7 236.7 159.1 236.7 156.8 236.4 149.5 236.3 146 236.2 144.1 235.9 139.8 235.8 137.9 235.7 136.2 235.4 133.2 235.3 132.2 234.9 127.7 234.4 124.1 233.9 121 232.1 112.1 230.8 108 229.6 104.6 228.4 101.9 227.1 99.6 225.9 97.7 224.6 96 223.4 94.7 222.2 93.5 220.9 92.6 219.7 91.8 218.5 91.3 217.2 90.8 216 90.6 214.7 90.5 213.5 90.5 212.3 90.7 211 91.1 209.8 91.6 208.5 92.3 207.3 93.2 206.1 94.3 204.8 95.6 203.6 97.2 202.4 99.1 201.1 101.5 199.9 104.3 198.6 107.8 197.4 112.3 196.2 118.4 194.9 127.6 193.7 145.2 193.3 155.7 193 163.5 192.9 163.4 192.5 155.5 192.2 148.6 192.1 146.5 191.7 139.8 191.5 136.4 191.3 134.6 190.9 130.4 190.8 128.6 190.6 127 190.2 124 190 123 189.3 118.7 188.5 115.2 187.8 112.3 186.3 107.4 185 104.4 183.8 102 182.5 100.1 181.3 98.5 180.1 97.2 178.8 96.2 177.6 95.5 176.4 94.9 175.1 94.6 173.9 94.5 172.6 94.6 171.4 95 170.2 95.5 168.9 96.2 167.7 97.2 166.5 98.4 165.5 99.5 163.8 102 162.7 103.9 162.1 105.2 160.4 109.4 160.1 110.4 159.2 113.4 158.7 115.1 158.3 117 157.3 121.4 157 123.4 156.4 127.2 155.5 135.2 155.3 137.9 154.6 148.6 153.7 188.5 153.6 195.9 152.8 148.6 151.9 133.3 150.4 120.5 149.1 114.2 147.9 109.6 146.6 106.1 145.4 103.2 144.2 100.9 142.9 99.1 141.7 97.6 140.4 96.4 139.2 95.5 138 94.8 136.7 94.4 135.5 94.1 134.3 94.1 133 94.3 131.8 94.7 130.5 95.3 129.3 96.1 128.1 97.1 126.8 98.4 125.6 100 124.4 101.9 123.1 104.2 121.6 107.7 120.5 110.8 119.4 114.5 118.3 119.1 118.1 120.2 117.5 123.4 117.2 125.2 116.9 127.2 116.4 131.8 116.1 133.8 115.8 137.7 115.2 145.7 115.1 148.3 114.6 158.3 114.1 176.8 114 177.3 113.5 163 112.9 149.6 112 137.6 110.7 128.2 109.5 121.9 108.3 117.2 107 113.6 105.8 110.7 104.5 108.4 103.3 106.5 102.1 104.9 100.8 103.6 99.6 102.6 98.3 101.9 97.1 101.4 95.9 101.1 94.6 101 93.4 101.2 92.2 101.6 90.9 102.2 89.7 103 88.4 104.2 87.2 105.6 86 107.4 84.7 109.7 83.5 112.6 82.3 116.2 81 121 79.8 127.8 78.2 142.9 77.5 157.5 77.3 167.6z" fill="url(#jetg)" stroke="url(#jetg)" stroke-width="0.3"/><g clip-path="url(#c3)"><path d="M439.3 143.1 439.7 151.4 440.7 207.2 441.1 149.7 441.1 128.9 440.7 133.1 439.7 208.9 439.3 169.3zM442 134.9 442.2 133.6 442.2 122.8 442 123.4zM448.7 157 449.3 169.8 449.3 141.5 448.7 136.8z" fill="#0000df" stroke="#0000df" stroke-width="0.3"/>
<path d="M441.1 149.7 441.4 141.6 442 134.9 442 123.4 441.4 126.3 441.1 128.9zM445 130.7 446 133.4 446 133.5 446.1 133.8 446.1 123.7 446 123.5 446 123.5 445 121.6zM446.1 133.9 446.3 134.8 446.6 136 446.6 125.2 446.3 124.4 446.1 123.8zM593.8 176.4 594.4 165.3 594.6 162.8 594.6 151.8 594.4 153.2 593.8 158.9zM595.7 154.1 595.8 153.7 595.8 145.9 595.7 146.2zM598.6 147.6 600.1 150.5 600.1 143.1 598.6 141.4zM600.2 150.9 600.2 150.9 600.4 151.7 600.4 143.9 600.2 143.4 600.2 143.4zM603.1 184.9 603.7 216.4 604.9 167.9 604.9 203.1 603.7 166.1 603.1 159.2z" fill="#0000af" stroke="#0000af" stroke-width="0.3"/>
<path d="M442.2 133.6 442.5 132.2 442.5 122 442.2 122.8zM446.1 133.8 446.1 133.9 446.1 123.8 446.1 123.7z" fill="#0000cf" stroke="#0000cf" stroke-width="0.3"/>
<path d="M442.5 132.2 442.9 130.9 442.9 121.4 442.5 122zM595.4 156.2 595.6 155.1 595.7 154.1 595.7 146.2 595.6 146.8 595.4 147.6zM595.8 153.7 595.8 153.6 597.3 148.4 597.3 142.1 595.8 145.9 595.8 145.9zM600.1 150.5 600.1 150.6 600.2 150.9 600.2 143.4 600.1 143.2 600.1 143.1zM600.8 153.2 601.2 156 601.6 158.8 601.6 148.1 601.2 146.4 600.8 144.8z" fill="#00009f" stroke="#00009f" stroke-width="0.3"/>
<path d="M446.6 136 446.7 136.5 447.2 139.6 447.2 127.5 446.7 125.5 446.6 125.2zM449.3 169.8 449.8 206.9 449.8 148.8 449.3 141.5zM592 152.6 593 205.2 593.4 187.9 593.4 163.5 593 170.4 592 203.5zM600.4 151.7 600.7 152.8 600.7 144.5 600.4 143.9zM601.9 161.2 602.7 172.4 603.1 184.9 603.1 159.2 602.7 154.8 601.9 149.4z" fill="#0000ef" stroke="#0000ef" stroke-width="0.3"/>
<path d="M447.2 139.6 447.6 142.7 447.6 129.4 447.2 127.5zM591.6 145.5 592 152.6 592 203.5 591.6 169.6zM593.4 187.9 593.8 176.4 593.8 158.9 593.4 163.5zM601.6 158.8 601.9 161.2 601.9 149.4 601.6 148.1z" fill="#0000ff" stroke="#0000ff" stroke-width="0.3"/>
<path d="M447.6 142.7 447.9 145.2 448.7 157 448.7 136.8 447.9 130.8 447.6 129.4zM595.3 156.8 595.4 156.2 595.4 147.6 595.3 148zM595.7 154.1 595.7 154.1 595.7 146.2 595.7 146.2zM600.7 152.8 600.8 153.2 600.8 144.8 600.7 144.5z" fill="#0000bf" stroke="#0000bf" stroke-width="0.3"/>
<path d="M594.6 162.8 594.9 159.8 595.3 156.8 595.3 148 594.9 149.9 594.6 151.8z" fill="#00008f" stroke="#00008f" stroke-width="0.3"/>
<path d="M597.3 148.4 598.6 147.6 598.6 141.4 597.3 142.1z" fill="#20ffdf" stroke="#20ffdf" stroke-width="0.3"/>
<path d="M439.3 132.8 439.7 138 440.7 156.6 441.1 172.8 441.1 149.7 440.7 207.2 439.7 151.4 439.3 143.1zM442 150.6 442.2 147.4 442.2 133.6 442 134.9zM443.1 140.4 443.3 139.8 443.3 139.8 443.3 130 443.3 130.1 443.1 130.3zM448.7 207.1 449.3 168.3 449.3 169.8 448.7 157z" fill="#0000df" stroke="#0000df" stroke-width="0.3"/>
<path d="M441.1 172.8 441.4 216.5 442 150.6 442 134.9 441.4 141.6 441.1 149.7zM445 140.2 446 144.2 446 144.3 446.1 144.8 446.1 133.8 446 133.5 446 133.4 445 130.7zM446.1 144.9 446.3 146.4 446.6 148.3 446.6 136 446.3 134.8 446.1 133.9zM593.8 201.9 594.4 176.7 594.6 171.6 594.6 162.8 594.4 165.3 593.8 176.4zM595.7 156.6 595.8 156.1 595.8 153.7 595.7 154.1zM598.6 147.7 600.1 152.5 600.1 150.5 598.6 147.6zM600.2 153.1 600.2 153.2 600.4 154.5 600.4 151.7 600.2 150.9 600.2 150.9zM603.1 190.6 603.7 172.9 604.9 152.2 604.9 167.9 603.7 216.4 603.1 184.9z" fill="#0000af" stroke="#0000af" stroke-width="0.3"/>
<path d="M442.2 147.4 442.5 144.1 442.5 132.2 442.2 133.6zM446.1 144.8 446.1 144.9 446.1 133.9 446.1 133.8z" fill="#0000cf" stroke="#0000cf" stroke-width="0.3"/>
<path d="M442.5 144.1 442.9 141.6 443 141.2 443 130.7 442.9 130.9 442.5 132.2zM443.3 139.8 443.3 139.6 443.4 139.6 443.4 129.9 443.3 130 443.3 130zM595.4 160 595.6 158.1 595.7 156.7 595.7 154.1 595.6 155.1 595.4 156.2zM595.8 156.1 595.8 156 597.3 148.5 597.3 148.4 595.8 153.6 595.8 153.7zM600.1 152.5 600.1 152.6 600.2 153.1 600.2 150.9 600.1 150.6 600.1 150.5zM600.8 157 601.2 162 601.6 167.5 601.6 158.8 601.2 156 600.8 153.2z" fill="#00009f" stroke="#00009f" stroke-width="0.3"/>
<path d="M443 141.2 443.1 140.4 443.1 130.3 443 130.7zM446.6 148.3 446.7 149.1 447.2 154.4 447.2 139.6 446.7 136.5 446.6 136zM449.3 168.3 449.8 151 449.8 206.9 449.3 169.8zM592 140.5 593 156.5 593.4 171.2 593.4 187.9 593 205.2 592 152.6zM600.4 154.5 600.7 156.2 600.7 152.8 600.4 151.7zM601.9 172.7 602.7 206.1 603.1 190.6 603.1 184.9 602.7 172.4 601.9 161.2z" fill="#0000ef" stroke="#0000ef" stroke-width="0.3"/>
<path d="M443.4 139.6 445 140.2 445 130.7 443.4 129.9zM447.2 154.4 447.6 160.3 447.6 142.7 447.2 139.6zM591.6 136.4 592 140.5 592 152.6 591.6 145.5zM593.4 171.2 593.8 201.9 593.8 176.4 593.4 187.9zM601.6 167.5 601.9 172.7 601.9 161.2 601.6 158.8z" fill="#0000ff" stroke="#0000ff" stroke-width="0.3"/>
<path d="M447.6 160.3 447.9 165.8 448.7 207.1 448.7 157 447.9 145.2 447.6 142.7zM595.3 160.9 595.4 160 595.4 156.2 595.3 156.8zM595.7 156.7 595.7 156.6 595.7 154.1 595.7 154.1zM600.7 156.2 600.8 157 600.8 153.2 600.7 152.8z" fill="#0000bf" stroke="#0000bf" stroke-width="0.3"/>
<path d="M594.6 171.6 594.9 166 595.3 160.9 595.3 156.8 594.9 159.8 594.6 162.8z" fill="#00008f" stroke="#00008f" stroke-width="0.3"/>
<path d="M597.3 148.5 598.6 147.7 598.6 147.6 597.3 148.4z" fill="#20ffdf" stroke="#20ffdf" stroke-width="0.3"/>
<path d="M439.3 126.9 439.7 131 440.7 143.7 441.1 151.7 441.1 172.8 440.7 156.6 439.7 138 439.3 132.8zM442 207 442.2 168.7 442.2 147.4 442 150.6zM443.1 148.6 443.3 147.6 443.3 147.5 443.3 139.8 443.3 139.8 443.1 140.4zM448.7 155.4 449.3 144.5 449.3 168.3 448.7 207.1z" fill="#0000df" stroke="#0000df" stroke-width="0.3"/>
<path d="M441.1 151.7 441.4 162.1 442 207 442 150.6 441.4 216.5 441.1 172.8zM445 147.2 446 153.3 446 153.5 446.1 154.3 446.1 144.8 446 144.3 446 144.2 445 140.2zM446.1 154.5 446.3 156.9 446.6 160.2 446.6 148.3 446.3 146.4 446.1 144.9zM593.8 161 594.4 216 594.6 195.5 594.6 171.6 594.4 176.7 593.8 201.9zM595.7 160.6 595.8 159.8 595.8 156.1 595.7 156.6zM598.6 147.9 600.1 155.7 600.1 152.5 598.6 147.7zM600.2 156.6 600.2 156.8 600.4 159 600.4 154.5 600.2 153.2 600.2 153.1zM603.1 166.6 603.7 157.7 604.9 144.2 604.9 152.2 603.7 172.9 603.1 190.6z" fill="#0000af" stroke="#0000af" stroke-width="0.3"/>
<path d="M442.2 168.7 442.5 157.3 442.5 144.1 442.2 147.4zM446.1 154.3 446.1 154.5 446.1 144.9 446.1 144.8z" fill="#0000cf" stroke="#0000cf" stroke-width="0.3"/>
<path d="M442.5 157.3 442.9 151.1 443 150.2 443 141.2 442.9 141.6 442.5 144.1zM443.3 147.5 443.3 147.1 443.4 147.1 443.4 139.6 443.3 139.6 443.3 139.8zM595.4 166.4 595.6 163.1 595.7 160.8 595.7 156.7 595.6 158.1 595.4 160zM595.8 159.8 595.8 159.6 597.3 148.7 597.3 148.5 595.8 156 595.8 156.1zM600.1 155.7 600.1 155.9 600.2 156.6 600.2 153.1 600.1 152.6 600.1 152.5zM600.8 163.6 601.2 174 601.6 189.3 601.6 167.5 601.2 162 600.8 157z" fill="#00009f" stroke="#00009f" stroke-width="0.3"/>
<path d="M443 150.2 443.1 148.6 443.1 140.4 443 141.2zM446.6 160.2 446.7 161.8 447.2 172.7 447.2 154.4 446.7 149.1 446.6 148.3zM449.3 144.5 449.8 136.4 449.8 151 449.3 168.3zM592 134.3 593 144.7 593.4 151.7 593.4 171.2 593 156.5 592 140.5zM600.4 159 600.7 162.1 600.7 156.2 600.4 154.5zM601.9 201.9 602.7 178.2 603.1 166.6 603.1 190.6 602.7 206.1 601.9 172.7z" fill="#0000ef" stroke="#0000ef" stroke-width="0.3"/>
<path d="M443.4 147.1 445 147.2 445 140.2 443.4 139.6zM447.2 172.7 447.6 190.1 447.6 160.3 447.2 154.4zM591.6 131.2 592 134.3 592 140.5 591.6 136.4zM593.4 151.7 593.8 161 593.8 201.9 593.4 171.2zM601.6 189.3 601.9 201.9 601.9 172.7 601.6 167.5z" fill="#0000ff" stroke="#0000ff" stroke-width="0.3"/>
<path d="M447.6 190.1 447.9 213.8 448.7 155.4 448.7 207.1 447.9 165.8 447.6 160.3zM595.3 168 595.4 166.4 595.4 160 595.3 160.9zM595.7 160.8 595.7 160.6 595.7 156.6 595.7 156.7zM600.7 162.1 600.8 163.6 600.8 157 600.7 156.2z" fill="#0000bf" stroke="#0000bf" stroke-width="0.3"/>
<path d="M594.6 195.5 594.9 178.7 595.3 168 595.3 160.9 594.9 166 594.6 171.6z" fill="#00008f" stroke="#00008f" stroke-width="0.3"/>
<path d="M597.3 148.7 598.6 147.9 598.6 147.7 597.3 148.5z" fill="#20ffdf" stroke="#20ffdf" stroke-width="0.3"/>
<path d="M439.7 126.7 440.7 137 441.1 143 441.1 151.7 440.7 143.7 439.7 131zM442 168.1 442.2 179 442.2 168.7 442 207zM443.1 152.2 443.3 149.9 443.3 149.8 443.3 147.5 443.3 147.6 443.1 148.6zM448.7 141.1 449.3 134.4 449.3 144.5 448.7 155.4z" fill="#0000df" stroke="#0000df" stroke-width="0.3"/>
<path d="M441.1 143 441.4 149.8 442 168.1 442 207 441.4 162.1 441.1 151.7zM445 147.9 446 157.5 446 157.8 446.1 159.2 446.1 154.3 446 153.5 446 153.3 445 147.2zM446.1 159.5 446.3 163.7 446.6 170.3 446.6 160.2 446.3 156.9 446.1 154.5zM593.8 149.4 594.4 166.1 594.6 176.7 594.6 195.5 594.4 216 593.8 161zM595.7 166.7 595.8 165.3 595.8 159.8 595.7 160.6zM598.6 148.2 600.1 160.8 600.1 155.7 598.6 147.9zM600.2 162.5 600.2 162.8 600.4 166.9 600.4 159 600.2 156.8 600.2 156.6zM603.1 156.5 603.7 150 604.9 139.4 604.9 144.2 603.7 157.7 603.1 166.6z" fill="#0000af" stroke="#0000af" stroke-width="0.3"/>
<path d="M442.2 179 442.5 210.5 442.5 157.3 442.2 168.7zM446.1 159.2 446.1 159.5 446.1 154.5 446.1 154.3z" fill="#0000cf" stroke="#0000cf" stroke-width="0.3"/>
<path d="M442.5 210.5 442.9 158.2 443 156 443 150.2 442.9 151.1 442.5 157.3zM443.3 149.8 443.3 149.1 443.4 148.9 443.4 147.1 443.3 147.1 443.3 147.5zM595.4 177.9 595.6 171.2 595.7 167 595.7 160.8 595.6 163.1 595.4 166.4zM595.8 165.3 595.8 165 597.3 148.9 597.3 148.7 595.8 159.6 595.8 159.8zM600.1 160.8 600.1 161.1 600.2 162.5 600.2 156.6 600.1 155.9 600.1 155.7zM600.8 177 601.2 218.7 601.6 198.4 601.6 189.3 601.2 174 600.8 163.6z" fill="#00009f" stroke="#00009f" stroke-width="0.3"/>
<path d="M443 156 443.1 152.2 443.1 148.6 443 150.2zM446.6 170.3 446.7 173.8 447.2 202.7 447.2 172.7 446.7 161.8 446.6 160.2zM449.3 134.4 449.8 128.7 449.8 136.4 449.3 144.5zM592 130.6 593 138.7 593.4 143.6 593.4 151.7 593 144.7 592 134.3zM600.4 166.9 600.7 173.5 600.7 162.1 600.4 159zM601.9 185.6 602.7 164 603.1 156.5 603.1 166.6 602.7 178.2 601.9 201.9z" fill="#0000ef" stroke="#0000ef" stroke-width="0.3"/>
<path d="M443.4 148.9 445 147.9 445 147.2 443.4 147.1zM447.2 202.7 447.6 172.4 447.6 190.1 447.2 172.7zM591.6 127.9 592 130.6 592 134.3 591.6 131.2zM593.4 143.6 593.8 149.4 593.8 161 593.4 151.7zM601.6 198.4 601.9 185.6 601.9 201.9 601.6 189.3z" fill="#0000ff" stroke="#0000ff" stroke-width="0.3"/>
<path d="M447.6 172.4 447.9 160.4 448.7 141.1 448.7 155.4 447.9 213.8 447.6 190.1zM595.3 181.5 595.4 177.9 595.4 166.4 595.3 168zM595.7 167 595.7 166.7 595.7 160.6 595.7 160.8zM600.7 173.5 600.8 177 600.8 163.6 600.7 162.1z" fill="#0000bf" stroke="#0000bf" stroke-width="0.3"/>
<path d="M594.6 176.7 594.9 222 595.3 181.5 595.3 168 594.9 178.7 594.6 195.5z" fill="#00008f" stroke="#00008f" stroke-width="0.3"/>
<path d="M597.3 148.9 598.6 148.2 598.6 147.9 597.3 148.7z" fill="#20ffdf" stroke="#20ffdf" stroke-width="0.3"/>
<path d="M439.7 123.9 440.7 133.1 441.1 138.2 441.1 143 440.7 137 439.7 126.7zM442 156.4 442.2 162.4 442.2 179 442 168.1zM443.1 160.4 443.3 154.6 443.3 154.3 443.3 149.8 443.3 149.9 443.1 152.2zM448.7 133.7 449.3 128.5 449.3 134.4 448.7 141.1z" fill="#0000df" stroke="#0000df" stroke-width="0.3"/>
<path d="M441.1 138.2 441.4 143.6 442 156.4 442 168.1 441.4 149.8 441.1 143zM445 148.8 446 164.3 446 164.9 446.1 167.5 446.1 159.2 446 157.8 446 157.5 445 147.9zM446.1 168.1 446.3 177.3 446.6 197.6 446.6 170.3 446.3 163.7 446.1 159.5zM593.8 143.7 594.4 154.9 594.6 160.3 594.6 176.7 594.4 166.1 593.8 149.4zM595.7 176 595.8 173.5 595.8 165.3 595.7 166.7zM598.6 148.6 600.1 168.6 600.1 160.8 598.6 148.2zM600.2 171.7 600.2 172.3 600.4 181.5 600.4 166.9 600.2 162.8 600.2 162.5zM603.1 150.7 603.7 145.4 604.9 136.2 604.9 139.4 603.7 150 603.1 156.5z" fill="#0000af" stroke="#0000af" stroke-width="0.3"/>
<path d="M442.2 162.4 442.5 175 442.5 210.5 442.2 179zM446.1 167.5 446.1 168.1 446.1 159.5 446.1 159.2z" fill="#0000cf" stroke="#0000cf" stroke-width="0.3"/>
<path d="M442.5 175 442.9 218.8 443 176.5 443 156 442.9 158.2 442.5 210.5zM443.3 154.3 443.3 152.8 443.4 152.5 443.4 148.9 443.3 149.1 443.3 149.8zM595.4 206.2 595.6 185.8 595.7 176.6 595.7 167 595.6 171.2 595.4 177.9zM595.8 173.5 595.8 172.9 597.3 149.1 597.3 148.9 595.8 165 595.8 165.3zM600.1 168.6 600.1 169.2 600.2 171.7 600.2 162.5 600.1 161.1 600.1 160.8zM600.8 214.5 601.2 192.8 601.6 178.1 601.6 198.4 601.2 218.7 600.8 177z" fill="#00009f" stroke="#00009f" stroke-width="0.3"/>
<path d="M443 176.5 443.1 160.4 443.1 152.2 443 156zM446.6 197.6 446.7 206.2 447.2 166.6 447.2 202.7 446.7 173.8 446.6 170.3zM449.3 128.5 449.8 123.8 449.8 128.7 449.3 134.4zM592 128.1 593 135.2 593.4 139.2 593.4 143.6 593 138.7 592 130.6zM600.4 181.5 600.7 202.9 600.7 173.5 600.4 166.9zM601.9 171.2 602.7 156.6 603.1 150.7 603.1 156.5 602.7 164 601.9 185.6z" fill="#0000ef" stroke="#0000ef" stroke-width="0.3"/>
<path d="M443.4 152.5 445 148.8 445 147.9 443.4 148.9zM447.2 166.6 447.6 152.9 447.6 172.4 447.2 202.7zM593.4 139.2 593.8 143.7 593.8 149.4 593.4 143.6zM601.6 178.1 601.9 171.2 601.9 185.6 601.6 198.4z" fill="#0000ff" stroke="#0000ff" stroke-width="0.3"/>
<path d="M447.6 152.9 447.9 146.7 448.7 133.7 448.7 141.1 447.9 160.4 447.6 172.4zM595.3 215.5 595.4 206.2 595.4 177.9 595.3 181.5zM595.7 176.6 595.7 176 595.7 166.7 595.7 167zM600.7 202.9 600.8 214.5 600.8 177 600.7 173.5z" fill="#0000bf" stroke="#0000bf" stroke-width="0.3"/>
<path d="M594.6 160.3 594.9 172.1 595.3 215.5 595.3 181.5 594.9 222 594.6 176.7z" fill="#00008f" stroke="#00008f" stroke-width="0.3"/>
<path d="M597.3 149.1 598.6 148.6 598.6 148.2 597.3 148.9z" fill="#20ffdf" stroke="#20ffdf" stroke-width="0.3"/>
<path d="M439.7 122.2 440.7 130.8 441.1 135.3 441.1 138.2 440.7 133.1 439.7 123.9zM442 150.9 442.2 155.4 442.2 162.4 442 156.4zM443.1 204.1 443.3 164.5 443.3 163.4 443.3 154.3 443.3 154.6 443.1 160.4zM448.7 129.2 449.3 124.6 449.3 128.5 448.7 133.7z" fill="#0000df" stroke="#0000df" stroke-width="0.3"/>
<path d="M441.1 135.3 441.4 140.1 442 150.9 442 156.4 441.4 143.6 441.1 138.2zM445 149.9 446 175.2 446 176.5 446.1 182.5 446.1 167.5 446 164.9 446 164.3 445 148.8zM446.1 184.1 446.3 217.4 446.6 182.6 446.6 197.6 446.3 177.3 446.1 168.1zM593.8 140.6 594.4 149.7 594.6 153.8 594.6 160.3 594.4 154.9 593.8 143.7zM595.7 191.8 595.8 186 595.8 173.5 595.7 176zM598.6 149 600.1 179.7 600.1 168.6 598.6 148.6zM600.2 186.1 600.2 187.4 600.4 202.9 600.4 181.5 600.2 172.3 600.2 171.7zM603.1 147.3 603.7 142.6 604.9 134.2 604.9 136.2 603.7 145.4 603.1 150.7z" fill="#0000af" stroke="#0000af" stroke-width="0.3"/>
<path d="M442.2 155.4 442.5 164 442.5 175 442.2 162.4zM446.1 182.5 446.1 184.1 446.1 168.1 446.1 167.5z" fill="#0000cf" stroke="#0000cf" stroke-width="0.3"/>
<path d="M442.5 164 442.9 182.2 443 188.2 443 176.5 442.9 218.8 442.5 175zM443.3 163.4 443.3 159.6 443.4 158.8 443.4 152.5 443.3 152.8 443.3 154.3zM595.4 186.4 595.6 218.6 595.7 193.3 595.7 176.6 595.6 185.8 595.4 206.2zM595.8 186 595.8 184.7 597.3 149.4 597.3 149.1 595.8 172.9 595.8 173.5zM600.1 179.7 600.1 180.9 600.2 186.1 600.2 171.7 600.1 169.2 600.1 168.6zM600.8 196.3 601.2 179.1 601.6 169.4 601.6 178.1 601.2 192.8 600.8 214.5z" fill="#00009f" stroke="#00009f" stroke-width="0.3"/>
<path d="M443 188.2 443.1 204.1 443.1 160.4 443 176.5zM446.6 182.6 446.7 174.7 447.2 153.7 447.2 166.6 446.7 206.2 446.6 197.6zM592 126.6 593 133 593.4 136.6 593.4 139.2 593 135.2 592 128.1zM600.4 202.9 600.7 199.6 600.7 202.9 600.4 181.5zM601.9 164.3 602.7 152.4 603.1 147.3 603.1 150.7 602.7 156.6 601.9 171.2z" fill="#0000ef" stroke="#0000ef" stroke-width="0.3"/>
<path d="M443.4 158.8 445 149.9 445 148.8 443.4 152.5zM447.2 153.7 447.6 144.5 447.6 152.9 447.2 166.6zM593.4 136.6 593.8 140.6 593.8 143.7 593.4 139.2zM601.6 169.4 601.9 164.3 601.9 171.2 601.6 178.1z" fill="#0000ff" stroke="#0000ff" stroke-width="0.3"/>
<path d="M447.6 144.5 447.9 139.8 448.7 129.2 448.7 133.7 447.9 146.7 447.6 152.9zM595.3 179.6 595.4 186.4 595.4 206.2 595.3 215.5zM595.7 193.3 595.7 191.8 595.7 176 595.7 176.6zM600.7 199.6 600.8 196.3 600.8 214.5 600.7 202.9z" fill="#0000bf" stroke="#0000bf" stroke-width="0.3"/>
<path d="M594.6 153.8 594.9 161.6 595.3 179.6 595.3 215.5 594.9 172.1 594.6 160.3z" fill="#00008f" stroke="#00008f" stroke-width="0.3"/>
<path d="M597.3 149.4 598.6 149 598.6 148.6 597.3 149.1z" fill="#20ffdf" stroke="#20ffdf" stroke-width="0.3"/>
<path d="M440.7 129.4 441.1 133.8 441.1 135.3 440.7 130.8zM442 148.1 442.2 152.1 442.2 155.4 442 150.9zM443.1 191.5 443.3 207.1 443.3 193.3 443.3 163.4 443.3 164.5 443.1 204.1z" fill="#0000df" stroke="#0000df" stroke-width="0.3"/>
<path d="M441.1 133.8 441.4 138.3 442 148.1 442 150.9 441.4 140.1 441.1 135.3zM445 150.9 446 191.8 446 195 446.1 209.3 446.1 182.5 446 176.5 446 175.2 445 149.9zM446.1 210.4 446.3 184.9 446.6 167.3 446.6 182.6 446.3 217.4 446.1 184.1zM593.8 138.8 594.4 147 594.6 150.5 594.6 153.8 594.4 149.7 593.8 140.6zM595.7 212.6 595.8 203.2 595.8 186 595.7 191.8zM598.6 149.4 600.1 194.2 600.1 179.7 598.6 149zM600.2 202.6 600.2 202.8 600.4 200.7 600.4 202.9 600.2 187.4 600.2 186.1zM603.1 145.4 603.7 141 604.9 133 604.9 134.2 603.7 142.6 603.1 147.3z" fill="#0000af" stroke="#0000af" stroke-width="0.3"/>
<path d="M442.2 152.1 442.5 159.4 442.5 164 442.2 155.4zM446.1 209.3 446.1 210.4 446.1 184.1 446.1 182.5z" fill="#0000cf" stroke="#0000cf" stroke-width="0.3"/>
<path d="M442.5 159.4 442.9 173.2 443 177.2 443 188.2 442.9 182.2 442.5 164zM443.3 193.3 443.3 172.7 443.4 170.2 443.4 158.8 443.3 159.6 443.3 163.4zM595.4 174 595.6 189 595.7 213.2 595.7 193.3 595.6 218.6 595.4 186.4zM595.8 203.2 595.8 200.6 597.3 149.5 597.3 149.4 595.8 184.7 595.8 186zM600.1 194.2 600.1 196.2 600.2 202.6 600.2 186.1 600.1 180.9 600.1 179.7zM600.8 188.5 601.2 173.6 601.6 165.4 601.6 169.4 601.2 179.1 600.8 196.3z" fill="#00009f" stroke="#00009f" stroke-width="0.3"/>
<path d="M443 177.2 443.1 191.5 443.1 204.1 443 188.2zM446.6 167.3 446.7 162.7 447.2 147.5 447.2 153.7 446.7 174.7 446.6 182.6zM592 125.6 593 131.7 593.4 135.1 593.4 136.6 593 133 592 126.6zM600.4 200.7 600.7 192.3 600.7 199.6 600.4 202.9zM601.9 160.9 602.7 150.2 603.1 145.4 603.1 147.3 602.7 152.4 601.9 164.3z" fill="#0000ef" stroke="#0000ef" stroke-width="0.3"/>
<path d="M443.4 170.2 445 150.9 445 149.9 443.4 158.8zM447.2 147.5 447.6 139.9 447.6 144.5 447.2 153.7zM593.4 135.1 593.8 138.8 593.8 140.6 593.4 136.6zM601.6 165.4 601.9 160.9 601.9 164.3 601.6 169.4z" fill="#0000ff" stroke="#0000ff" stroke-width="0.3"/>
<path d="M447.6 139.9 447.9 135.9 448.7 126.3 448.7 129.2 447.9 139.8 447.6 144.5zM595.3 170 595.4 174 595.4 186.4 595.3 179.6zM595.7 213.2 595.7 212.6 595.7 191.8 595.7 193.3zM600.7 192.3 600.8 188.5 600.8 196.3 600.7 199.6z" fill="#0000bf" stroke="#0000bf" stroke-width="0.3"/>
<path d="M594.6 150.5 594.9 157.1 595.3 170 595.3 179.6 594.9 161.6 594.6 153.8z" fill="#00008f" stroke="#00008f" stroke-width="0.3"/>
<path d="M597.3 149.5 598.6 149.4 598.6 149 597.3 149.4z" fill="#20ffdf" stroke="#20ffdf" stroke-width="0.3"/>
<path d="M440.7 128.9 441.1 133.1 441.1 133.8 440.7 129.4zM442 146.9 442.2 150.7 442.2 152.1 442 148.1zM443.1 185.7 443.3 206.3 443.3 209.1 443.3 193.3 443.3 207.1 443.1 191.5z" fill="#0000df" stroke="#0000df" stroke-width="0.3"/>
<path d="M441.1 133.1 441.4 137.5 442 146.9 442 148.1 441.4 138.3 441.1 133.8zM445 151.6 446 208.8 446 210.4 446.1 201.7 446.1 209.3 446 195 446 191.8 445 150.9zM446.1 198.7 446.3 175.4 446.6 161.8 446.6 167.3 446.3 184.9 446.1 210.4zM593.8 137.9 594.4 145.8 594.6 149.1 594.6 150.5 594.4 147 593.8 138.8zM595.7 202.6 595.8 210 595.8 203.2 595.7 212.6zM598.6 149.6 600.1 217.1 600.1 194.2 598.6 149.4zM600.2 218.3 600.2 217.7 600.4 204.2 600.4 200.7 600.2 202.8 600.2 202.6zM603.1 144.5 603.7 140.2 604.9 132.4 604.9 133 603.7 141 603.1 145.4z" fill="#0000af" stroke="#0000af" stroke-width="0.3"/>
<path d="M442.2 150.7 442.5 157.6 442.5 159.4 442.2 152.1zM446.1 201.7 446.1 198.7 446.1 210.4 446.1 209.3z" fill="#0000cf" stroke="#0000cf" stroke-width="0.3"/>
<path d="M442.5 157.6 442.9 170.1 443 173.6 443 177.2 442.9 173.2 442.5 159.4zM443.3 209.1 443.3 219.2 443.4 192.4 443.4 170.2 443.3 172.7 443.3 193.3zM595.4 170 595.6 181.4 595.7 200.3 595.7 213.2 595.6 189 595.4 174zM595.8 210 595.8 209.5 597.3 149.6 597.3 149.5 595.8 200.6 595.8 203.2zM600.1 217.1 600.1 219.3 600.2 218.3 600.2 202.6 600.1 196.2 600.1 194.2zM600.8 186.5 601.2 171.6 601.6 163.7 601.6 165.4 601.2 173.6 600.8 188.5z" fill="#00009f" stroke="#00009f" stroke-width="0.3"/>
<path d="M443 173.6 443.1 185.7 443.1 191.5 443 177.2zM446.6 161.8 446.7 157.9 447.2 144.5 447.2 147.5 446.7 162.7 446.6 167.3zM592 125.1 593 131.1 593.4 134.4 593.4 135.1 593 131.7 592 125.6zM600.4 204.2 600.7 190.7 600.7 192.3 600.4 200.7zM601.9 159.4 602.7 149.1 603.1 144.5 603.1 145.4 602.7 150.2 601.9 160.9z" fill="#0000ef" stroke="#0000ef" stroke-width="0.3"/>
<path d="M443.4 192.4 445 151.6 445 150.9 443.4 170.2zM447.2 144.5 447.6 137.4 447.6 139.9 447.2 147.5zM593.4 134.4 593.8 137.9 593.8 138.8 593.4 135.1zM601.6 163.7 601.9 159.4 601.9 160.9 601.6 165.4z" fill="#0000ff" stroke="#0000ff" stroke-width="0.3"/>
<path d="M447.6 137.4 447.9 133.6 448.7 124.4 448.7 126.3 447.9 135.9 447.6 139.9zM595.3 166.6 595.4 170 595.4 174 595.3 170zM595.7 200.3 595.7 202.6 595.7 212.6 595.7 213.2zM600.7 190.7 600.8 186.5 600.8 188.5 600.7 192.3z" fill="#0000bf" stroke="#0000bf" stroke-width="0.3"/>
<path d="M594.6 149.1 594.9 155.1 595.3 166.6 595.3 170 594.9 157.1 594.6 150.5z" fill="#00008f" stroke="#00008f" stroke-width="0.3"/>
<path d="M597.3 149.6 598.6 149.6 598.6 149.4 597.3 149.5z" fill="#20ffdf" stroke="#20ffdf" stroke-width="0.3"/>
<path d="M440.7 128.7 441.1 132.9 441.1 133.1 440.7 128.9zM442 146.6 442.2 150.4 442.2 150.7 442 146.9zM443.1 183.3 443.3 197.7 443.3 199.1 443.3 209.1 443.3 206.3 443.1 185.7z" fill="#0000df" stroke="#0000df" stroke-width="0.3"/>
<path d="M441.1 132.9 441.4 137.3 442 146.6 442 146.9 441.4 137.5 441.1 133.1zM445 151.7 446 217.9 446 216.6 446.1 199.1 446.1 201.7 446 210.4 446 208.8 445 151.6zM446.1 195.8 446.3 173 446.6 159.9 446.6 161.8 446.3 175.4 446.1 198.7zM593.8 137.6 594.4 145.4 594.6 148.7 594.6 149.1 594.4 145.8 593.8 137.9zM595.7 202.4 595.8 218 595.8 210 595.7 202.6zM598.6 149.6 600.1 213.8 600.1 217.1 598.6 149.6zM600.2 212.7 600.2 212.2 600.4 201.4 600.4 204.2 600.2 217.7 600.2 218.3zM603.1 144.1 603.7 139.9 604.9 132.1 604.9 132.4 603.7 140.2 603.1 144.5z" fill="#0000af" stroke="#0000af" stroke-width="0.3"/>
<path d="M442.2 150.4 442.5 157.1 442.5 157.6 442.2 150.7zM446.1 199.1 446.1 195.8 446.1 198.7 446.1 201.7z" fill="#0000cf" stroke="#0000cf" stroke-width="0.3"/>
<path d="M442.5 157.1 442.9 169.1 443 172.5 443 173.6 442.9 170.1 442.5 157.6zM443.3 199.1 443.3 203.6 443.4 203.8 443.4 192.4 443.3 219.2 443.3 209.1zM595.4 169.2 595.6 180.4 595.7 199.6 595.7 200.3 595.6 181.4 595.4 170zM595.8 218 595.8 219.9 597.3 149.6 597.3 149.6 595.8 209.5 595.8 210zM600.1 213.8 600.1 213.8 600.2 212.7 600.2 218.3 600.1 219.3 600.1 217.1zM600.8 185.2 601.2 170.9 601.6 163.2 601.6 163.7 601.2 171.6 600.8 186.5z" fill="#00009f" stroke="#00009f" stroke-width="0.3"/>
<path d="M443 172.5 443.1 183.3 443.1 185.7 443 173.6zM446.6 159.9 446.7 156.1 447.2 143 447.2 144.5 446.7 157.9 446.6 161.8zM593 130.9 593.4 134.1 593.4 134.4 593 131.1zM600.4 201.4 600.7 189.2 600.7 190.7 600.4 204.2zM601.9 158.9 602.7 148.7 603.1 144.1 603.1 144.5 602.7 149.1 601.9 159.4z" fill="#0000ef" stroke="#0000ef" stroke-width="0.3"/>
<path d="M443.4 203.8 445 151.7 445 151.6 443.4 192.4zM447.2 143 447.6 136.1 447.6 137.4 447.2 144.5zM593.4 134.1 593.8 137.6 593.8 137.9 593.4 134.4zM601.6 163.2 601.9 158.9 601.9 159.4 601.6 163.7z" fill="#0000ff" stroke="#0000ff" stroke-width="0.3"/>
<path d="M447.6 136.1 447.9 132.3 448.7 123.2 448.7 124.4 447.9 133.6 447.6 137.4zM595.3 165.9 595.4 169.2 595.4 170 595.3 166.6zM595.7 199.6 595.7 202.4 595.7 202.6 595.7 200.3zM600.7 189.2 600.8 185.2 600.8 186.5 600.7 190.7z" fill="#0000bf" stroke="#0000bf" stroke-width="0.3"/>
<path d="M594.6 148.7 594.9 154.7 595.3 165.9 595.3 166.6 594.9 155.1 594.6 149.1z" fill="#00008f" stroke="#00008f" stroke-width="0.3"/>
<path d="M597.3 149.6 598.6 149.6 598.6 149.6 597.3 149.6z" fill="#20ffdf" stroke="#20ffdf" stroke-width="0.3"/></g></g>
<text x="72.2" y="47.0" text-anchor="end">0</text>
<text x="72.2" y="93.6" text-anchor="end">-20</text>
<text x="72.2" y="140.2" text-anchor="end">-40</text>
<text x="72.2" y="186.7" text-anchor="end">-60</text>
<text x="72.2" y="233.3" text-anchor="end">-80</text>
<text x="63.2" y="252.2">-</text><path transform="translate(71.60,252.20) scale(0.011230,-0.011230)" d="M763 0H583V1147C540 1106 483 1064 413 1023C343 982 280 951 223 930V1104C323 1151 411 1208 486 1275C561 1342 614 1407 645 1469H763Z"/>
<text x="229.1" y="252.2" text-anchor="middle">-0.5</text>
<text x="387.05" y="252.2" text-anchor="middle">0</text>
<text x="542.05" y="252.2" text-anchor="middle">0.5</text>
<path transform="translate(689.60,252.20) scale(0.011230,-0.011230)" d="M763 0H583V1147C540 1106 483 1064 413 1023C343 982 280 951 223 930V1104C323 1151 411 1208 486 1275C561 1342 614 1407 645 1469H763Z"/>
<text x="366.7" y="280.2" textLength="28.7" lengthAdjust="spacingAndGlyphs">sin</text>
<ellipse cx="400.7" cy="272.1" rx="4.15" ry="7.25" fill="none" stroke="#000" stroke-width="1.2"/>
<line x1="396.59999999999997" y1="272.1" x2="404.8" y2="272.1" stroke="#000" stroke-width="1.1"/>
<text transform="translate(26.9,131.9) rotate(-90)" text-anchor="middle">Power/dB</text>
<text x="389.3" y="21.3" text-anchor="middle">Wideband Pattern</text>
<line x1="232.1" y1="326.4" x2="232.1" y2="509.0" stroke="#3a3a3a" stroke-width="1.3" stroke-dasharray="1.6 5.7"/>
<line x1="386.9" y1="326.4" x2="386.9" y2="509.0" stroke="#3a3a3a" stroke-width="1.3" stroke-dasharray="1.6 5.7"/>
<line x1="541.6" y1="326.4" x2="541.6" y2="509.0" stroke="#3a3a3a" stroke-width="1.3" stroke-dasharray="1.6 5.7"/>
<line x1="90.3" y1="369.3" x2="696.4" y2="369.3" stroke="#3a3a3a" stroke-width="1.3" stroke-dasharray="1.6 5.7"/>
<line x1="90.3" y1="415.9" x2="696.4" y2="415.9" stroke="#3a3a3a" stroke-width="1.3" stroke-dasharray="1.6 5.7"/>
<line x1="90.3" y1="462.4" x2="696.4" y2="462.4" stroke="#3a3a3a" stroke-width="1.3" stroke-dasharray="1.6 5.7"/>
<rect x="77.3" y="322.7" width="619.1" height="186.3" fill="none" stroke="#000" stroke-width="1"/>
<path d="M77.3 509.0v-7M77.3 322.7v7M232.1 509.0v-7M232.1 322.7v7M386.9 509.0v-7M386.9 322.7v7M541.6 509.0v-7M541.6 322.7v7M696.4 509.0v-7M696.4 322.7v7M77.3 322.7h7M696.4 322.7h-7M77.3 369.3h7M696.4 369.3h-7M77.3 415.9h7M696.4 415.9h-7M77.3 462.4h7M696.4 462.4h-7M77.3 509.0h7M696.4 509.0h-7" stroke="#000" stroke-width="1" fill="none"/>
<polyline points="77.30,406.35 77.55,404.99 77.80,403.73 78.05,402.56 78.30,401.45 78.55,400.41 78.80,399.42 79.05,398.49 79.30,397.61 79.55,396.77 79.80,395.97 80.05,395.21 80.30,394.48 80.55,393.79 80.80,393.12 81.05,392.49 81.30,391.88 81.55,391.30 81.80,390.74 82.05,390.20 82.30,389.69 82.55,389.19 82.80,388.71 83.05,388.26 83.30,387.82 83.55,387.39 83.80,386.99 84.05,386.60 84.30,386.22 84.55,385.86 84.80,385.51 85.05,385.18 85.30,384.86 85.55,384.55 85.80,384.25 86.05,383.97 86.30,383.70 86.55,383.43 86.80,383.18 87.05,382.95 87.30,382.72 87.55,382.50 87.80,382.29 88.05,382.09 88.30,381.90 88.55,381.72 88.80,381.55 89.05,381.39 89.30,381.24 89.55,381.10 89.80,380.96 90.05,380.84 90.30,380.72 90.55,380.61 90.80,380.51 91.05,380.42 91.30,380.33 91.55,380.26 91.80,380.19 92.05,380.13 92.30,380.08 92.55,380.04 92.80,380.00 93.05,379.98 93.30,379.96 93.55,379.95 93.80,379.94 94.05,379.95 94.30,379.96 94.55,379.98 94.80,380.01 95.05,380.04 95.30,380.09 95.55,380.14 95.80,380.20 96.05,380.27 96.30,380.35 96.55,380.43 96.80,380.52 97.05,380.63 97.30,380.74 97.55,380.85 97.80,380.98 98.05,381.12 98.30,381.26 98.55,381.42 98.80,381.58 99.05,381.76 99.30,381.94 99.55,382.13 99.80,382.33 100.05,382.55 100.30,382.77 100.55,383.00 100.80,383.25 101.05,383.50 101.30,383.77 101.55,384.05 101.80,384.34 102.05,384.64 102.30,384.96 102.55,385.29 102.80,385.63 103.05,385.99 103.30,386.36 103.55,386.75 103.80,387.15 104.05,387.57 104.30,388.01 104.55,388.46 104.80,388.93 105.05,389.43 105.30,389.94 105.55,390.48 105.80,391.03 106.05,391.62 106.30,392.22 106.55,392.86 106.80,393.53 107.05,394.22 107.30,394.95 107.55,395.72 107.80,396.52 108.05,397.37 108.31,398.26 108.56,399.20 108.81,400.20 109.06,401.26 109.31,402.38 109.56,403.58 109.81,404.86 110.06,406.24 110.31,407.74 110.56,409.35 110.81,411.12 111.06,413.07 111.31,415.24 111.56,417.67 111.81,420.45 112.06,423.68 112.31,427.53 112.56,432.28 112.81,438.48 113.06,447.30 113.31,461.67 113.48,471.74 113.56,468.78 113.81,451.89 114.06,441.42 114.31,434.40 114.56,429.17 114.81,425.01 115.06,421.55 115.31,418.61 115.56,416.04 115.81,413.77 116.06,411.73 116.31,409.88 116.56,408.20 116.81,406.65 117.06,405.22 117.31,403.89 117.56,402.64 117.81,401.48 118.06,400.39 118.31,399.36 118.56,398.38 118.81,397.46 119.06,396.59 119.31,395.75 119.56,394.96 119.81,394.21 120.06,393.49 120.31,392.80 120.56,392.14 120.81,391.51 121.06,390.91 121.31,390.33 121.56,389.77 121.81,389.24 122.06,388.73 122.31,388.24 122.56,387.76 122.81,387.31 123.06,386.87 123.31,386.45 123.56,386.05 123.81,385.66 124.06,385.28 124.31,384.92 124.56,384.58 124.81,384.25 125.06,383.93 125.31,383.62 125.56,383.33 125.81,383.04 126.06,382.77 126.31,382.51 126.56,382.26 126.81,382.02 127.06,381.80 127.31,381.58 127.56,381.37 127.81,381.17 128.06,380.98 128.31,380.81 128.56,380.64 128.81,380.48 129.06,380.32 129.31,380.18 129.56,380.05 129.81,379.92 130.06,379.81 130.31,379.70 130.56,379.60 130.81,379.51 131.06,379.43 131.31,379.35 131.56,379.28 131.81,379.23 132.06,379.18 132.31,379.13 132.56,379.10 132.81,379.07 133.06,379.05 133.31,379.04 133.56,379.04 133.81,379.04 134.06,379.06 134.31,379.08 134.56,379.11 134.81,379.14 135.06,379.19 135.31,379.24 135.56,379.30 135.81,379.37 136.06,379.45 136.31,379.54 136.56,379.63 136.81,379.73 137.06,379.84 137.31,379.96 137.56,380.09 137.81,380.23 138.06,380.38 138.31,380.53 138.56,380.70 138.81,380.87 139.06,381.06 139.31,381.25 139.56,381.45 139.81,381.67 140.06,381.89 140.31,382.13 140.56,382.38 140.81,382.63 141.06,382.90 141.31,383.18 141.56,383.48 141.81,383.78 142.06,384.10 142.31,384.43 142.56,384.78 142.81,385.14 143.06,385.51 143.31,385.90 143.56,386.31 143.81,386.73 144.06,387.17 144.31,387.63 144.56,388.11 144.81,388.61 145.06,389.13 145.31,389.67 145.56,390.23 145.81,390.82 146.06,391.44 146.31,392.08 146.56,392.76 146.81,393.46 147.06,394.20 147.31,394.98 147.56,395.79 147.81,396.65 148.06,397.56 148.31,398.52 148.56,399.53 148.81,400.61 149.06,401.76 149.31,402.98 149.56,404.30 149.81,405.71 150.06,407.24 150.31,408.91 150.56,410.74 150.81,412.76 151.06,415.01 151.31,417.55 151.56,420.47 151.81,423.90 152.06,428.03 152.31,433.23 152.56,440.24 152.81,450.86 153.06,470.55 153.15,476.40 153.31,463.35 153.56,447.13 153.81,437.88 154.06,431.51 154.31,426.65 154.56,422.74 154.81,419.47 155.06,416.65 155.31,414.18 155.56,411.99 155.81,410.02 156.06,408.23 156.31,406.59 156.56,405.08 156.81,403.68 157.06,402.37 157.31,401.16 157.56,400.02 157.81,398.94 158.06,397.93 158.31,396.97 158.56,396.06 158.81,395.20 159.06,394.38 159.31,393.60 159.56,392.86 159.81,392.14 160.06,391.46 160.31,390.81 160.56,390.19 160.81,389.59 161.06,389.02 161.31,388.47 161.56,387.94 161.81,387.43 162.06,386.95 162.31,386.48 162.56,386.03 162.81,385.59 163.06,385.18 163.31,384.77 163.56,384.39 163.81,384.02 164.06,383.66 164.31,383.32 164.56,382.99 164.81,382.67 165.06,382.36 165.31,382.07 165.56,381.79 165.81,381.52 166.06,381.26 166.31,381.01 166.56,380.78 166.81,380.55 167.06,380.33 167.31,380.13 167.56,379.93 167.81,379.74 168.06,379.56 168.31,379.40 168.56,379.24 168.81,379.08 169.06,378.94 169.31,378.81 169.56,378.69 169.81,378.57 170.06,378.46 170.32,378.36 170.57,378.27 170.82,378.19 171.07,378.11 171.32,378.05 171.57,377.99 171.82,377.94 172.07,377.90 172.32,377.86 172.57,377.84 172.82,377.82 173.07,377.81 173.32,377.80 173.57,377.81 173.82,377.82 174.07,377.84 174.32,377.87 174.57,377.91 174.82,377.95 175.07,378.00 175.32,378.07 175.57,378.13 175.82,378.21 176.07,378.30 176.32,378.39 176.57,378.49 176.82,378.60 177.07,378.72 177.32,378.85 177.57,378.99 177.82,379.14 178.07,379.29 178.32,379.46 178.57,379.63 178.82,379.81 179.07,380.01 179.32,380.21 179.57,380.43 179.82,380.65 180.07,380.89 180.32,381.13 180.57,381.39 180.82,381.66 181.07,381.94 181.32,382.23 181.57,382.54 181.82,382.86 182.07,383.19 182.32,383.54 182.57,383.90 182.82,384.27 183.07,384.66 183.32,385.07 183.57,385.49 183.82,385.94 184.07,386.40 184.32,386.87 184.57,387.37 184.82,387.89 185.07,388.44 185.32,389.00 185.57,389.60 185.82,390.22 186.07,390.86 186.32,391.54 186.57,392.25 186.82,392.99 187.07,393.77 187.32,394.60 187.57,395.46 187.82,396.38 188.07,397.34 188.32,398.37 188.57,399.46 188.82,400.62 189.07,401.86 189.32,403.19 189.57,404.62 189.82,406.18 190.07,407.88 190.32,409.74 190.57,411.80 190.82,414.11 191.07,416.73 191.32,419.75 191.57,423.32 191.82,427.67 192.07,433.23 192.32,440.95 192.57,453.61 192.82,491.59 192.85,502.01 193.07,459.24 193.32,443.74 193.57,435.05 193.82,428.98 194.07,424.33 194.32,420.54 194.57,417.36 194.82,414.61 195.07,412.20 195.32,410.05 195.57,408.11 195.82,406.34 196.07,404.73 196.32,403.23 196.57,401.85 196.82,400.56 197.07,399.35 197.32,398.22 197.57,397.15 197.82,396.14 198.07,395.19 198.32,394.28 198.57,393.42 198.82,392.60 199.07,391.82 199.32,391.08 199.57,390.36 199.82,389.68 200.07,389.03 200.32,388.40 200.57,387.80 200.82,387.23 201.07,386.67 201.32,386.14 201.57,385.63 201.82,385.13 202.07,384.66 202.32,384.20 202.57,383.76 202.82,383.34 203.07,382.93 203.32,382.53 203.57,382.15 203.82,381.79 204.07,381.44 204.32,381.10 204.57,380.77 204.82,380.46 205.07,380.15 205.32,379.86 205.57,379.58 205.82,379.31 206.07,379.05 206.32,378.80 206.57,378.56 206.82,378.33 207.07,378.11 207.32,377.90 207.57,377.70 207.82,377.51 208.07,377.32 208.32,377.15 208.57,376.98 208.82,376.82 209.07,376.67 209.32,376.53 209.57,376.39 209.82,376.27 210.07,376.15 210.32,376.03 210.57,375.93 210.82,375.83 211.07,375.75 211.32,375.66 211.57,375.59 211.82,375.52 212.07,375.46 212.32,375.41 212.57,375.36 212.82,375.32 213.07,375.29 213.32,375.27 213.57,375.25 213.82,375.24 214.07,375.23 214.32,375.23 214.57,375.24 214.82,375.26 215.07,375.28 215.32,375.31 215.57,375.35 215.82,375.39 216.07,375.44 216.32,375.50 216.57,375.56 216.82,375.63 217.07,375.71 217.32,375.79 217.57,375.88 217.82,375.98 218.07,376.09 218.32,376.20 218.57,376.32 218.82,376.44 219.07,376.58 219.32,376.72 219.57,376.87 219.82,377.02 220.07,377.19 220.32,377.36 220.57,377.54 220.82,377.72 221.07,377.92 221.32,378.12 221.57,378.33 221.82,378.55 222.07,378.78 222.32,379.02 222.57,379.26 222.82,379.51 223.07,379.78 223.32,380.05 223.57,380.33 223.82,380.62 224.07,380.92 224.32,381.23 224.57,381.55 224.82,381.88 225.07,382.23 225.32,382.58 225.57,382.94 225.82,383.32 226.07,383.71 226.32,384.11 226.57,384.52 226.82,384.95 227.07,385.39 227.32,385.84 227.57,386.31 227.82,386.80 228.07,387.30 228.32,387.81 228.57,388.34 228.82,388.89 229.07,389.46 229.32,390.05 229.57,390.66 229.82,391.29 230.07,391.94 230.32,392.62 230.57,393.32 230.82,394.05 231.07,394.80 231.32,395.59 231.57,396.40 231.82,397.26 232.07,398.14 232.33,399.07 232.58,400.04 232.83,401.05 233.08,402.12 233.33,403.24 233.58,404.42 233.83,405.67 234.08,406.99 234.33,408.40 234.58,409.90 234.83,411.51 235.08,413.25 235.33,415.13 235.58,417.19 235.83,419.46 236.08,421.99 236.33,424.84 236.58,428.12 236.83,431.98 237.08,436.69 237.33,442.71 237.58,451.12 237.83,464.99 238.06,485.71 238.08,485.34 238.33,462.80 238.58,450.42 238.83,442.80 239.08,437.35 239.33,433.13 239.58,429.71 239.83,426.84 240.08,424.39 240.33,422.25 240.58,420.37 240.83,418.69 241.08,417.18 241.33,415.82 241.58,414.59 241.83,413.46 242.08,412.44 242.33,411.49 242.58,410.63 242.83,409.83 243.08,409.10 243.33,408.43 243.58,407.81 243.83,407.25 244.08,406.73 244.33,406.26 244.58,405.82 244.83,405.43 245.08,405.08 245.33,404.77 245.58,404.49 245.83,404.24 246.08,404.03 246.33,403.85 246.58,403.71 246.83,403.59 247.08,403.51 247.33,403.46 247.58,403.44 247.83,403.46 248.08,403.50 248.33,403.58 248.58,403.69 248.83,403.84 249.08,404.02 249.33,404.23 249.58,404.48 249.83,404.77 250.08,405.10 250.33,405.48 250.58,405.89 250.83,406.36 251.08,406.87 251.33,407.44 251.58,408.06 251.83,408.75 252.08,409.51 252.33,410.34 252.58,411.26 252.83,412.27 253.08,413.39 253.33,414.64 253.58,416.02 253.83,417.57 254.08,419.33 254.33,421.32 254.58,423.63 254.83,426.32 255.08,429.55 255.33,433.53 255.58,438.67 255.83,445.83 256.08,457.43 256.33,489.32 256.39,509.00 256.58,467.16 256.83,449.82 257.08,440.43 257.33,433.91 257.58,428.88 257.83,424.78 258.08,421.30 258.33,418.28 258.58,415.60 258.83,413.19 259.08,410.99 259.33,408.98 259.58,407.12 259.83,405.39 260.08,403.77 260.33,402.25 260.58,400.81 260.83,399.45 261.08,398.16 261.33,396.93 261.58,395.76 261.83,394.63 262.08,393.56 262.33,392.52 262.58,391.53 262.83,390.57 263.08,389.65 263.33,388.76 263.58,387.90 263.83,387.07 264.08,386.26 264.33,385.48 264.58,384.72 264.83,383.99 265.08,383.27 265.33,382.58 265.58,381.90 265.83,381.25 266.08,380.61 266.33,379.99 266.58,379.38 266.83,378.79 267.08,378.21 267.33,377.65 267.58,377.11 267.83,376.57 268.08,376.05 268.33,375.54 268.58,375.05 268.83,374.56 269.08,374.09 269.33,373.63 269.58,373.18 269.83,372.74 270.08,372.31 270.33,371.88 270.58,371.47 270.83,371.07 271.08,370.68 271.33,370.30 271.58,369.92 271.83,369.55 272.08,369.20 272.33,368.85 272.58,368.51 272.83,368.17 273.08,367.85 273.33,367.53 273.58,367.22 273.83,366.92 274.08,366.62 274.33,366.33 274.58,366.05 274.83,365.78 275.08,365.51 275.33,365.25 275.58,364.99 275.83,364.74 276.08,364.50 276.33,364.27 276.58,364.04 276.83,363.82 277.08,363.60 277.33,363.39 277.58,363.19 277.83,362.99 278.08,362.80 278.33,362.62 278.58,362.44 278.83,362.27 279.08,362.10 279.33,361.94 279.58,361.78 279.83,361.63 280.08,361.49 280.33,361.35 280.58,361.22 280.83,361.09 281.08,360.97 281.33,360.85 281.58,360.74 281.83,360.64 282.08,360.54 282.33,360.45 282.58,360.36 282.83,360.28 283.08,360.20 283.33,360.13 283.58,360.07 283.83,360.01 284.08,359.95 284.33,359.91 284.58,359.86 284.83,359.83 285.08,359.80 285.33,359.77 285.58,359.75 285.83,359.74 286.08,359.73 286.33,359.73 286.58,359.74 286.83,359.75 287.08,359.77 287.33,359.79 287.58,359.82 287.83,359.85 288.08,359.90 288.33,359.95 288.58,360.00 288.83,360.06 289.08,360.13 289.33,360.21 289.58,360.29 289.83,360.38 290.08,360.47 290.33,360.58 290.58,360.69 290.83,360.80 291.08,360.93 291.33,361.06 291.58,361.20 291.83,361.35 292.08,361.51 292.33,361.68 292.58,361.85 292.83,362.03 293.08,362.23 293.33,362.43 293.58,362.64 293.83,362.86 294.09,363.09 294.34,363.33 294.59,363.58 294.84,363.84 295.09,364.12 295.34,364.40 295.59,364.70 295.84,365.01 296.09,365.33 296.34,365.66 296.59,366.01 296.84,366.38 297.09,366.76 297.34,367.15 297.59,367.56 297.84,367.99 298.09,368.44 298.34,368.90 298.59,369.39 298.84,369.89 299.09,370.42 299.34,370.97 299.59,371.55 299.84,372.15 300.09,372.79 300.34,373.45 300.59,374.14 300.84,374.88 301.09,375.64 301.34,376.45 301.59,377.31 301.84,378.21 302.09,379.17 302.34,380.18 302.59,381.27 302.84,382.42 303.09,383.66 303.34,385.00 303.59,386.44 303.84,388.01 304.09,389.73 304.34,391.62 304.59,393.72 304.84,396.09 305.09,398.80 305.34,401.95 305.59,405.71 305.84,410.37 306.09,416.47 306.34,425.30 306.59,441.38 306.79,481.06 306.84,467.48 307.09,433.51 307.34,421.21 307.59,413.59 307.84,408.04 308.09,403.68 308.34,400.08 308.59,397.02 308.84,394.35 309.09,392.00 309.34,389.88 309.59,387.96 309.84,386.21 310.09,384.60 310.34,383.10 310.59,381.71 310.84,380.41 311.09,379.18 311.34,378.03 311.59,376.94 311.84,375.91 312.09,374.93 312.34,374.00 312.59,373.11 312.84,372.26 313.09,371.45 313.34,370.68 313.59,369.93 313.84,369.21 314.09,368.53 314.34,367.87 314.59,367.23 314.84,366.62 315.09,366.02 315.34,365.45 315.59,364.90 315.84,364.37 316.09,363.86 316.34,363.36 316.59,362.88 316.84,362.42 317.09,361.97 317.34,361.53 317.59,361.11 317.84,360.71 318.09,360.31 318.34,359.93 318.59,359.56 318.84,359.20 319.09,358.86 319.34,358.52 319.59,358.20 319.84,357.89 320.09,357.58 320.34,357.29 320.59,357.01 320.84,356.74 321.09,356.47 321.34,356.22 321.59,355.97 321.84,355.74 322.09,355.51 322.34,355.29 322.59,355.08 322.84,354.88 323.09,354.69 323.34,354.50 323.59,354.32 323.84,354.15 324.09,353.99 324.34,353.84 324.59,353.69 324.84,353.55 325.09,353.42 325.34,353.30 325.59,353.19 325.84,353.08 326.09,352.98 326.34,352.89 326.59,352.80 326.84,352.72 327.09,352.65 327.34,352.59 327.59,352.53 327.84,352.49 328.09,352.45 328.34,352.41 328.59,352.39 328.84,352.37 329.09,352.36 329.34,352.36 329.59,352.36 329.84,352.38 330.09,352.40 330.34,352.43 330.59,352.47 330.84,352.51 331.09,352.57 331.34,352.63 331.59,352.70 331.84,352.78 332.09,352.87 332.34,352.97 332.59,353.08 332.84,353.19 333.09,353.32 333.34,353.46 333.59,353.60 333.84,353.76 334.09,353.93 334.34,354.11 334.59,354.30 334.84,354.50 335.09,354.71 335.34,354.93 335.59,355.17 335.84,355.42 336.09,355.69 336.34,355.96 336.59,356.26 336.84,356.57 337.09,356.89 337.34,357.23 337.59,357.59 337.84,357.96 338.09,358.36 338.34,358.77 338.59,359.21 338.84,359.67 339.09,360.15 339.34,360.66 339.59,361.19 339.84,361.75 340.09,362.34 340.34,362.97 340.59,363.63 340.84,364.33 341.09,365.06 341.34,365.85 341.59,366.68 341.84,367.56 342.09,368.51 342.34,369.52 342.59,370.60 342.84,371.77 343.09,373.03 343.34,374.40 343.59,375.90 343.84,377.54 344.09,379.36 344.34,381.39 344.59,383.68 344.84,386.32 345.09,389.39 345.34,393.07 345.59,397.65 345.84,403.67 346.09,412.42 346.34,428.49 346.55,504.34 346.59,457.90 346.84,420.38 347.09,407.89 347.34,400.15 347.59,394.51 347.84,390.05 348.09,386.37 348.34,383.22 348.59,380.48 348.84,378.03 349.09,375.83 349.34,373.83 349.59,371.99 349.84,370.29 350.09,368.71 350.34,367.23 350.59,365.84 350.84,364.53 351.09,363.30 351.34,362.12 351.59,361.00 351.84,359.93 352.09,358.91 352.34,357.93 352.59,356.99 352.84,356.08 353.09,355.21 353.34,354.38 353.59,353.57 353.84,352.78 354.09,352.02 354.34,351.29 354.59,350.58 354.84,349.89 355.09,349.22 355.34,348.57 355.59,347.93 355.84,347.32 356.10,346.72 356.35,346.13 356.60,345.56 356.85,345.01 357.10,344.47 357.35,343.94 357.60,343.42 357.85,342.91 358.10,342.42 358.35,341.94 358.60,341.47 358.85,341.00 359.10,340.55 359.35,340.11 359.60,339.68 359.85,339.25 360.10,338.84 360.35,338.43 360.60,338.03 360.85,337.64 361.10,337.26 361.35,336.88 361.60,336.51 361.85,336.15 362.10,335.79 362.35,335.45 362.60,335.11 362.85,334.77 363.10,334.44 363.35,334.12 363.60,333.80 363.85,333.49 364.10,333.19 364.35,332.89 364.60,332.59 364.85,332.30 365.10,332.02 365.35,331.74 365.60,331.47 365.85,331.20 366.10,330.94 366.35,330.68 366.60,330.42 366.85,330.17 367.10,329.93 367.35,329.69 367.60,329.45 367.85,329.22 368.10,328.99 368.35,328.77 368.60,328.55 368.85,328.33 369.10,328.12 369.35,327.92 369.60,327.71 369.85,327.51 370.10,327.32 370.35,327.13 370.60,326.94 370.85,326.75 371.10,326.57 371.35,326.39 371.60,326.22 371.85,326.05 372.10,325.88 372.35,325.72 372.60,325.56 372.85,325.40 373.10,325.25 373.35,325.10 373.60,324.95 373.85,324.81 374.10,324.67 374.35,324.53 374.60,324.39 374.85,324.26 375.10,324.13 375.35,324.01 375.60,323.89 375.85,323.80 376.10,323.80 376.35,323.80 376.60,323.80 376.85,323.80 377.10,323.80 377.35,323.80 377.60,323.80 377.85,323.80 378.10,323.80 378.35,323.80 378.60,323.80 378.85,323.80 379.10,323.80 379.35,323.80 379.60,323.80 379.85,323.80 380.10,323.80 380.35,323.80 380.60,323.80 380.85,323.80 381.10,323.80 381.35,323.80 381.60,323.80 381.85,323.80 382.10,323.80 382.35,323.80 382.60,323.80 382.85,323.80 383.10,323.80 383.35,323.80 383.60,323.80 383.85,323.80 384.10,323.80 384.35,323.80 384.60,323.80 384.85,323.80 385.10,323.80 385.35,323.80 385.60,323.80 385.85,323.80 386.10,323.80 386.35,323.80 386.60,323.80 386.85,323.80 387.10,323.80 387.35,323.80 387.60,323.80 387.85,323.80 388.10,323.80 388.35,323.80 388.60,323.80 388.85,323.80 389.10,323.80 389.35,323.80 389.60,323.80 389.85,323.80 390.10,323.80 390.35,323.80 390.60,323.80 390.85,323.80 391.10,323.80 391.35,323.80 391.60,323.80 391.85,323.80 392.10,323.80 392.35,323.80 392.60,323.80 392.85,323.80 393.10,323.80 393.35,323.80 393.60,323.80 393.85,323.80 394.10,323.80 394.35,323.80 394.60,323.80 394.85,323.80 395.10,323.80 395.35,323.80 395.60,323.80 395.85,323.80 396.10,323.80 396.35,323.80 396.60,323.80 396.85,323.80 397.10,323.80 397.35,323.80 397.60,323.80 397.85,323.80 398.10,323.80 398.35,323.80 398.60,323.80 398.85,323.87 399.10,323.99 399.35,324.11 399.60,324.23 399.85,324.35 400.10,324.48 400.35,324.61 400.60,324.74 400.85,324.88 401.10,325.01 401.35,325.15 401.60,325.30 401.85,325.44 402.10,325.59 402.35,325.74 402.60,325.89 402.85,326.05 403.10,326.21 403.35,326.37 403.60,326.54 403.85,326.70 404.10,326.87 404.35,327.05 404.60,327.22 404.85,327.40 405.10,327.58 405.35,327.77 405.60,327.96 405.85,328.15 406.10,328.34 406.35,328.54 406.60,328.74 406.85,328.94 407.10,329.15 407.35,329.35 407.60,329.57 407.85,329.78 408.10,330.00 408.35,330.22 408.60,330.45 408.85,330.68 409.10,330.91 409.35,331.14 409.60,331.38 409.85,331.62 410.10,331.87 410.35,332.12 410.60,332.37 410.85,332.62 411.10,332.88 411.35,333.14 411.60,333.41 411.85,333.68 412.10,333.95 412.35,334.23 412.60,334.51 412.85,334.80 413.10,335.09 413.35,335.38 413.60,335.68 413.85,335.98 414.10,336.28 414.35,336.59 414.60,336.91 414.85,337.22 415.10,337.55 415.35,337.87 415.60,338.20 415.85,338.54 416.10,338.88 416.35,339.22 416.60,339.57 416.85,339.92 417.10,340.28 417.35,340.65 417.60,341.01 417.86,341.39 418.11,341.77 418.36,342.15 418.61,342.54 418.86,342.93 419.11,343.33 419.36,343.74 419.61,344.15 419.86,344.57 420.11,344.99 420.36,345.42 420.61,345.85 420.86,346.29 421.11,346.74 421.36,347.19 421.61,347.65 421.86,348.12 422.11,348.59 422.36,349.07 422.61,349.56 422.86,350.05 423.11,350.56 423.36,351.07 423.61,351.58 423.86,352.11 424.11,352.64 424.36,353.19 424.61,353.74 424.86,354.30 425.11,354.86 425.36,355.44 425.61,356.03 425.86,356.62 426.11,357.23 426.36,357.85 426.61,358.48 426.86,359.11 427.11,359.76 427.36,360.43 427.61,361.10 427.86,361.78 428.11,362.48 428.36,363.19 428.61,363.92 428.86,364.66 429.11,365.41 429.36,366.18 429.61,366.97 429.86,367.77 430.11,368.59 430.36,369.42 430.61,370.28 430.86,371.15 431.11,372.04 431.36,372.96 431.61,373.90 431.86,374.86 432.11,375.84 432.36,376.85 432.61,377.89 432.86,378.95 433.11,380.05 433.36,381.18 433.61,382.34 433.86,383.54 434.11,384.78 434.36,386.06 434.61,387.38 434.86,388.76 435.11,390.18 435.36,391.67 435.61,393.21 435.86,394.82 436.11,396.51 436.36,398.28 436.61,400.15 436.86,402.12 437.11,404.21 437.36,406.44 437.61,408.83 437.86,411.42 438.11,414.22 438.36,417.31 438.61,420.75 438.86,424.66 439.11,429.19 439.36,434.64 439.61,441.57 439.86,451.26 440.11,468.39 440.31,509.00 440.36,499.85 440.61,465.43 440.86,453.93 441.11,447.11 441.36,442.40 441.61,438.90 441.86,436.20 442.11,434.05 442.36,432.34 442.61,430.97 442.86,429.88 443.11,429.03 443.36,428.39 443.61,427.94 443.86,427.67 444.11,427.57 444.36,427.63 444.61,427.86 444.86,428.25 445.11,428.81 445.36,429.56 445.61,430.52 445.86,431.70 446.11,433.16 446.36,434.92 446.61,437.08 446.86,439.73 447.11,443.04 447.36,447.25 447.61,452.77 447.86,459.93 448.11,466.63 448.18,467.08 448.36,462.41 448.61,451.84 448.86,443.51 449.11,437.11 449.36,431.97 449.61,427.68 449.86,423.98 450.11,420.73 450.36,417.83 450.61,415.21 450.86,412.82 451.11,410.62 451.36,408.58 451.61,406.68 451.86,404.90 452.11,403.23 452.36,401.66 452.61,400.17 452.86,398.76 453.11,397.42 453.36,396.14 453.61,394.93 453.86,393.76 454.11,392.65 454.36,391.58 454.61,390.56 454.86,389.58 455.11,388.64 455.36,387.73 455.61,386.85 455.86,386.01 456.11,385.20 456.36,384.41 456.61,383.66 456.86,382.93 457.11,382.22 457.36,381.54 457.61,380.87 457.86,380.23 458.11,379.62 458.36,379.02 458.61,378.44 458.86,377.87 459.11,377.33 459.36,376.80 459.61,376.29 459.86,375.79 460.11,375.31 460.36,374.84 460.61,374.39 460.86,373.95 461.11,373.52 461.36,373.11 461.61,372.71 461.86,372.32 462.11,371.94 462.36,371.57 462.61,371.22 462.86,370.87 463.11,370.54 463.36,370.21 463.61,369.90 463.86,369.59 464.11,369.29 464.36,369.01 464.61,368.73 464.86,368.46 465.11,368.20 465.36,367.94 465.61,367.70 465.86,367.46 466.11,367.23 466.36,367.00 466.61,366.79 466.86,366.58 467.11,366.38 467.36,366.18 467.61,365.99 467.86,365.81 468.11,365.64 468.36,365.47 468.61,365.30 468.86,365.15 469.11,364.99 469.36,364.85 469.61,364.71 469.86,364.57 470.11,364.45 470.36,364.32 470.61,364.20 470.86,364.09 471.11,363.98 471.36,363.88 471.61,363.78 471.86,363.69 472.11,363.61 472.36,363.52 472.61,363.45 472.86,363.37 473.11,363.31 473.36,363.24 473.61,363.19 473.86,363.13 474.11,363.09 474.36,363.04 474.61,363.00 474.86,362.97 475.11,362.94 475.36,362.91 475.61,362.89 475.86,362.88 476.11,362.87 476.36,362.86 476.61,362.86 476.86,362.86 477.11,362.87 477.36,362.88 477.61,362.90 477.86,362.92 478.11,362.95 478.36,362.98 478.61,363.02 478.86,363.06 479.11,363.11 479.36,363.16 479.61,363.22 479.87,363.29 480.12,363.35 480.37,363.43 480.62,363.51 480.87,363.59 481.12,363.68 481.37,363.78 481.62,363.88 481.87,363.99 482.12,364.11 482.37,364.23 482.62,364.36 482.87,364.49 483.12,364.63 483.37,364.78 483.62,364.93 483.87,365.09 484.12,365.26 484.37,365.44 484.62,365.62 484.87,365.81 485.12,366.01 485.37,366.22 485.62,366.44 485.87,366.66 486.12,366.89 486.37,367.14 486.62,367.39 486.87,367.65 487.12,367.92 487.37,368.21 487.62,368.50 487.87,368.80 488.12,369.12 488.37,369.44 488.62,369.78 488.87,370.14 489.12,370.50 489.37,370.88 489.62,371.27 489.87,371.68 490.12,372.10 490.37,372.54 490.62,373.00 490.87,373.47 491.12,373.96 491.37,374.47 491.62,375.00 491.87,375.55 492.12,376.13 492.37,376.73 492.62,377.35 492.87,378.00 493.12,378.68 493.37,379.39 493.62,380.13 493.87,380.90 494.12,381.71 494.37,382.56 494.62,383.46 494.87,384.40 495.12,385.40 495.37,386.45 495.62,387.56 495.87,388.75 496.12,390.01 496.37,391.36 496.62,392.81 496.87,394.37 497.12,396.07 497.37,397.92 497.62,399.96 497.87,402.23 498.12,404.78 498.37,407.70 498.62,411.10 498.87,415.16 499.12,420.22 499.37,426.91 499.62,436.68 499.87,453.18 499.99,460.10 500.12,453.72 500.37,438.27 500.62,428.82 500.87,422.33 501.12,417.41 501.37,413.47 501.62,410.19 501.87,407.39 502.12,404.94 502.37,402.77 502.62,400.83 502.87,399.07 503.12,397.46 503.37,395.99 503.62,394.63 503.87,393.37 504.12,392.19 504.37,391.09 504.62,390.06 504.87,389.09 505.12,388.18 505.37,387.31 505.62,386.49 505.87,385.72 506.12,384.98 506.37,384.28 506.62,383.61 506.87,382.97 507.12,382.36 507.37,381.78 507.62,381.23 507.87,380.70 508.12,380.19 508.37,379.70 508.62,379.23 508.87,378.78 509.12,378.36 509.37,377.94 509.62,377.55 509.87,377.17 510.12,376.81 510.37,376.46 510.62,376.13 510.87,375.81 511.12,375.50 511.37,375.21 511.62,374.92 511.87,374.65 512.12,374.40 512.37,374.15 512.62,373.91 512.87,373.69 513.12,373.47 513.37,373.27 513.62,373.08 513.87,372.89 514.12,372.71 514.37,372.55 514.62,372.39 514.87,372.24 515.12,372.10 515.37,371.97 515.62,371.85 515.87,371.73 516.12,371.63 516.37,371.53 516.62,371.44 516.87,371.36 517.12,371.28 517.37,371.22 517.62,371.16 517.87,371.10 518.12,371.06 518.37,371.02 518.62,370.99 518.87,370.97 519.12,370.95 519.37,370.94 519.62,370.94 519.87,370.95 520.12,370.96 520.37,370.98 520.62,371.01 520.87,371.04 521.12,371.09 521.37,371.13 521.62,371.19 521.87,371.25 522.12,371.32 522.37,371.40 522.62,371.48 522.87,371.57 523.12,371.67 523.37,371.78 523.62,371.89 523.87,372.01 524.12,372.14 524.37,372.28 524.62,372.42 524.87,372.57 525.12,372.73 525.37,372.90 525.62,373.07 525.87,373.26 526.12,373.45 526.37,373.65 526.62,373.85 526.87,374.07 527.12,374.30 527.37,374.53 527.62,374.78 527.87,375.03 528.12,375.29 528.37,375.57 528.62,375.85 528.87,376.14 529.12,376.45 529.37,376.76 529.62,377.09 529.87,377.43 530.12,377.78 530.37,378.14 530.62,378.52 530.87,378.91 531.12,379.31 531.37,379.73 531.62,380.16 531.87,380.61 532.12,381.07 532.37,381.55 532.62,382.05 532.87,382.56 533.12,383.10 533.37,383.66 533.62,384.23 533.87,384.83 534.12,385.46 534.37,386.11 534.62,386.78 534.87,387.49 535.12,388.23 535.37,389.00 535.62,389.80 535.87,390.65 536.12,391.54 536.37,392.47 536.62,393.45 536.87,394.49 537.12,395.59 537.37,396.76 537.62,398.00 537.87,399.33 538.12,400.75 538.37,402.29 538.62,403.96 538.87,405.78 539.12,407.79 539.37,410.01 539.62,412.52 539.87,415.37 540.12,418.69 540.37,422.65 540.62,427.54 540.87,433.91 541.12,442.84 541.37,455.71 541.51,460.10 541.62,456.23 541.88,442.73 542.13,433.48 542.38,426.99 542.63,422.05 542.88,418.07 543.13,414.76 543.38,411.91 543.63,409.43 543.88,407.22 544.13,405.24 544.38,403.45 544.63,401.81 544.88,400.31 545.13,398.92 545.38,397.62 545.63,396.41 545.88,395.28 546.13,394.22 546.38,393.22 546.63,392.27 546.88,391.38 547.13,390.53 547.38,389.72 547.63,388.96 547.88,388.23 548.13,387.53 548.38,386.86 548.63,386.22 548.88,385.61 549.13,385.03 549.38,384.47 549.63,383.93 549.88,383.42 550.13,382.92 550.38,382.44 550.63,381.99 550.88,381.55 551.13,381.12 551.38,380.72 551.63,380.32 551.88,379.95 552.13,379.59 552.38,379.24 552.63,378.90 552.88,378.58 553.13,378.27 553.38,377.97 553.63,377.68 553.88,377.40 554.13,377.14 554.38,376.88 554.63,376.64 554.88,376.40 555.13,376.18 555.38,375.96 555.63,375.75 555.88,375.56 556.13,375.37 556.38,375.18 556.63,375.01 556.88,374.85 557.13,374.69 557.38,374.54 557.63,374.40 557.88,374.27 558.13,374.14 558.38,374.02 558.63,373.91 558.88,373.81 559.13,373.71 559.38,373.62 559.63,373.54 559.88,373.46 560.13,373.39 560.38,373.33 560.63,373.27 560.88,373.22 561.13,373.17 561.38,373.13 561.63,373.10 561.88,373.07 562.13,373.05 562.38,373.04 562.63,373.03 562.88,373.03 563.13,373.03 563.38,373.04 563.63,373.06 563.88,373.08 564.13,373.10 564.38,373.13 564.63,373.17 564.88,373.22 565.13,373.27 565.38,373.32 565.63,373.38 565.88,373.45 566.13,373.52 566.38,373.59 566.63,373.68 566.88,373.76 567.13,373.86 567.38,373.96 567.63,374.06 567.88,374.17 568.13,374.29 568.38,374.41 568.63,374.54 568.88,374.67 569.13,374.81 569.38,374.95 569.63,375.10 569.88,375.26 570.13,375.42 570.38,375.58 570.63,375.75 570.88,375.93 571.13,376.12 571.38,376.31 571.63,376.50 571.88,376.70 572.13,376.91 572.38,377.12 572.63,377.34 572.88,377.56 573.13,377.80 573.38,378.03 573.63,378.28 573.88,378.53 574.13,378.78 574.38,379.04 574.63,379.31 574.88,379.59 575.13,379.87 575.38,380.16 575.63,380.45 575.88,380.75 576.13,381.06 576.38,381.38 576.63,381.70 576.88,382.03 577.13,382.37 577.38,382.71 577.63,383.06 577.88,383.42 578.13,383.79 578.38,384.16 578.63,384.55 578.88,384.94 579.13,385.33 579.38,385.74 579.63,386.16 579.88,386.58 580.13,387.01 580.38,387.45 580.63,387.90 580.88,388.36 581.13,388.83 581.38,389.31 581.63,389.80 581.88,390.30 582.13,390.80 582.38,391.32 582.63,391.85 582.88,392.39 583.13,392.94 583.38,393.50 583.63,394.08 583.88,394.66 584.13,395.26 584.38,395.87 584.63,396.49 584.88,397.13 585.13,397.78 585.38,398.44 585.63,399.12 585.88,399.81 586.13,400.52 586.38,401.24 586.63,401.98 586.88,402.73 587.13,403.51 587.38,404.30 587.63,405.10 587.88,405.93 588.13,406.77 588.38,407.64 588.63,408.52 588.88,409.43 589.13,410.36 589.38,411.31 589.63,412.29 589.88,413.29 590.13,414.31 590.38,415.37 590.63,416.45 590.88,417.56 591.13,418.70 591.38,419.87 591.63,421.08 591.88,422.33 592.13,423.61 592.38,424.93 592.63,426.29 592.88,427.70 593.13,429.16 593.38,430.68 593.63,432.25 593.88,433.88 594.13,435.59 594.38,437.37 594.63,439.24 594.88,441.22 595.13,443.32 595.38,445.55 595.63,447.96 595.88,450.58 596.13,453.47 596.38,456.71 596.63,460.42 596.88,464.81 597.13,470.23 597.38,477.38 597.63,487.90 597.88,504.14 597.96,506.67 598.13,497.18 598.38,483.21 598.63,474.43 598.88,468.17 599.13,463.30 599.38,459.28 599.63,455.85 599.88,452.83 600.13,450.12 600.38,447.65 600.63,445.37 600.88,443.25 601.13,441.26 601.38,439.37 601.63,437.58 601.88,435.88 602.13,434.24 602.38,432.68 602.63,431.17 602.88,429.71 603.13,428.31 603.38,426.95 603.64,425.64 603.89,424.37 604.14,423.13 604.39,421.94 604.64,420.77 604.89,419.64 605.14,418.54 605.39,417.47 605.64,416.43 605.89,415.42 606.14,414.43 606.39,413.47 606.64,412.53 606.89,411.62 607.14,410.73 607.39,409.86 607.64,409.01 607.89,408.18 608.14,407.37 608.39,406.58 608.64,405.81 608.89,405.06 609.14,404.32 609.39,403.60 609.64,402.90 609.89,402.21 610.14,401.54 610.39,400.88 610.64,400.24 610.89,399.61 611.14,399.00 611.39,398.40 611.64,397.81 611.89,397.23 612.14,396.67 612.39,396.12 612.64,395.58 612.89,395.05 613.14,394.54 613.39,394.03 613.64,393.54 613.89,393.05 614.14,392.58 614.39,392.12 614.64,391.67 614.89,391.22 615.14,390.79 615.39,390.37 615.64,389.95 615.89,389.55 616.14,389.15 616.39,388.76 616.64,388.38 616.89,388.01 617.14,387.65 617.39,387.29 617.64,386.95 617.89,386.61 618.14,386.28 618.39,385.95 618.64,385.64 618.89,385.33 619.14,385.03 619.39,384.74 619.64,384.45 619.89,384.17 620.14,383.90 620.39,383.63 620.64,383.37 620.89,383.12 621.14,382.88 621.39,382.64 621.64,382.41 621.89,382.18 622.14,381.97 622.39,381.75 622.64,381.55 622.89,381.35 623.14,381.15 623.39,380.97 623.64,380.79 623.89,380.61 624.14,380.44 624.39,380.28 624.64,380.12 624.89,379.97 625.14,379.83 625.39,379.69 625.64,379.56 625.89,379.43 626.14,379.31 626.39,379.19 626.64,379.08 626.89,378.98 627.14,378.88 627.39,378.79 627.64,378.70 627.89,378.62 628.14,378.54 628.39,378.48 628.64,378.41 628.89,378.35 629.14,378.30 629.39,378.25 629.64,378.21 629.89,378.18 630.14,378.15 630.39,378.13 630.64,378.11 630.89,378.10 631.14,378.09 631.39,378.09 631.64,378.10 631.89,378.11 632.14,378.13 632.39,378.15 632.64,378.18 632.89,378.22 633.14,378.26 633.39,378.31 633.64,378.36 633.89,378.42 634.14,378.49 634.39,378.56 634.64,378.64 634.89,378.73 635.14,378.82 635.39,378.92 635.64,379.03 635.89,379.15 636.14,379.27 636.39,379.39 636.64,379.53 636.89,379.67 637.14,379.82 637.39,379.98 637.64,380.14 637.89,380.32 638.14,380.50 638.39,380.69 638.64,380.88 638.89,381.09 639.14,381.31 639.39,381.53 639.64,381.76 639.89,382.00 640.14,382.25 640.39,382.52 640.64,382.79 640.89,383.07 641.14,383.36 641.39,383.66 641.64,383.98 641.89,384.30 642.14,384.64 642.39,384.99 642.64,385.36 642.89,385.73 643.14,386.12 643.39,386.53 643.64,386.95 643.89,387.38 644.14,387.84 644.39,388.30 644.64,388.79 644.89,389.30 645.14,389.82 645.39,390.37 645.64,390.94 645.89,391.53 646.14,392.14 646.39,392.79 646.64,393.46 646.89,394.16 647.14,394.89 647.39,395.65 647.64,396.45 647.89,397.30 648.14,398.18 648.39,399.12 648.64,400.10 648.89,401.14 649.14,402.25 649.39,403.42 649.64,404.68 649.89,406.02 650.14,407.47 650.39,409.03 650.64,410.73 650.89,412.60 651.14,414.65 651.39,416.95 651.64,419.55 651.89,422.54 652.14,426.06 652.39,430.32 652.64,435.72 652.89,443.10 653.14,454.76 653.39,481.78 653.46,490.37 653.64,465.38 653.89,448.92 654.14,439.88 654.39,433.65 654.64,428.90 654.89,425.06 655.14,421.84 655.39,419.07 655.64,416.64 655.89,414.49 656.14,412.54 656.39,410.78 656.64,409.16 656.89,407.68 657.14,406.30 657.39,405.02 657.64,403.82 657.89,402.69 658.14,401.63 658.39,400.64 658.64,399.69 658.89,398.80 659.14,397.95 659.39,397.15 659.64,396.38 659.89,395.64 660.14,394.94 660.39,394.28 660.64,393.63 660.89,393.02 661.14,392.43 661.39,391.87 661.64,391.33 661.89,390.81 662.14,390.31 662.39,389.83 662.64,389.37 662.89,388.92 663.14,388.50 663.39,388.09 663.64,387.69 663.89,387.31 664.14,386.94 664.39,386.59 664.64,386.25 664.89,385.93 665.14,385.61 665.39,385.31 665.65,385.02 665.90,384.75 666.15,384.48 666.40,384.22 666.65,383.98 666.90,383.74 667.15,383.52 667.40,383.30 667.65,383.09 667.90,382.90 668.15,382.71 668.40,382.53 668.65,382.36 668.90,382.20 669.15,382.05 669.40,381.91 669.65,381.77 669.90,381.65 670.15,381.53 670.40,381.42 670.65,381.32 670.90,381.22 671.15,381.13 671.40,381.06 671.65,380.98 671.90,380.92 672.15,380.86 672.40,380.82 672.65,380.78 672.90,380.74 673.15,380.72 673.40,380.70 673.65,380.69 673.90,380.68 674.15,380.69 674.40,380.70 674.65,380.72 674.90,380.74 675.15,380.78 675.40,380.82 675.65,380.87 675.90,380.92 676.15,380.98 676.40,381.06 676.65,381.14 676.90,381.22 677.15,381.32 677.40,381.42 677.65,381.53 677.90,381.65 678.15,381.78 678.40,381.91 678.65,382.06 678.90,382.21 679.15,382.37 679.40,382.54 679.65,382.72 679.90,382.90 680.15,383.10 680.40,383.31 680.65,383.52 680.90,383.75 681.15,383.99 681.40,384.23 681.65,384.49 681.90,384.76 682.15,385.04 682.40,385.33 682.65,385.63 682.90,385.95 683.15,386.28 683.40,386.62 683.65,386.97 683.90,387.34 684.15,387.72 684.40,388.12 684.65,388.53 684.90,388.96 685.15,389.41 685.40,389.87 685.65,390.36 685.90,390.86 686.15,391.38 686.40,391.93 686.65,392.50 686.90,393.09 687.15,393.71 687.40,394.35 687.65,395.03 687.90,395.74 688.15,396.47 688.40,397.25 688.65,398.07 688.90,398.92 689.15,399.83 689.40,400.78 689.65,401.79 689.90,402.86 690.15,403.99 690.40,405.21 690.65,406.51 690.90,407.91 691.15,409.42 691.40,411.06 691.65,412.85 691.90,414.83 692.15,417.03 692.40,419.52 692.65,422.35 692.90,425.67 693.15,429.64 693.40,434.61 693.65,441.21 693.90,451.08 694.15,471.05 694.30,506.67 694.40,476.06 694.65,451.82 694.90,441.05 695.15,434.07 695.40,428.88 695.65,424.77 695.90,421.36 696.15,418.44 696.40,415.90" fill="none" stroke="#0000f5" stroke-width="3.6" stroke-linejoin="round"/>
<text x="72.2" y="330.8" text-anchor="end">0</text>
<text x="72.2" y="377.4" text-anchor="end">-20</text>
<text x="72.2" y="423.9" text-anchor="end">-40</text>
<text x="72.2" y="470.5" text-anchor="end">-60</text>
<text x="72.2" y="517.1" text-anchor="end">-80</text>
<text x="63.2" y="536.0">-</text><path transform="translate(71.60,536.00) scale(0.011230,-0.011230)" d="M763 0H583V1147C540 1106 483 1064 413 1023C343 982 280 951 223 930V1104C323 1151 411 1208 486 1275C561 1342 614 1407 645 1469H763Z"/>
<text x="229.1" y="536.0" text-anchor="middle">-0.5</text>
<text x="387.05" y="536.0" text-anchor="middle">0</text>
<text x="542.05" y="536.0" text-anchor="middle">0.5</text>
<path transform="translate(689.60,536.00) scale(0.011230,-0.011230)" d="M763 0H583V1147C540 1106 483 1064 413 1023C343 982 280 951 223 930V1104C323 1151 411 1208 486 1275C561 1342 614 1407 645 1469H763Z"/>
<text x="366.7" y="564.0" textLength="28.7" lengthAdjust="spacingAndGlyphs">sin</text>
<ellipse cx="400.7" cy="555.9" rx="4.15" ry="7.25" fill="none" stroke="#000" stroke-width="1.2"/>
<line x1="396.59999999999997" y1="555.9" x2="404.8" y2="555.9" stroke="#000" stroke-width="1.1"/>
<text transform="translate(26.9,416.6) rotate(-90)" text-anchor="middle">Power/dB</text>
<text x="389.3" y="305.9" text-anchor="middle">Reference Pattern</text>
</svg></body></html>
